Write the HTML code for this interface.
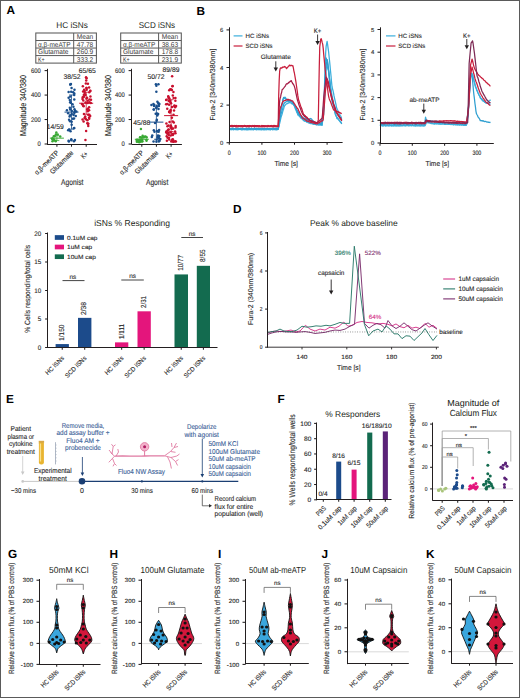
<!DOCTYPE html>
<html><head><meta charset="utf-8"><title>Figure</title>
<style>
html,body{margin:0;padding:0;background:#fff;}
body{width:520px;height:698px;overflow:hidden;}
svg{display:block;font-family:"Liberation Sans", sans-serif;text-rendering:geometricPrecision;}
</style></head><body>
<svg width="520" height="698" viewBox="0 0 520 698">
<rect x="0" y="0" width="520" height="698" fill="#fff"/>
<text x="6.60" y="14.20" font-size="11.8" text-anchor="start" fill="#000" font-weight="bold">A</text>
<text x="196.60" y="14.60" font-size="11.8" text-anchor="start" fill="#000" font-weight="bold">B</text>
<text x="6.50" y="212.90" font-size="11.8" text-anchor="start" fill="#000" font-weight="bold">C</text>
<text x="232.90" y="212.80" font-size="11.8" text-anchor="start" fill="#000" font-weight="bold">D</text>
<text x="6.10" y="402.80" font-size="11.8" text-anchor="start" fill="#000" font-weight="bold">E</text>
<text x="277.60" y="402.70" font-size="11.8" text-anchor="start" fill="#000" font-weight="bold">F</text>
<text x="8.00" y="557.60" font-size="11.8" text-anchor="start" fill="#000" font-weight="bold">G</text>
<text x="109.40" y="557.60" font-size="11.8" text-anchor="start" fill="#000" font-weight="bold">H</text>
<text x="217.90" y="557.60" font-size="11.8" text-anchor="start" fill="#000" font-weight="bold">I</text>
<text x="321.40" y="557.60" font-size="11.8" text-anchor="start" fill="#000" font-weight="bold">J</text>
<text x="425.90" y="557.70" font-size="11.8" text-anchor="start" fill="#000" font-weight="bold">K</text>
<text x="72.00" y="28.11" font-size="8.4" text-anchor="middle" fill="#231f20" textLength="31.50" lengthAdjust="spacingAndGlyphs">HC iSNs</text>
<rect x="35.80" y="33.00" width="60.60" height="30.10" fill="none" stroke="#5a5a5a" stroke-width="1.05"/>
<line x1="35.80" y1="40.52" x2="96.40" y2="40.52" stroke="#5a5a5a" stroke-width="1.0"/>
<line x1="35.80" y1="48.05" x2="96.40" y2="48.05" stroke="#5a5a5a" stroke-width="1.0"/>
<line x1="35.80" y1="55.58" x2="96.40" y2="55.58" stroke="#5a5a5a" stroke-width="1.0"/>
<line x1="73.70" y1="33.00" x2="73.70" y2="63.10" stroke="#5a5a5a" stroke-width="1.0"/>
<text x="85.05" y="39.27" font-size="7.0" text-anchor="middle" fill="#3a3a3a" textLength="16.50" lengthAdjust="spacingAndGlyphs">Mean</text>
<text x="38.00" y="46.79" font-size="7.0" text-anchor="start" fill="#3a3a3a" textLength="32.50" lengthAdjust="spacingAndGlyphs">α,β-meATP</text>
<text x="85.05" y="46.79" font-size="7.0" text-anchor="middle" fill="#3a3a3a" textLength="16.50" lengthAdjust="spacingAndGlyphs">47.78</text>
<text x="38.00" y="54.32" font-size="7.0" text-anchor="start" fill="#3a3a3a" textLength="30.50" lengthAdjust="spacingAndGlyphs">Glutamate</text>
<text x="85.05" y="54.32" font-size="7.0" text-anchor="middle" fill="#3a3a3a" textLength="16.50" lengthAdjust="spacingAndGlyphs">260.9</text>
<text x="38.00" y="61.84" font-size="7.0" text-anchor="start" fill="#3a3a3a" textLength="6.70" lengthAdjust="spacingAndGlyphs">K+</text>
<text x="85.05" y="61.84" font-size="7.0" text-anchor="middle" fill="#3a3a3a" textLength="16.50" lengthAdjust="spacingAndGlyphs">333.2</text>
<line x1="47.50" y1="68.80" x2="47.50" y2="144.50" stroke="#231f20" stroke-width="1.05"/>
<line x1="44.60" y1="144.00" x2="47.50" y2="144.00" stroke="#231f20" stroke-width="1.05"/>
<text x="40.80" y="146.36" font-size="6.6" text-anchor="end" fill="#2a2a2a" stroke="#2a2a2a" stroke-width="0.12" textLength="3.27" lengthAdjust="spacingAndGlyphs">0</text>
<line x1="44.60" y1="119.53" x2="47.50" y2="119.53" stroke="#231f20" stroke-width="1.05"/>
<text x="40.80" y="121.90" font-size="6.6" text-anchor="end" fill="#2a2a2a" stroke="#2a2a2a" stroke-width="0.12" textLength="9.80" lengthAdjust="spacingAndGlyphs">200</text>
<line x1="44.60" y1="95.07" x2="47.50" y2="95.07" stroke="#231f20" stroke-width="1.05"/>
<text x="40.80" y="97.43" font-size="6.6" text-anchor="end" fill="#2a2a2a" stroke="#2a2a2a" stroke-width="0.12" textLength="9.80" lengthAdjust="spacingAndGlyphs">400</text>
<line x1="44.60" y1="70.60" x2="47.50" y2="70.60" stroke="#231f20" stroke-width="1.05"/>
<text x="40.80" y="72.96" font-size="6.6" text-anchor="end" fill="#2a2a2a" stroke="#2a2a2a" stroke-width="0.12" textLength="9.80" lengthAdjust="spacingAndGlyphs">600</text>
<line x1="47.00" y1="144.50" x2="97.00" y2="144.50" stroke="#231f20" stroke-width="1.05"/>
<line x1="56.90" y1="144.50" x2="56.90" y2="146.70" stroke="#231f20" stroke-width="1.05"/>
<line x1="71.50" y1="144.50" x2="71.50" y2="146.70" stroke="#231f20" stroke-width="1.05"/>
<line x1="86.20" y1="144.50" x2="86.20" y2="146.70" stroke="#231f20" stroke-width="1.05"/>
<text x="25.78" y="105.60" font-size="8.6" text-anchor="middle" fill="#231f20" stroke="#231f20" stroke-width="0.12" transform="rotate(-90 25.78 105.60)" textLength="60.90" lengthAdjust="spacingAndGlyphs">Magnitude 340/380</text>
<text x="59.30" y="153.40" font-size="7.2" text-anchor="end" fill="#2a2a2a" stroke="#2a2a2a" stroke-width="0.12" textLength="31.00" lengthAdjust="spacingAndGlyphs" transform="rotate(-45 59.30 153.40)">α,β-meATP</text>
<text x="73.90" y="153.40" font-size="7.2" text-anchor="end" fill="#2a2a2a" stroke="#2a2a2a" stroke-width="0.12" textLength="30.00" lengthAdjust="spacingAndGlyphs" transform="rotate(-45 73.90 153.40)">Glutamate</text>
<text x="88.60" y="154.40" font-size="7.4" text-anchor="end" fill="#2a2a2a" stroke="#2a2a2a" stroke-width="0.12" textLength="6.80" lengthAdjust="spacingAndGlyphs" transform="rotate(-45 88.60 154.40)">K+</text>
<text x="72.20" y="185.11" font-size="8.4" text-anchor="middle" fill="#2a2a2a" stroke="#2a2a2a" stroke-width="0.12" textLength="22.30" lengthAdjust="spacingAndGlyphs">Agonist</text>
<circle cx="53.93" cy="139.97" r="1.25" fill="#3aa935"/>
<circle cx="55.49" cy="140.82" r="1.25" fill="#3aa935"/>
<circle cx="52.43" cy="138.37" r="1.25" fill="#3aa935"/>
<circle cx="52.50" cy="141.20" r="1.25" fill="#3aa935"/>
<circle cx="53.41" cy="138.93" r="1.25" fill="#3aa935"/>
<circle cx="53.39" cy="139.76" r="1.25" fill="#3aa935"/>
<circle cx="55.70" cy="141.27" r="1.25" fill="#3aa935"/>
<circle cx="52.16" cy="139.07" r="1.25" fill="#3aa935"/>
<circle cx="60.19" cy="136.48" r="1.25" fill="#3aa935"/>
<circle cx="57.70" cy="134.54" r="1.25" fill="#3aa935"/>
<circle cx="53.81" cy="136.32" r="1.25" fill="#3aa935"/>
<circle cx="54.72" cy="136.22" r="1.25" fill="#3aa935"/>
<circle cx="55.83" cy="134.58" r="1.25" fill="#3aa935"/>
<circle cx="56.32" cy="132.61" r="1.25" fill="#3aa935"/>
<line x1="49.90" y1="138.15" x2="63.90" y2="138.15" stroke="#3aa935" stroke-width="1.0"/>
<line x1="56.90" y1="135.71" x2="56.90" y2="140.60" stroke="#3aa935" stroke-width="0.8"/>
<line x1="54.50" y1="135.71" x2="59.30" y2="135.71" stroke="#3aa935" stroke-width="0.8"/>
<line x1="54.50" y1="140.60" x2="59.30" y2="140.60" stroke="#3aa935" stroke-width="0.8"/>
<circle cx="68.86" cy="141.46" r="1.25" fill="#1a4f8c"/>
<circle cx="73.94" cy="141.20" r="1.25" fill="#1a4f8c"/>
<circle cx="74.95" cy="140.11" r="1.25" fill="#1a4f8c"/>
<circle cx="71.26" cy="139.25" r="1.25" fill="#1a4f8c"/>
<circle cx="71.39" cy="140.24" r="1.25" fill="#1a4f8c"/>
<circle cx="68.60" cy="140.73" r="1.25" fill="#1a4f8c"/>
<circle cx="69.07" cy="119.82" r="1.25" fill="#1a4f8c"/>
<circle cx="70.54" cy="131.20" r="1.25" fill="#1a4f8c"/>
<circle cx="70.07" cy="121.26" r="1.25" fill="#1a4f8c"/>
<circle cx="73.80" cy="128.22" r="1.25" fill="#1a4f8c"/>
<circle cx="69.13" cy="130.00" r="1.25" fill="#1a4f8c"/>
<circle cx="68.16" cy="130.33" r="1.25" fill="#1a4f8c"/>
<circle cx="74.25" cy="127.99" r="1.25" fill="#1a4f8c"/>
<circle cx="71.65" cy="121.78" r="1.25" fill="#1a4f8c"/>
<circle cx="69.03" cy="129.56" r="1.25" fill="#1a4f8c"/>
<circle cx="71.65" cy="124.65" r="1.25" fill="#1a4f8c"/>
<circle cx="66.91" cy="110.15" r="1.25" fill="#1a4f8c"/>
<circle cx="71.78" cy="114.07" r="1.25" fill="#1a4f8c"/>
<circle cx="76.29" cy="111.49" r="1.25" fill="#1a4f8c"/>
<circle cx="74.04" cy="118.61" r="1.25" fill="#1a4f8c"/>
<circle cx="72.87" cy="118.66" r="1.25" fill="#1a4f8c"/>
<circle cx="69.61" cy="116.51" r="1.25" fill="#1a4f8c"/>
<circle cx="70.21" cy="109.55" r="1.25" fill="#1a4f8c"/>
<circle cx="68.17" cy="113.26" r="1.25" fill="#1a4f8c"/>
<circle cx="73.65" cy="114.92" r="1.25" fill="#1a4f8c"/>
<circle cx="71.82" cy="110.94" r="1.25" fill="#1a4f8c"/>
<circle cx="74.29" cy="112.88" r="1.25" fill="#1a4f8c"/>
<circle cx="70.15" cy="115.13" r="1.25" fill="#1a4f8c"/>
<circle cx="69.81" cy="107.87" r="1.25" fill="#1a4f8c"/>
<circle cx="74.52" cy="109.27" r="1.25" fill="#1a4f8c"/>
<circle cx="75.77" cy="115.95" r="1.25" fill="#1a4f8c"/>
<circle cx="75.03" cy="111.10" r="1.25" fill="#1a4f8c"/>
<circle cx="74.56" cy="111.82" r="1.25" fill="#1a4f8c"/>
<circle cx="73.44" cy="106.69" r="1.25" fill="#1a4f8c"/>
<circle cx="73.18" cy="92.36" r="1.25" fill="#1a4f8c"/>
<circle cx="69.83" cy="99.92" r="1.25" fill="#1a4f8c"/>
<circle cx="71.56" cy="88.07" r="1.25" fill="#1a4f8c"/>
<circle cx="70.75" cy="102.83" r="1.25" fill="#1a4f8c"/>
<circle cx="68.63" cy="97.69" r="1.25" fill="#1a4f8c"/>
<circle cx="68.62" cy="91.89" r="1.25" fill="#1a4f8c"/>
<circle cx="70.15" cy="102.25" r="1.25" fill="#1a4f8c"/>
<circle cx="70.25" cy="96.48" r="1.25" fill="#1a4f8c"/>
<circle cx="72.50" cy="104.18" r="1.25" fill="#1a4f8c"/>
<circle cx="74.28" cy="93.41" r="1.25" fill="#1a4f8c"/>
<circle cx="71.18" cy="91.76" r="1.25" fill="#1a4f8c"/>
<circle cx="74.17" cy="95.04" r="1.25" fill="#1a4f8c"/>
<circle cx="74.48" cy="89.86" r="1.25" fill="#1a4f8c"/>
<circle cx="74.28" cy="99.48" r="1.25" fill="#1a4f8c"/>
<circle cx="70.92" cy="83.90" r="1.25" fill="#1a4f8c"/>
<circle cx="70.30" cy="84.45" r="1.25" fill="#1a4f8c"/>
<circle cx="70.33" cy="84.53" r="1.25" fill="#1a4f8c"/>
<line x1="64.50" y1="112.08" x2="78.50" y2="112.08" stroke="#1a4f8c" stroke-width="1.0"/>
<line x1="71.50" y1="94.96" x2="71.50" y2="129.21" stroke="#1a4f8c" stroke-width="0.8"/>
<line x1="69.10" y1="94.96" x2="73.90" y2="94.96" stroke="#1a4f8c" stroke-width="0.8"/>
<line x1="69.10" y1="129.21" x2="73.90" y2="129.21" stroke="#1a4f8c" stroke-width="0.8"/>
<circle cx="85.44" cy="140.10" r="1.25" fill="#c8102e"/>
<circle cx="83.60" cy="121.49" r="1.25" fill="#c8102e"/>
<circle cx="87.40" cy="120.21" r="1.25" fill="#c8102e"/>
<circle cx="88.28" cy="125.97" r="1.25" fill="#c8102e"/>
<circle cx="88.28" cy="123.64" r="1.25" fill="#c8102e"/>
<circle cx="86.15" cy="131.02" r="1.25" fill="#c8102e"/>
<circle cx="87.27" cy="123.19" r="1.25" fill="#c8102e"/>
<circle cx="88.03" cy="123.85" r="1.25" fill="#c8102e"/>
<circle cx="82.55" cy="119.62" r="1.25" fill="#c8102e"/>
<circle cx="87.18" cy="109.48" r="1.25" fill="#c8102e"/>
<circle cx="90.17" cy="116.05" r="1.25" fill="#c8102e"/>
<circle cx="88.18" cy="114.81" r="1.25" fill="#c8102e"/>
<circle cx="87.73" cy="111.35" r="1.25" fill="#c8102e"/>
<circle cx="85.99" cy="119.26" r="1.25" fill="#c8102e"/>
<circle cx="83.95" cy="113.89" r="1.25" fill="#c8102e"/>
<circle cx="89.09" cy="117.48" r="1.25" fill="#c8102e"/>
<circle cx="84.58" cy="118.10" r="1.25" fill="#c8102e"/>
<circle cx="89.21" cy="118.81" r="1.25" fill="#c8102e"/>
<circle cx="89.08" cy="110.14" r="1.25" fill="#c8102e"/>
<circle cx="85.19" cy="117.95" r="1.25" fill="#c8102e"/>
<circle cx="85.21" cy="116.50" r="1.25" fill="#c8102e"/>
<circle cx="89.33" cy="114.75" r="1.25" fill="#c8102e"/>
<circle cx="87.98" cy="108.87" r="1.25" fill="#c8102e"/>
<circle cx="83.30" cy="105.82" r="1.25" fill="#c8102e"/>
<circle cx="82.47" cy="99.06" r="1.25" fill="#c8102e"/>
<circle cx="82.71" cy="97.22" r="1.25" fill="#c8102e"/>
<circle cx="90.25" cy="91.09" r="1.25" fill="#c8102e"/>
<circle cx="89.27" cy="92.27" r="1.25" fill="#c8102e"/>
<circle cx="83.09" cy="91.45" r="1.25" fill="#c8102e"/>
<circle cx="89.47" cy="102.19" r="1.25" fill="#c8102e"/>
<circle cx="91.00" cy="99.68" r="1.25" fill="#c8102e"/>
<circle cx="87.77" cy="100.72" r="1.25" fill="#c8102e"/>
<circle cx="84.70" cy="91.08" r="1.25" fill="#c8102e"/>
<circle cx="86.69" cy="89.73" r="1.25" fill="#c8102e"/>
<circle cx="82.62" cy="104.53" r="1.25" fill="#c8102e"/>
<circle cx="81.93" cy="104.07" r="1.25" fill="#c8102e"/>
<circle cx="90.77" cy="103.04" r="1.25" fill="#c8102e"/>
<circle cx="87.65" cy="103.02" r="1.25" fill="#c8102e"/>
<circle cx="86.47" cy="98.40" r="1.25" fill="#c8102e"/>
<circle cx="90.41" cy="96.49" r="1.25" fill="#c8102e"/>
<circle cx="85.54" cy="102.48" r="1.25" fill="#c8102e"/>
<circle cx="89.14" cy="107.22" r="1.25" fill="#c8102e"/>
<circle cx="89.46" cy="99.61" r="1.25" fill="#c8102e"/>
<circle cx="83.31" cy="100.52" r="1.25" fill="#c8102e"/>
<circle cx="83.72" cy="96.91" r="1.25" fill="#c8102e"/>
<circle cx="84.13" cy="89.81" r="1.25" fill="#c8102e"/>
<circle cx="83.92" cy="94.63" r="1.25" fill="#c8102e"/>
<circle cx="87.06" cy="97.84" r="1.25" fill="#c8102e"/>
<circle cx="83.87" cy="95.97" r="1.25" fill="#c8102e"/>
<circle cx="85.41" cy="94.89" r="1.25" fill="#c8102e"/>
<circle cx="83.62" cy="106.31" r="1.25" fill="#c8102e"/>
<circle cx="90.30" cy="90.79" r="1.25" fill="#c8102e"/>
<circle cx="84.78" cy="92.99" r="1.25" fill="#c8102e"/>
<circle cx="86.06" cy="77.18" r="1.25" fill="#c8102e"/>
<circle cx="86.56" cy="78.21" r="1.25" fill="#c8102e"/>
<circle cx="87.94" cy="83.67" r="1.25" fill="#c8102e"/>
<circle cx="85.86" cy="83.58" r="1.25" fill="#c8102e"/>
<circle cx="89.12" cy="87.56" r="1.25" fill="#c8102e"/>
<circle cx="86.21" cy="80.41" r="1.25" fill="#c8102e"/>
<circle cx="86.51" cy="88.11" r="1.25" fill="#c8102e"/>
<circle cx="86.43" cy="88.04" r="1.25" fill="#c8102e"/>
<circle cx="82.83" cy="86.14" r="1.25" fill="#c8102e"/>
<line x1="79.20" y1="103.24" x2="93.20" y2="103.24" stroke="#c8102e" stroke-width="1.0"/>
<line x1="86.20" y1="92.23" x2="86.20" y2="114.25" stroke="#c8102e" stroke-width="0.8"/>
<line x1="83.80" y1="92.23" x2="88.60" y2="92.23" stroke="#c8102e" stroke-width="0.8"/>
<line x1="83.80" y1="114.25" x2="88.60" y2="114.25" stroke="#c8102e" stroke-width="0.8"/>
<text x="55.30" y="128.77" font-size="6.9" text-anchor="middle" fill="#2a2a2a" stroke="#2a2a2a" stroke-width="0.12" textLength="17.00" lengthAdjust="spacingAndGlyphs">14/59</text>
<text x="72.00" y="78.67" font-size="6.9" text-anchor="middle" fill="#2a2a2a" stroke="#2a2a2a" stroke-width="0.12" textLength="17.00" lengthAdjust="spacingAndGlyphs">38/52</text>
<text x="87.20" y="72.77" font-size="6.9" text-anchor="middle" fill="#2a2a2a" stroke="#2a2a2a" stroke-width="0.12" textLength="17.00" lengthAdjust="spacingAndGlyphs">65/65</text>
<text x="156.90" y="28.11" font-size="8.4" text-anchor="middle" fill="#231f20" textLength="36.50" lengthAdjust="spacingAndGlyphs">SCD iSNs</text>
<rect x="120.70" y="33.00" width="60.60" height="30.10" fill="none" stroke="#5a5a5a" stroke-width="1.05"/>
<line x1="120.70" y1="40.52" x2="181.30" y2="40.52" stroke="#5a5a5a" stroke-width="1.0"/>
<line x1="120.70" y1="48.05" x2="181.30" y2="48.05" stroke="#5a5a5a" stroke-width="1.0"/>
<line x1="120.70" y1="55.58" x2="181.30" y2="55.58" stroke="#5a5a5a" stroke-width="1.0"/>
<line x1="158.60" y1="33.00" x2="158.60" y2="63.10" stroke="#5a5a5a" stroke-width="1.0"/>
<text x="169.95" y="39.27" font-size="7.0" text-anchor="middle" fill="#3a3a3a" textLength="16.50" lengthAdjust="spacingAndGlyphs">Mean</text>
<text x="122.90" y="46.79" font-size="7.0" text-anchor="start" fill="#3a3a3a" textLength="32.50" lengthAdjust="spacingAndGlyphs">α,β-meATP</text>
<text x="169.95" y="46.79" font-size="7.0" text-anchor="middle" fill="#3a3a3a" textLength="16.50" lengthAdjust="spacingAndGlyphs">38.63</text>
<text x="122.90" y="54.32" font-size="7.0" text-anchor="start" fill="#3a3a3a" textLength="30.50" lengthAdjust="spacingAndGlyphs">Glutamate</text>
<text x="169.95" y="54.32" font-size="7.0" text-anchor="middle" fill="#3a3a3a" textLength="16.50" lengthAdjust="spacingAndGlyphs">178.8</text>
<text x="122.90" y="61.84" font-size="7.0" text-anchor="start" fill="#3a3a3a" textLength="6.70" lengthAdjust="spacingAndGlyphs">K+</text>
<text x="169.95" y="61.84" font-size="7.0" text-anchor="middle" fill="#3a3a3a" textLength="16.50" lengthAdjust="spacingAndGlyphs">231.9</text>
<line x1="131.50" y1="68.80" x2="131.50" y2="144.50" stroke="#231f20" stroke-width="1.05"/>
<line x1="128.60" y1="144.00" x2="131.50" y2="144.00" stroke="#231f20" stroke-width="1.05"/>
<text x="124.80" y="146.36" font-size="6.6" text-anchor="end" fill="#2a2a2a" stroke="#2a2a2a" stroke-width="0.12" textLength="3.27" lengthAdjust="spacingAndGlyphs">0</text>
<line x1="128.60" y1="119.53" x2="131.50" y2="119.53" stroke="#231f20" stroke-width="1.05"/>
<text x="124.80" y="121.90" font-size="6.6" text-anchor="end" fill="#2a2a2a" stroke="#2a2a2a" stroke-width="0.12" textLength="9.80" lengthAdjust="spacingAndGlyphs">200</text>
<line x1="128.60" y1="95.07" x2="131.50" y2="95.07" stroke="#231f20" stroke-width="1.05"/>
<text x="124.80" y="97.43" font-size="6.6" text-anchor="end" fill="#2a2a2a" stroke="#2a2a2a" stroke-width="0.12" textLength="9.80" lengthAdjust="spacingAndGlyphs">400</text>
<line x1="128.60" y1="70.60" x2="131.50" y2="70.60" stroke="#231f20" stroke-width="1.05"/>
<text x="124.80" y="72.96" font-size="6.6" text-anchor="end" fill="#2a2a2a" stroke="#2a2a2a" stroke-width="0.12" textLength="9.80" lengthAdjust="spacingAndGlyphs">600</text>
<line x1="131.90" y1="144.50" x2="181.90" y2="144.50" stroke="#231f20" stroke-width="1.05"/>
<line x1="141.80" y1="144.50" x2="141.80" y2="146.70" stroke="#231f20" stroke-width="1.05"/>
<line x1="156.40" y1="144.50" x2="156.40" y2="146.70" stroke="#231f20" stroke-width="1.05"/>
<line x1="171.10" y1="144.50" x2="171.10" y2="146.70" stroke="#231f20" stroke-width="1.05"/>
<text x="110.68" y="105.60" font-size="8.6" text-anchor="middle" fill="#231f20" stroke="#231f20" stroke-width="0.12" transform="rotate(-90 110.68 105.60)" textLength="60.90" lengthAdjust="spacingAndGlyphs">Magnitude 340/380</text>
<text x="144.20" y="153.40" font-size="7.2" text-anchor="end" fill="#2a2a2a" stroke="#2a2a2a" stroke-width="0.12" textLength="31.00" lengthAdjust="spacingAndGlyphs" transform="rotate(-45 144.20 153.40)">α,β-meATP</text>
<text x="158.80" y="153.40" font-size="7.2" text-anchor="end" fill="#2a2a2a" stroke="#2a2a2a" stroke-width="0.12" textLength="30.00" lengthAdjust="spacingAndGlyphs" transform="rotate(-45 158.80 153.40)">Glutamate</text>
<text x="173.50" y="154.40" font-size="7.4" text-anchor="end" fill="#2a2a2a" stroke="#2a2a2a" stroke-width="0.12" textLength="6.80" lengthAdjust="spacingAndGlyphs" transform="rotate(-45 173.50 154.40)">K+</text>
<text x="157.10" y="185.11" font-size="8.4" text-anchor="middle" fill="#2a2a2a" stroke="#2a2a2a" stroke-width="0.12" textLength="22.30" lengthAdjust="spacingAndGlyphs">Agonist</text>
<circle cx="146.53" cy="140.82" r="1.25" fill="#3aa935"/>
<circle cx="142.27" cy="141.60" r="1.25" fill="#3aa935"/>
<circle cx="139.24" cy="142.15" r="1.25" fill="#3aa935"/>
<circle cx="146.46" cy="139.72" r="1.25" fill="#3aa935"/>
<circle cx="139.90" cy="141.64" r="1.25" fill="#3aa935"/>
<circle cx="140.37" cy="140.72" r="1.25" fill="#3aa935"/>
<circle cx="136.81" cy="139.95" r="1.25" fill="#3aa935"/>
<circle cx="140.62" cy="140.46" r="1.25" fill="#3aa935"/>
<circle cx="141.55" cy="141.17" r="1.25" fill="#3aa935"/>
<circle cx="141.83" cy="140.58" r="1.25" fill="#3aa935"/>
<circle cx="138.81" cy="140.47" r="1.25" fill="#3aa935"/>
<circle cx="141.85" cy="139.77" r="1.25" fill="#3aa935"/>
<circle cx="136.85" cy="141.84" r="1.25" fill="#3aa935"/>
<circle cx="139.44" cy="140.45" r="1.25" fill="#3aa935"/>
<circle cx="137.70" cy="141.41" r="1.25" fill="#3aa935"/>
<circle cx="140.80" cy="141.32" r="1.25" fill="#3aa935"/>
<circle cx="137.22" cy="139.80" r="1.25" fill="#3aa935"/>
<circle cx="137.02" cy="140.61" r="1.25" fill="#3aa935"/>
<circle cx="139.84" cy="140.45" r="1.25" fill="#3aa935"/>
<circle cx="139.13" cy="139.84" r="1.25" fill="#3aa935"/>
<circle cx="142.63" cy="135.76" r="1.25" fill="#3aa935"/>
<circle cx="142.09" cy="137.48" r="1.25" fill="#3aa935"/>
<circle cx="144.31" cy="136.86" r="1.25" fill="#3aa935"/>
<circle cx="143.38" cy="137.25" r="1.25" fill="#3aa935"/>
<circle cx="143.96" cy="137.23" r="1.25" fill="#3aa935"/>
<circle cx="145.48" cy="136.56" r="1.25" fill="#3aa935"/>
<circle cx="140.70" cy="137.45" r="1.25" fill="#3aa935"/>
<circle cx="140.06" cy="137.15" r="1.25" fill="#3aa935"/>
<circle cx="146.65" cy="137.35" r="1.25" fill="#3aa935"/>
<circle cx="140.92" cy="128.89" r="1.25" fill="#3aa935"/>
<line x1="134.80" y1="139.27" x2="148.80" y2="139.27" stroke="#3aa935" stroke-width="1.0"/>
<line x1="141.80" y1="137.44" x2="141.80" y2="141.11" stroke="#3aa935" stroke-width="0.8"/>
<line x1="139.40" y1="137.44" x2="144.20" y2="137.44" stroke="#3aa935" stroke-width="0.8"/>
<line x1="139.40" y1="141.11" x2="144.20" y2="141.11" stroke="#3aa935" stroke-width="0.8"/>
<circle cx="158.64" cy="138.32" r="1.25" fill="#1a4f8c"/>
<circle cx="157.83" cy="137.34" r="1.25" fill="#1a4f8c"/>
<circle cx="151.84" cy="136.98" r="1.25" fill="#1a4f8c"/>
<circle cx="159.35" cy="140.74" r="1.25" fill="#1a4f8c"/>
<circle cx="160.32" cy="139.08" r="1.25" fill="#1a4f8c"/>
<circle cx="157.67" cy="136.97" r="1.25" fill="#1a4f8c"/>
<circle cx="158.74" cy="137.54" r="1.25" fill="#1a4f8c"/>
<circle cx="158.87" cy="141.41" r="1.25" fill="#1a4f8c"/>
<circle cx="153.55" cy="141.50" r="1.25" fill="#1a4f8c"/>
<circle cx="156.64" cy="139.73" r="1.25" fill="#1a4f8c"/>
<circle cx="156.43" cy="141.77" r="1.25" fill="#1a4f8c"/>
<circle cx="159.35" cy="140.84" r="1.25" fill="#1a4f8c"/>
<circle cx="159.36" cy="136.12" r="1.25" fill="#1a4f8c"/>
<circle cx="158.68" cy="131.75" r="1.25" fill="#1a4f8c"/>
<circle cx="156.99" cy="130.91" r="1.25" fill="#1a4f8c"/>
<circle cx="159.15" cy="130.08" r="1.25" fill="#1a4f8c"/>
<circle cx="158.01" cy="135.53" r="1.25" fill="#1a4f8c"/>
<circle cx="157.75" cy="131.40" r="1.25" fill="#1a4f8c"/>
<circle cx="154.51" cy="131.81" r="1.25" fill="#1a4f8c"/>
<circle cx="152.27" cy="135.61" r="1.25" fill="#1a4f8c"/>
<circle cx="153.83" cy="130.18" r="1.25" fill="#1a4f8c"/>
<circle cx="155.68" cy="113.81" r="1.25" fill="#1a4f8c"/>
<circle cx="155.06" cy="122.96" r="1.25" fill="#1a4f8c"/>
<circle cx="158.15" cy="114.00" r="1.25" fill="#1a4f8c"/>
<circle cx="156.65" cy="120.78" r="1.25" fill="#1a4f8c"/>
<circle cx="156.83" cy="119.69" r="1.25" fill="#1a4f8c"/>
<circle cx="157.06" cy="113.54" r="1.25" fill="#1a4f8c"/>
<circle cx="157.34" cy="115.47" r="1.25" fill="#1a4f8c"/>
<circle cx="156.30" cy="107.97" r="1.25" fill="#1a4f8c"/>
<circle cx="151.43" cy="105.00" r="1.25" fill="#1a4f8c"/>
<circle cx="159.38" cy="104.07" r="1.25" fill="#1a4f8c"/>
<circle cx="158.88" cy="106.01" r="1.25" fill="#1a4f8c"/>
<circle cx="156.43" cy="107.59" r="1.25" fill="#1a4f8c"/>
<circle cx="156.75" cy="106.24" r="1.25" fill="#1a4f8c"/>
<circle cx="157.37" cy="101.80" r="1.25" fill="#1a4f8c"/>
<circle cx="153.75" cy="109.53" r="1.25" fill="#1a4f8c"/>
<circle cx="158.77" cy="103.65" r="1.25" fill="#1a4f8c"/>
<circle cx="153.92" cy="104.90" r="1.25" fill="#1a4f8c"/>
<circle cx="153.80" cy="109.55" r="1.25" fill="#1a4f8c"/>
<circle cx="154.06" cy="106.10" r="1.25" fill="#1a4f8c"/>
<circle cx="158.21" cy="102.88" r="1.25" fill="#1a4f8c"/>
<circle cx="153.45" cy="104.11" r="1.25" fill="#1a4f8c"/>
<circle cx="158.51" cy="109.04" r="1.25" fill="#1a4f8c"/>
<circle cx="158.45" cy="84.18" r="1.25" fill="#1a4f8c"/>
<circle cx="156.37" cy="85.87" r="1.25" fill="#1a4f8c"/>
<circle cx="155.90" cy="84.30" r="1.25" fill="#1a4f8c"/>
<circle cx="156.35" cy="91.72" r="1.25" fill="#1a4f8c"/>
<line x1="149.40" y1="122.13" x2="163.40" y2="122.13" stroke="#1a4f8c" stroke-width="1.0"/>
<line x1="156.40" y1="105.00" x2="156.40" y2="139.25" stroke="#1a4f8c" stroke-width="0.8"/>
<line x1="154.00" y1="105.00" x2="158.80" y2="105.00" stroke="#1a4f8c" stroke-width="0.8"/>
<line x1="154.00" y1="139.25" x2="158.80" y2="139.25" stroke="#1a4f8c" stroke-width="0.8"/>
<circle cx="172.94" cy="139.40" r="1.25" fill="#c8102e"/>
<circle cx="173.77" cy="141.75" r="1.25" fill="#c8102e"/>
<circle cx="172.27" cy="134.06" r="1.25" fill="#c8102e"/>
<circle cx="172.53" cy="139.35" r="1.25" fill="#c8102e"/>
<circle cx="166.87" cy="140.82" r="1.25" fill="#c8102e"/>
<circle cx="167.57" cy="137.77" r="1.25" fill="#c8102e"/>
<circle cx="168.64" cy="132.69" r="1.25" fill="#c8102e"/>
<circle cx="173.53" cy="133.65" r="1.25" fill="#c8102e"/>
<circle cx="169.14" cy="139.48" r="1.25" fill="#c8102e"/>
<circle cx="171.78" cy="140.61" r="1.25" fill="#c8102e"/>
<circle cx="166.22" cy="132.61" r="1.25" fill="#c8102e"/>
<circle cx="166.71" cy="136.23" r="1.25" fill="#c8102e"/>
<circle cx="168.79" cy="134.88" r="1.25" fill="#c8102e"/>
<circle cx="172.82" cy="141.23" r="1.25" fill="#c8102e"/>
<circle cx="173.02" cy="141.57" r="1.25" fill="#c8102e"/>
<circle cx="172.86" cy="135.01" r="1.25" fill="#c8102e"/>
<circle cx="169.01" cy="137.74" r="1.25" fill="#c8102e"/>
<circle cx="171.27" cy="141.41" r="1.25" fill="#c8102e"/>
<circle cx="170.75" cy="132.41" r="1.25" fill="#c8102e"/>
<circle cx="170.76" cy="135.57" r="1.25" fill="#c8102e"/>
<circle cx="167.29" cy="133.83" r="1.25" fill="#c8102e"/>
<circle cx="175.04" cy="141.29" r="1.25" fill="#c8102e"/>
<circle cx="168.09" cy="133.26" r="1.25" fill="#c8102e"/>
<circle cx="175.88" cy="141.47" r="1.25" fill="#c8102e"/>
<circle cx="175.46" cy="133.19" r="1.25" fill="#c8102e"/>
<circle cx="166.42" cy="123.44" r="1.25" fill="#c8102e"/>
<circle cx="170.69" cy="125.54" r="1.25" fill="#c8102e"/>
<circle cx="172.76" cy="121.62" r="1.25" fill="#c8102e"/>
<circle cx="173.53" cy="114.76" r="1.25" fill="#c8102e"/>
<circle cx="170.59" cy="126.85" r="1.25" fill="#c8102e"/>
<circle cx="168.79" cy="129.40" r="1.25" fill="#c8102e"/>
<circle cx="169.59" cy="122.10" r="1.25" fill="#c8102e"/>
<circle cx="175.56" cy="127.39" r="1.25" fill="#c8102e"/>
<circle cx="168.21" cy="129.76" r="1.25" fill="#c8102e"/>
<circle cx="171.91" cy="128.80" r="1.25" fill="#c8102e"/>
<circle cx="167.52" cy="130.84" r="1.25" fill="#c8102e"/>
<circle cx="171.34" cy="128.06" r="1.25" fill="#c8102e"/>
<circle cx="175.63" cy="126.04" r="1.25" fill="#c8102e"/>
<circle cx="167.43" cy="126.17" r="1.25" fill="#c8102e"/>
<circle cx="171.90" cy="117.83" r="1.25" fill="#c8102e"/>
<circle cx="171.19" cy="126.45" r="1.25" fill="#c8102e"/>
<circle cx="173.81" cy="122.59" r="1.25" fill="#c8102e"/>
<circle cx="173.13" cy="128.50" r="1.25" fill="#c8102e"/>
<circle cx="168.41" cy="125.40" r="1.25" fill="#c8102e"/>
<circle cx="175.08" cy="131.43" r="1.25" fill="#c8102e"/>
<circle cx="170.96" cy="127.17" r="1.25" fill="#c8102e"/>
<circle cx="166.35" cy="131.49" r="1.25" fill="#c8102e"/>
<circle cx="166.14" cy="99.96" r="1.25" fill="#c8102e"/>
<circle cx="171.02" cy="103.30" r="1.25" fill="#c8102e"/>
<circle cx="170.61" cy="109.94" r="1.25" fill="#c8102e"/>
<circle cx="169.12" cy="104.70" r="1.25" fill="#c8102e"/>
<circle cx="168.26" cy="96.27" r="1.25" fill="#c8102e"/>
<circle cx="169.73" cy="111.47" r="1.25" fill="#c8102e"/>
<circle cx="169.26" cy="98.39" r="1.25" fill="#c8102e"/>
<circle cx="174.40" cy="105.49" r="1.25" fill="#c8102e"/>
<circle cx="166.12" cy="104.33" r="1.25" fill="#c8102e"/>
<circle cx="173.61" cy="98.10" r="1.25" fill="#c8102e"/>
<circle cx="174.49" cy="106.20" r="1.25" fill="#c8102e"/>
<circle cx="167.30" cy="104.12" r="1.25" fill="#c8102e"/>
<circle cx="175.36" cy="100.80" r="1.25" fill="#c8102e"/>
<circle cx="172.78" cy="95.39" r="1.25" fill="#c8102e"/>
<circle cx="175.12" cy="107.13" r="1.25" fill="#c8102e"/>
<circle cx="169.00" cy="98.14" r="1.25" fill="#c8102e"/>
<circle cx="169.82" cy="100.45" r="1.25" fill="#c8102e"/>
<circle cx="170.03" cy="101.75" r="1.25" fill="#c8102e"/>
<circle cx="176.09" cy="105.99" r="1.25" fill="#c8102e"/>
<circle cx="171.99" cy="107.04" r="1.25" fill="#c8102e"/>
<circle cx="169.87" cy="112.42" r="1.25" fill="#c8102e"/>
<circle cx="170.47" cy="111.03" r="1.25" fill="#c8102e"/>
<circle cx="169.12" cy="112.12" r="1.25" fill="#c8102e"/>
<circle cx="166.58" cy="99.82" r="1.25" fill="#c8102e"/>
<circle cx="167.24" cy="108.73" r="1.25" fill="#c8102e"/>
<circle cx="174.05" cy="110.42" r="1.25" fill="#c8102e"/>
<circle cx="169.21" cy="111.87" r="1.25" fill="#c8102e"/>
<circle cx="175.46" cy="97.98" r="1.25" fill="#c8102e"/>
<circle cx="168.59" cy="97.44" r="1.25" fill="#c8102e"/>
<circle cx="168.76" cy="101.11" r="1.25" fill="#c8102e"/>
<circle cx="171.17" cy="89.55" r="1.25" fill="#c8102e"/>
<circle cx="169.21" cy="90.33" r="1.25" fill="#c8102e"/>
<circle cx="170.21" cy="89.33" r="1.25" fill="#c8102e"/>
<circle cx="172.65" cy="86.07" r="1.25" fill="#c8102e"/>
<circle cx="173.44" cy="91.98" r="1.25" fill="#c8102e"/>
<circle cx="172.44" cy="86.34" r="1.25" fill="#c8102e"/>
<circle cx="171.90" cy="89.91" r="1.25" fill="#c8102e"/>
<circle cx="172.13" cy="76.24" r="1.25" fill="#c8102e"/>
<line x1="164.10" y1="115.63" x2="178.10" y2="115.63" stroke="#c8102e" stroke-width="1.0"/>
<line x1="171.10" y1="99.73" x2="171.10" y2="131.53" stroke="#c8102e" stroke-width="0.8"/>
<line x1="168.70" y1="99.73" x2="173.50" y2="99.73" stroke="#c8102e" stroke-width="0.8"/>
<line x1="168.70" y1="131.53" x2="173.50" y2="131.53" stroke="#c8102e" stroke-width="0.8"/>
<text x="141.70" y="125.27" font-size="6.9" text-anchor="middle" fill="#2a2a2a" stroke="#2a2a2a" stroke-width="0.12" textLength="17.00" lengthAdjust="spacingAndGlyphs">45/88</text>
<text x="156.00" y="78.67" font-size="6.9" text-anchor="middle" fill="#2a2a2a" stroke="#2a2a2a" stroke-width="0.12" textLength="17.00" lengthAdjust="spacingAndGlyphs">50/72</text>
<text x="171.00" y="72.47" font-size="6.9" text-anchor="middle" fill="#2a2a2a" stroke="#2a2a2a" stroke-width="0.12" textLength="17.00" lengthAdjust="spacingAndGlyphs">89/89</text>
<polyline points="229.30,128.83 229.79,129.13 230.28,129.00 230.77,129.50 231.26,128.99 231.75,129.20 232.23,128.97 232.72,129.06 233.21,129.32 233.70,129.50 234.19,128.84 234.68,129.44 235.17,129.18 235.66,129.28 236.15,129.32 236.64,128.98 237.12,128.81 237.61,129.34 238.10,129.05 238.59,129.31 239.08,129.12 239.57,129.24 240.06,129.41 240.55,129.42 241.04,129.38 241.53,128.86 242.01,129.17 242.50,129.37 242.99,128.86 243.48,128.79 243.97,129.20 244.46,129.44 244.95,129.40 245.44,129.47 245.93,129.28 246.42,129.47 246.90,129.36 247.39,129.35 247.88,129.11 248.37,128.87 248.86,128.98 249.35,129.23 249.84,129.23 250.33,129.15 250.82,129.26 251.31,129.29 251.79,129.49 252.28,129.33 252.77,128.81 253.26,129.45 253.75,129.16 254.24,129.07 254.73,128.89 255.22,129.38 255.71,129.34 256.19,129.35 256.68,129.24 257.17,129.20 257.66,128.82 258.15,128.90 258.64,128.88 259.13,129.52 259.62,129.52 260.11,129.01 260.60,128.87 261.09,129.18 261.57,129.10 262.06,129.54 262.55,129.25 263.04,128.84 263.53,128.92 264.02,128.90 264.51,128.81 265.00,129.35 265.49,129.46 265.98,129.42 266.46,129.15 266.95,129.03 267.44,128.83 267.93,129.00 268.42,129.05 268.91,128.96 269.40,129.20 269.89,129.13 270.38,129.51 270.87,128.95 271.35,129.37 271.84,128.85 272.33,129.05 272.82,129.31 273.31,129.44 273.80,129.35 274.29,129.06 274.78,129.01 275.27,129.46 275.75,129.49 276.24,129.15 276.73,129.10 277.22,129.25 277.71,129.37 278.20,129.09 278.69,125.40 279.18,121.04 279.67,116.79 280.16,112.27 280.64,110.32 281.13,107.94 281.62,106.06 282.11,104.05 282.60,101.84 283.09,99.11 283.58,98.46 284.07,97.91 284.56,97.28 285.05,97.11 285.54,97.68 286.02,98.58 286.51,99.41 287.00,99.80 287.49,100.32 287.98,101.55 288.47,101.69 288.96,101.46 289.45,101.40 289.94,101.20 290.43,101.57 290.91,101.12 291.40,101.35 291.89,102.09 292.38,102.88 292.87,102.87 293.36,103.93 293.85,104.11 294.34,105.11 294.83,106.06 295.31,106.78 295.80,108.26 296.29,108.90 296.78,110.37 297.27,111.73 297.76,112.83 298.25,113.34 298.74,113.81 299.23,114.26 299.72,115.52 300.21,115.99 300.69,116.78 301.18,116.87 301.67,118.15 302.16,118.88 302.65,119.53 303.14,119.56 303.63,119.46 304.12,119.76 304.61,120.15 305.10,120.24 305.58,120.57 306.07,121.30 306.56,121.69 307.05,121.41 307.54,121.83 308.03,122.65 308.52,122.46 309.01,122.96 309.50,123.13 309.99,123.27 310.47,123.51 310.96,123.75 311.45,123.65 311.94,123.71 312.43,123.37 312.92,124.11 313.41,123.59 313.90,124.27 314.39,124.27 314.88,124.03 315.36,124.15 315.85,124.55 316.34,124.95 316.83,124.75 317.32,124.94 317.81,124.52 318.30,125.07 318.79,124.94 319.28,124.54 319.76,125.19 320.25,124.91 320.74,124.61 321.23,124.64 321.72,125.19 322.21,125.19 322.70,119.25 323.19,112.68 323.68,107.26 324.17,95.51 324.66,81.30 325.14,67.62 325.63,53.57 326.12,46.48 326.61,43.91 327.10,41.36 327.59,44.40 328.08,48.09 328.57,51.50 329.06,56.22 329.55,60.73 330.03,65.68 330.52,70.97 331.01,75.81 331.50,81.58 331.99,86.50 332.48,88.57 332.97,90.47 333.46,92.73 333.95,95.41 334.44,97.77 334.92,99.89 335.41,102.10 335.90,104.03 336.39,106.84 336.88,108.63 337.37,109.62 337.86,110.50 338.35,111.47 338.84,112.54 339.33,113.69 339.81,114.64 340.30,115.54 340.79,116.17 341.28,117.64 341.77,118.49" fill="none" stroke="#3aaedc" stroke-width="1.25" stroke-linejoin="round"/>
<polyline points="229.30,128.41 229.79,128.79 230.28,128.93 230.77,128.95 231.26,128.56 231.75,128.73 232.23,128.24 232.72,128.31 233.21,128.23 233.70,128.78 234.19,128.91 234.68,128.90 235.17,128.60 235.66,128.44 236.15,128.64 236.64,128.80 237.12,128.66 237.61,128.51 238.10,128.47 238.59,128.41 239.08,128.34 239.57,128.48 240.06,128.88 240.55,128.34 241.04,128.76 241.53,128.55 242.01,128.70 242.50,128.42 242.99,128.83 243.48,128.79 243.97,128.79 244.46,128.86 244.95,128.31 245.44,128.54 245.93,128.73 246.42,128.68 246.90,128.23 247.39,128.59 247.88,128.80 248.37,128.37 248.86,128.48 249.35,128.23 249.84,128.90 250.33,128.62 250.82,128.36 251.31,128.34 251.79,128.29 252.28,128.95 252.77,128.76 253.26,128.89 253.75,128.83 254.24,128.24 254.73,128.54 255.22,128.28 255.71,128.70 256.19,128.32 256.68,128.64 257.17,128.78 257.66,128.39 258.15,128.26 258.64,128.90 259.13,128.53 259.62,128.51 260.11,128.81 260.60,128.70 261.09,128.87 261.57,128.82 262.06,128.78 262.55,128.53 263.04,128.49 263.53,128.82 264.02,128.97 264.51,128.73 265.00,128.47 265.49,128.84 265.98,128.74 266.46,128.82 266.95,128.38 267.44,128.56 267.93,128.93 268.42,128.90 268.91,128.68 269.40,128.56 269.89,128.50 270.38,128.91 270.87,128.85 271.35,128.45 271.84,128.67 272.33,128.76 272.82,128.74 273.31,128.26 273.80,128.74 274.29,128.55 274.78,128.71 275.27,128.66 275.75,128.33 276.24,128.23 276.73,128.70 277.22,128.83 277.71,128.43 278.20,128.82 278.69,126.35 279.18,123.06 279.67,120.80 280.16,117.88 280.64,115.85 281.13,113.70 281.62,112.22 282.11,110.65 282.60,108.97 283.09,106.77 283.58,104.91 284.07,102.91 284.56,103.18 285.05,102.42 285.54,102.26 286.02,101.81 286.51,101.72 287.00,101.27 287.49,100.74 287.98,100.08 288.47,100.81 288.96,100.64 289.45,100.52 289.94,100.52 290.43,101.22 290.91,101.39 291.40,100.89 291.89,100.98 292.38,102.22 292.87,103.41 293.36,103.62 293.85,104.90 294.34,105.37 294.83,106.46 295.31,107.17 295.80,108.54 296.29,108.93 296.78,110.20 297.27,110.91 297.76,111.42 298.25,112.28 298.74,113.61 299.23,114.43 299.72,115.14 300.21,115.90 300.69,116.84 301.18,117.67 301.67,117.79 302.16,117.64 302.65,117.73 303.14,118.58 303.63,118.40 304.12,118.47 304.61,119.22 305.10,118.83 305.58,119.58 306.07,119.43 306.56,119.68 307.05,119.83 307.54,120.29 308.03,119.92 308.52,119.51 309.01,119.35 309.50,118.89 309.99,118.77 310.47,118.49 310.96,118.81 311.45,118.92 311.94,119.58 312.43,120.34 312.92,120.51 313.41,121.06 313.90,121.86 314.39,122.35 314.88,122.28 315.36,122.69 315.85,122.82 316.34,122.73 316.83,123.13 317.32,123.00 317.81,123.09 318.30,123.59 318.79,123.28 319.28,123.84 319.76,123.49 320.25,123.60 320.74,123.42 321.23,122.36 321.72,120.61 322.21,119.29 322.70,117.45 323.19,116.65 323.68,114.70 324.17,106.29 324.66,94.74 325.14,82.93 325.63,71.65 326.12,65.26 326.61,62.81 327.10,59.64 327.59,63.62 328.08,68.13 328.57,71.61 329.06,75.45 329.55,80.05 330.03,83.78 330.52,87.05 331.01,90.32 331.50,92.58 331.99,95.87 332.48,98.28 332.97,101.61 333.46,104.16 333.95,106.66 334.44,110.02 334.92,112.80 335.41,114.73 335.90,115.58 336.39,116.49 336.88,117.09 337.37,117.81 337.86,117.93 338.35,118.83 338.84,119.37 339.33,120.62 339.81,120.87 340.30,122.07 340.79,122.47 341.28,123.09 341.77,124.01" fill="none" stroke="#2f9fd0" stroke-width="1.25" stroke-linejoin="round"/>
<polyline points="229.30,129.26 229.79,129.50 230.28,129.48 230.77,129.25 231.26,129.84 231.75,129.17 232.23,129.44 232.72,129.62 233.21,129.32 233.70,129.72 234.19,129.17 234.68,129.48 235.17,129.65 235.66,129.34 236.15,129.58 236.64,129.78 237.12,129.36 237.61,129.88 238.10,129.30 238.59,129.73 239.08,129.44 239.57,129.18 240.06,129.48 240.55,129.42 241.04,129.68 241.53,129.91 242.01,129.89 242.50,129.80 242.99,129.45 243.48,129.59 243.97,129.53 244.46,129.24 244.95,129.82 245.44,129.75 245.93,129.42 246.42,129.90 246.90,129.91 247.39,129.65 247.88,129.84 248.37,129.65 248.86,129.75 249.35,129.48 249.84,129.47 250.33,129.76 250.82,129.45 251.31,129.56 251.79,129.81 252.28,129.21 252.77,129.73 253.26,129.80 253.75,129.84 254.24,129.44 254.73,129.26 255.22,129.33 255.71,129.61 256.19,129.72 256.68,129.91 257.17,129.43 257.66,129.49 258.15,129.65 258.64,129.43 259.13,129.58 259.62,129.21 260.11,129.36 260.60,129.73 261.09,129.24 261.57,129.88 262.06,129.52 262.55,129.61 263.04,129.74 263.53,129.87 264.02,129.33 264.51,129.91 265.00,129.50 265.49,129.21 265.98,129.81 266.46,129.77 266.95,129.46 267.44,129.53 267.93,129.43 268.42,129.30 268.91,129.78 269.40,129.68 269.89,129.69 270.38,129.88 270.87,129.25 271.35,129.33 271.84,129.38 272.33,129.91 272.82,129.28 273.31,129.36 273.80,129.57 274.29,129.36 274.78,129.58 275.27,129.75 275.75,129.84 276.24,129.74 276.73,129.89 277.22,129.66 277.71,129.35 278.20,129.39 278.69,127.17 279.18,125.15 279.67,123.37 280.16,121.04 280.64,119.01 281.13,116.95 281.62,115.50 282.11,114.05 282.60,112.12 283.09,110.23 283.58,109.15 284.07,107.01 284.56,106.01 285.05,105.09 285.54,104.83 286.02,104.16 286.51,103.73 287.00,103.60 287.49,103.63 287.98,102.93 288.47,103.07 288.96,102.85 289.45,102.07 289.94,102.40 290.43,102.68 290.91,103.02 291.40,103.11 291.89,103.82 292.38,103.87 292.87,104.30 293.36,104.51 293.85,105.15 294.34,106.11 294.83,107.40 295.31,108.77 295.80,110.02 296.29,110.88 296.78,112.47 297.27,113.02 297.76,114.77 298.25,115.35 298.74,115.78 299.23,115.66 299.72,116.59 300.21,117.24 300.69,117.82 301.18,118.30 301.67,118.30 302.16,118.84 302.65,119.29 303.14,119.75 303.63,120.75 304.12,120.85 304.61,121.28 305.10,121.08 305.58,121.22 306.07,121.30 306.56,122.06 307.05,121.60 307.54,121.71 308.03,121.83 308.52,122.60 309.01,122.66 309.50,122.88 309.99,123.08 310.47,122.60 310.96,122.77 311.45,123.05 311.94,123.04 312.43,123.33 312.92,123.73 313.41,124.01 313.90,124.16 314.39,123.74 314.88,124.22 315.36,124.19 315.85,124.16 316.34,124.52 316.83,124.40 317.32,124.44 317.81,124.17 318.30,124.49 318.79,124.58 319.28,124.15 319.76,124.56 320.25,124.35 320.74,124.58 321.23,125.08 321.72,124.85 322.21,124.89 322.70,118.39 323.19,112.47 323.68,105.95 324.17,99.83 324.66,93.25 325.14,84.77 325.63,77.36 326.12,68.83 326.61,64.53 327.10,66.26 327.59,67.72 328.08,68.91 328.57,70.36 329.06,74.64 329.55,78.79 330.03,83.30 330.52,87.58 331.01,92.55 331.50,96.83 331.99,101.45 332.48,102.78 332.97,104.90 333.46,106.08 333.95,108.27 334.44,110.01 334.92,111.34 335.41,113.19 335.90,115.17 336.39,116.47 336.88,118.58 337.37,118.51 337.86,119.05 338.35,119.45 338.84,120.04 339.33,120.72 339.81,121.15 340.30,121.63 340.79,121.73 341.28,122.80 341.77,122.67" fill="none" stroke="#3aaedc" stroke-width="1.25" stroke-linejoin="round"/>
<polyline points="229.30,129.33 229.79,129.20 230.28,129.15 230.77,128.67 231.26,128.98 231.75,129.07 232.23,128.69 232.72,129.18 233.21,129.01 233.70,128.95 234.19,128.78 234.68,128.79 235.17,128.87 235.66,129.09 236.15,129.11 236.64,129.24 237.12,128.72 237.61,128.85 238.10,128.79 238.59,129.22 239.08,129.02 239.57,128.77 240.06,128.92 240.55,129.26 241.04,129.00 241.53,128.69 242.01,129.17 242.50,129.21 242.99,129.13 243.48,128.82 243.97,128.72 244.46,129.24 244.95,129.23 245.44,129.17 245.93,129.11 246.42,128.96 246.90,129.23 247.39,129.11 247.88,129.21 248.37,128.62 248.86,128.80 249.35,129.28 249.84,128.63 250.33,129.28 250.82,129.06 251.31,128.61 251.79,128.75 252.28,128.80 252.77,129.02 253.26,129.20 253.75,128.87 254.24,129.27 254.73,129.20 255.22,129.06 255.71,129.33 256.19,129.05 256.68,128.76 257.17,128.83 257.66,128.98 258.15,128.88 258.64,129.00 259.13,129.25 259.62,128.90 260.11,129.05 260.60,128.79 261.09,128.67 261.57,129.03 262.06,128.92 262.55,128.79 263.04,129.04 263.53,129.18 264.02,128.81 264.51,128.69 265.00,128.77 265.49,128.83 265.98,128.71 266.46,128.84 266.95,128.87 267.44,129.01 267.93,129.12 268.42,128.88 268.91,129.28 269.40,129.04 269.89,128.76 270.38,128.82 270.87,128.88 271.35,129.16 271.84,129.03 272.33,129.01 272.82,128.88 273.31,129.04 273.80,128.84 274.29,128.65 274.78,129.21 275.27,128.86 275.75,128.77 276.24,129.06 276.73,128.98 277.22,128.62 277.71,129.32 278.20,128.94 278.69,125.61 279.18,121.53 279.67,117.79 280.16,114.49 280.64,112.26 281.13,109.37 281.62,106.86 282.11,104.18 282.60,101.80 283.09,99.17 283.58,97.44 284.07,97.98 284.56,98.38 285.05,98.29 285.54,99.16 286.02,99.11 286.51,99.57 287.00,99.39 287.49,99.96 287.98,99.41 288.47,99.98 288.96,100.29 289.45,100.23 289.94,100.22 290.43,100.61 290.91,100.40 291.40,100.71 291.89,101.26 292.38,102.28 292.87,103.11 293.36,103.90 293.85,104.27 294.34,104.88 294.83,105.95 295.31,106.94 295.80,107.46 296.29,108.82 296.78,110.02 297.27,111.14 297.76,111.71 298.25,112.74 298.74,113.93 299.23,115.11 299.72,115.58 300.21,116.12 300.69,115.84 301.18,116.58 301.67,116.65 302.16,116.80 302.65,117.08 303.14,117.63 303.63,118.04 304.12,118.13 304.61,118.73 305.10,118.48 305.58,119.12 306.07,119.01 306.56,119.66 307.05,119.79 307.54,120.09 308.03,120.17 308.52,120.56 309.01,120.91 309.50,120.58 309.99,121.13 310.47,121.37 310.96,121.53 311.45,121.61 311.94,121.86 312.43,121.92 312.92,122.02 313.41,122.37 313.90,122.06 314.39,122.24 314.88,122.96 315.36,122.50 315.85,122.56 316.34,122.77 316.83,123.38 317.32,122.98 317.81,123.25 318.30,123.84 318.79,123.96 319.28,123.37 319.76,123.72 320.25,124.14 320.74,124.37 321.23,124.46 321.72,123.04 322.21,118.33 322.70,114.36 323.19,110.20 323.68,105.34 324.17,101.12 324.66,90.78 325.14,79.43 325.63,68.83 326.12,57.89 326.61,59.10 327.10,60.06 327.59,61.27 328.08,64.80 328.57,70.08 329.06,74.50 329.55,79.41 330.03,84.05 330.52,89.07 331.01,93.53 331.50,95.54 331.99,97.52 332.48,99.31 332.97,101.14 333.46,102.64 333.95,104.73 334.44,106.18 334.92,108.19 335.41,109.69 335.90,111.45 336.39,112.81 336.88,113.23 337.37,114.54 337.86,114.58 338.35,115.52 338.84,116.11 339.33,116.70 339.81,117.23 340.30,118.24 340.79,118.87 341.28,119.13 341.77,120.46" fill="none" stroke="#2f9fd0" stroke-width="1.25" stroke-linejoin="round"/>
<polyline points="229.30,125.68 229.79,125.68 230.28,126.13 230.77,125.70 231.26,125.64 231.75,125.46 232.23,125.91 232.72,125.42 233.21,125.77 233.70,125.79 234.19,125.48 234.68,126.13 235.17,125.62 235.66,125.69 236.15,125.90 236.64,125.51 237.12,125.88 237.61,125.80 238.10,125.76 238.59,125.58 239.08,126.00 239.57,125.83 240.06,125.84 240.55,125.74 241.04,125.53 241.53,125.94 242.01,125.53 242.50,125.85 242.99,125.78 243.48,125.95 243.97,125.78 244.46,125.42 244.95,125.66 245.44,125.56 245.93,125.91 246.42,125.92 246.90,125.93 247.39,125.71 247.88,125.68 248.37,125.57 248.86,126.13 249.35,125.61 249.84,125.49 250.33,125.75 250.82,126.12 251.31,125.93 251.79,126.15 252.28,126.01 252.77,125.46 253.26,125.70 253.75,125.66 254.24,125.56 254.73,125.47 255.22,125.70 255.71,125.69 256.19,125.68 256.68,125.63 257.17,125.71 257.66,125.64 258.15,126.00 258.64,125.65 259.13,125.81 259.62,125.58 260.11,126.08 260.60,126.02 261.09,126.13 261.57,125.57 262.06,125.47 262.55,125.66 263.04,125.88 263.53,125.54 264.02,125.56 264.51,125.73 265.00,125.96 265.49,125.93 265.98,125.84 266.46,125.92 266.95,125.83 267.44,125.67 267.93,125.45 268.42,126.11 268.91,125.73 269.40,126.13 269.89,126.07 270.38,125.55 270.87,125.72 271.35,125.47 271.84,125.82 272.33,126.15 272.82,125.86 273.31,125.71 273.80,125.45 274.29,125.42 274.78,125.80 275.27,125.85 275.75,126.08 276.24,125.67 276.73,126.00 277.22,126.04 277.71,126.14 278.20,126.15 278.69,96.03 279.18,80.63 279.67,71.07 280.16,68.62 280.64,67.83 281.13,68.18 281.62,68.06 282.11,67.34 282.60,67.52 283.09,66.97 283.58,67.21 284.07,67.13 284.56,66.41 285.05,66.71 285.54,67.08 286.02,67.64 286.51,68.60 287.00,67.99 287.49,67.39 287.98,67.05 288.47,66.16 288.96,66.14 289.45,65.07 289.94,65.12 290.43,65.71 290.91,65.76 291.40,65.34 291.89,65.27 292.38,65.88 292.87,65.76 293.36,67.91 293.85,70.81 294.34,72.75 294.83,75.50 295.31,78.29 295.80,81.18 296.29,84.47 296.78,88.02 297.27,91.28 297.76,95.13 298.25,98.09 298.74,100.50 299.23,101.70 299.72,103.12 300.21,104.69 300.69,106.13 301.18,107.23 301.67,108.53 302.16,110.06 302.65,111.63 303.14,113.25 303.63,114.83 304.12,114.59 304.61,115.24 305.10,115.60 305.58,116.42 306.07,116.66 306.56,116.83 307.05,117.39 307.54,118.01 308.03,118.68 308.52,119.04 309.01,119.14 309.50,119.98 309.99,120.19 310.47,120.70 310.96,120.83 311.45,121.04 311.94,121.57 312.43,121.92 312.92,121.87 313.41,121.89 313.90,121.91 314.39,121.88 314.88,121.96 315.36,122.74 315.85,122.29 316.34,122.44 316.83,122.54 317.32,122.91 317.81,121.72 318.30,119.88 318.79,93.12 319.28,66.42 319.76,46.98 320.25,43.18 320.74,39.14 321.23,38.63 321.72,40.33 322.21,42.66 322.70,44.13 323.19,48.11 323.68,53.87 324.17,58.83 324.66,64.01 325.14,69.41 325.63,73.45 326.12,77.26 326.61,80.73 327.10,84.54 327.59,88.64 328.08,92.76 328.57,96.07 329.06,98.19 329.55,99.82 330.03,100.78 330.52,101.76 331.01,102.99 331.50,104.49 331.99,105.74 332.48,106.88 332.97,108.40 333.46,109.62 333.95,110.19 334.44,110.02 334.92,110.50 335.41,110.58 335.90,110.93 336.39,111.07 336.88,111.57 337.37,111.87 337.86,111.38 338.35,112.08 338.84,112.50 339.33,112.33 339.81,112.44 340.30,113.14 340.79,113.04 341.28,113.45 341.77,113.55" fill="none" stroke="#c81e3c" stroke-width="1.25" stroke-linejoin="round"/>
<polyline points="229.30,126.89 229.79,126.88 230.28,126.16 230.77,126.26 231.26,126.54 231.75,126.48 232.23,126.71 232.72,126.32 233.21,126.59 233.70,126.20 234.19,126.33 234.68,126.29 235.17,126.18 235.66,126.72 236.15,126.88 236.64,126.76 237.12,126.77 237.61,126.85 238.10,126.87 238.59,126.49 239.08,126.25 239.57,126.56 240.06,126.20 240.55,126.22 241.04,126.86 241.53,126.46 242.01,126.61 242.50,126.82 242.99,126.19 243.48,126.71 243.97,126.48 244.46,126.43 244.95,126.19 245.44,126.40 245.93,126.61 246.42,126.57 246.90,126.79 247.39,126.18 247.88,126.16 248.37,126.74 248.86,126.88 249.35,126.72 249.84,126.64 250.33,126.23 250.82,126.23 251.31,126.28 251.79,126.87 252.28,126.32 252.77,126.37 253.26,126.42 253.75,126.17 254.24,126.87 254.73,126.80 255.22,126.34 255.71,126.20 256.19,126.40 256.68,126.68 257.17,126.46 257.66,126.34 258.15,126.83 258.64,126.66 259.13,126.71 259.62,126.81 260.11,126.55 260.60,126.78 261.09,126.73 261.57,126.80 262.06,126.40 262.55,126.90 263.04,126.37 263.53,126.76 264.02,126.88 264.51,126.21 265.00,126.74 265.49,126.21 265.98,126.26 266.46,126.24 266.95,126.80 267.44,126.57 267.93,126.84 268.42,126.21 268.91,126.27 269.40,126.44 269.89,126.57 270.38,126.65 270.87,126.29 271.35,126.55 271.84,126.44 272.33,126.80 272.82,126.74 273.31,126.87 273.80,126.37 274.29,126.49 274.78,126.80 275.27,126.25 275.75,126.71 276.24,126.60 276.73,126.79 277.22,126.70 277.71,126.28 278.20,126.66 278.69,117.33 279.18,107.64 279.67,100.77 280.16,98.22 280.64,96.70 281.13,93.93 281.62,92.51 282.11,89.76 282.60,89.28 283.09,88.98 283.58,88.12 284.07,87.62 284.56,86.99 285.05,86.38 285.54,85.61 286.02,84.48 286.51,83.92 287.00,83.60 287.49,83.85 287.98,83.33 288.47,82.49 288.96,82.75 289.45,81.87 289.94,81.82 290.43,80.93 290.91,81.27 291.40,80.71 291.89,81.91 292.38,82.90 292.87,83.85 293.36,84.08 293.85,85.15 294.34,86.25 294.83,87.85 295.31,89.75 295.80,92.53 296.29,94.52 296.78,97.10 297.27,99.32 297.76,101.14 298.25,102.50 298.74,104.20 299.23,105.60 299.72,106.91 300.21,107.84 300.69,109.24 301.18,110.72 301.67,112.09 302.16,113.10 302.65,114.34 303.14,114.69 303.63,115.28 304.12,115.99 304.61,116.52 305.10,116.44 305.58,117.11 306.07,117.29 306.56,118.22 307.05,118.07 307.54,118.85 308.03,118.90 308.52,119.30 309.01,120.00 309.50,120.62 309.99,120.11 310.47,120.61 310.96,120.48 311.45,121.11 311.94,121.33 312.43,121.02 312.92,121.54 313.41,121.86 313.90,121.87 314.39,121.87 314.88,122.49 315.36,122.27 315.85,122.49 316.34,122.61 316.83,123.08 317.32,122.80 317.81,122.25 318.30,121.75 318.79,121.68 319.28,120.92 319.76,120.70 320.25,119.95 320.74,120.00 321.23,118.92 321.72,118.39 322.21,118.26 322.70,111.48 323.19,104.70 323.68,97.93 324.17,93.37 324.66,88.63 325.14,85.16 325.63,81.17 326.12,77.20 326.61,78.03 327.10,78.54 327.59,80.07 328.08,80.96 328.57,83.05 329.06,85.97 329.55,88.64 330.03,90.74 330.52,93.29 331.01,95.87 331.50,97.87 331.99,99.65 332.48,100.40 332.97,101.84 333.46,103.67 333.95,104.94 334.44,105.99 334.92,107.31 335.41,108.80 335.90,110.25 336.39,111.36 336.88,112.89 337.37,113.30 337.86,113.85 338.35,115.14 338.84,115.57 339.33,116.19 339.81,117.38 340.30,117.64 340.79,118.31 341.28,119.47 341.77,120.20" fill="none" stroke="#a61e48" stroke-width="1.25" stroke-linejoin="round"/>
<polyline points="229.30,125.90 229.79,126.14 230.28,126.23 230.77,125.82 231.26,125.95 231.75,126.28 232.23,126.35 232.72,126.28 233.21,126.20 233.70,125.79 234.19,125.93 234.68,125.85 235.17,125.92 235.66,125.89 236.15,126.49 236.64,126.14 237.12,125.81 237.61,125.83 238.10,126.34 238.59,126.21 239.08,126.06 239.57,126.26 240.06,126.13 240.55,126.48 241.04,126.21 241.53,126.15 242.01,126.52 242.50,126.43 242.99,125.80 243.48,125.95 243.97,125.83 244.46,126.06 244.95,125.92 245.44,125.87 245.93,125.87 246.42,126.51 246.90,126.05 247.39,126.33 247.88,126.02 248.37,126.33 248.86,126.12 249.35,125.84 249.84,126.06 250.33,126.34 250.82,126.14 251.31,126.21 251.79,125.82 252.28,126.32 252.77,126.30 253.26,126.05 253.75,126.44 254.24,126.09 254.73,125.81 255.22,126.15 255.71,126.33 256.19,126.18 256.68,126.13 257.17,126.42 257.66,126.44 258.15,126.43 258.64,126.31 259.13,126.23 259.62,126.32 260.11,126.35 260.60,126.47 261.09,126.12 261.57,125.90 262.06,126.07 262.55,126.10 263.04,126.04 263.53,126.38 264.02,126.00 264.51,126.19 265.00,126.12 265.49,126.07 265.98,126.18 266.46,126.30 266.95,126.35 267.44,126.37 267.93,126.15 268.42,126.24 268.91,126.09 269.40,126.52 269.89,126.27 270.38,125.88 270.87,126.35 271.35,126.11 271.84,126.16 272.33,126.32 272.82,125.79 273.31,126.31 273.80,125.95 274.29,126.41 274.78,126.48 275.27,125.88 275.75,126.20 276.24,126.49 276.73,126.24 277.22,126.20 277.71,125.98 278.20,126.45 278.69,121.17 279.18,115.43 279.67,110.41 280.16,108.37 280.64,107.10 281.13,105.96 281.62,104.59 282.11,103.51 282.60,102.20 283.09,101.10 283.58,101.14 284.07,100.78 284.56,100.59 285.05,100.39 285.54,100.42 286.02,100.00 286.51,99.87 287.00,99.52 287.49,99.93 287.98,99.18 288.47,100.02 288.96,99.64 289.45,99.96 289.94,100.21 290.43,100.05 290.91,100.53 291.40,100.84 291.89,100.75 292.38,100.87 292.87,101.26 293.36,102.18 293.85,102.88 294.34,103.63 294.83,104.18 295.31,105.26 295.80,105.93 296.29,106.56 296.78,107.44 297.27,108.24 297.76,108.64 298.25,109.54 298.74,110.74 299.23,111.72 299.72,112.86 300.21,113.71 300.69,114.77 301.18,115.38 301.67,116.32 302.16,117.63 302.65,117.94 303.14,118.67 303.63,118.57 304.12,118.85 304.61,119.04 305.10,119.89 305.58,120.01 306.07,119.93 306.56,120.88 307.05,121.14 307.54,121.03 308.03,121.36 308.52,121.33 309.01,121.72 309.50,122.07 309.99,121.83 310.47,122.31 310.96,122.42 311.45,122.41 311.94,122.74 312.43,122.88 312.92,122.81 313.41,123.11 313.90,122.77 314.39,123.09 314.88,123.32 315.36,123.75 315.85,123.66 316.34,123.75 316.83,123.74 317.32,123.84 317.81,123.30 318.30,122.92 318.79,122.97 319.28,122.69 319.76,122.24 320.25,121.65 320.74,121.82 321.23,121.37 321.72,120.84 322.21,121.01 322.70,120.59 323.19,119.78 323.68,113.45 324.17,107.24 324.66,101.10 325.14,94.06 325.63,88.98 326.12,86.06 326.61,83.11 327.10,80.37 327.59,82.41 328.08,84.30 328.57,85.89 329.06,87.42 329.55,89.12 330.03,91.05 330.52,92.81 331.01,94.35 331.50,96.25 331.99,98.32 332.48,99.72 332.97,101.86 333.46,104.19 333.95,105.79 334.44,107.39 334.92,109.63 335.41,110.86 335.90,112.15 336.39,112.70 336.88,113.07 337.37,114.04 337.86,114.75 338.35,115.88 338.84,116.43 339.33,117.16 339.81,118.15 340.30,118.64 340.79,119.51 341.28,119.93 341.77,121.02" fill="none" stroke="#c81e3c" stroke-width="1.25" stroke-linejoin="round"/>
<line x1="229.50" y1="27.30" x2="229.50" y2="143.20" stroke="#231f20" stroke-width="1.05"/>
<line x1="226.50" y1="142.70" x2="229.50" y2="142.70" stroke="#231f20" stroke-width="1.05"/>
<text x="223.40" y="144.81" font-size="5.9" text-anchor="end" fill="#2a2a2a" stroke="#2a2a2a" stroke-width="0.12" textLength="3.28" lengthAdjust="spacingAndGlyphs">0</text>
<line x1="226.50" y1="105.10" x2="229.50" y2="105.10" stroke="#231f20" stroke-width="1.05"/>
<text x="223.40" y="107.21" font-size="5.9" text-anchor="end" fill="#2a2a2a" stroke="#2a2a2a" stroke-width="0.12" textLength="3.28" lengthAdjust="spacingAndGlyphs">2</text>
<line x1="226.50" y1="67.50" x2="229.50" y2="67.50" stroke="#231f20" stroke-width="1.05"/>
<text x="223.40" y="69.61" font-size="5.9" text-anchor="end" fill="#2a2a2a" stroke="#2a2a2a" stroke-width="0.12" textLength="3.28" lengthAdjust="spacingAndGlyphs">4</text>
<line x1="226.50" y1="29.90" x2="229.50" y2="29.90" stroke="#231f20" stroke-width="1.05"/>
<text x="223.40" y="32.01" font-size="5.9" text-anchor="end" fill="#2a2a2a" stroke="#2a2a2a" stroke-width="0.12" textLength="3.28" lengthAdjust="spacingAndGlyphs">6</text>
<line x1="229.30" y1="142.50" x2="342.60" y2="142.50" stroke="#231f20" stroke-width="1.05"/>
<line x1="229.30" y1="142.50" x2="229.30" y2="144.70" stroke="#231f20" stroke-width="1.05"/>
<text x="229.30" y="154.76" font-size="6.3" text-anchor="middle" fill="#2a2a2a" stroke="#2a2a2a" stroke-width="0.12" textLength="2.98" lengthAdjust="spacingAndGlyphs">0</text>
<line x1="261.90" y1="142.50" x2="261.90" y2="144.70" stroke="#231f20" stroke-width="1.05"/>
<text x="261.90" y="154.76" font-size="6.3" text-anchor="middle" fill="#2a2a2a" stroke="#2a2a2a" stroke-width="0.12" textLength="8.93" lengthAdjust="spacingAndGlyphs">100</text>
<line x1="294.50" y1="142.50" x2="294.50" y2="144.70" stroke="#231f20" stroke-width="1.05"/>
<text x="294.50" y="154.76" font-size="6.3" text-anchor="middle" fill="#2a2a2a" stroke="#2a2a2a" stroke-width="0.12" textLength="8.93" lengthAdjust="spacingAndGlyphs">200</text>
<line x1="327.10" y1="142.50" x2="327.10" y2="144.70" stroke="#231f20" stroke-width="1.05"/>
<text x="327.10" y="154.76" font-size="6.3" text-anchor="middle" fill="#2a2a2a" stroke="#2a2a2a" stroke-width="0.12" textLength="8.93" lengthAdjust="spacingAndGlyphs">300</text>
<text x="286.20" y="166.38" font-size="7.2" text-anchor="middle" fill="#2a2a2a" stroke="#2a2a2a" stroke-width="0.12" textLength="23.50" lengthAdjust="spacingAndGlyphs">Time [s]</text>
<text x="215.18" y="84.50" font-size="7.2" text-anchor="middle" fill="#2a2a2a" stroke="#2a2a2a" stroke-width="0.12" transform="rotate(-90 215.18 84.50)" textLength="72.00" lengthAdjust="spacingAndGlyphs">Fura-2 [340nm/380nm]</text>
<line x1="233.60" y1="35.90" x2="242.50" y2="35.90" stroke="#3aaedc" stroke-width="1.2"/>
<text x="245.60" y="38.12" font-size="6.2" text-anchor="start" fill="#2a2a2a" stroke="#2a2a2a" stroke-width="0.12" textLength="23.50" lengthAdjust="spacingAndGlyphs">HC iSNs</text>
<line x1="233.60" y1="46.00" x2="242.50" y2="46.00" stroke="#c81e3c" stroke-width="1.2"/>
<text x="245.60" y="48.22" font-size="6.2" text-anchor="start" fill="#2a2a2a" stroke="#2a2a2a" stroke-width="0.12" textLength="27.00" lengthAdjust="spacingAndGlyphs">SCD iSNs</text>
<text x="275.80" y="59.19" font-size="6.4" text-anchor="middle" fill="#2a2a2a" stroke="#2a2a2a" stroke-width="0.12" textLength="30.00" lengthAdjust="spacingAndGlyphs">Glutamate</text>
<line x1="275.80" y1="61.30" x2="275.80" y2="68.00" stroke="#231f20" stroke-width="0.9"/>
<path d="M273.60,67.50 L278.00,67.50 L275.80,71.50 Z" fill="#231f20" stroke="none" stroke-width="1"/>
<text x="317.50" y="32.99" font-size="6.4" text-anchor="middle" fill="#2a2a2a" stroke="#2a2a2a" stroke-width="0.12" textLength="7.50" lengthAdjust="spacingAndGlyphs">K+</text>
<line x1="317.60" y1="34.50" x2="317.60" y2="41.50" stroke="#231f20" stroke-width="0.9"/>
<path d="M315.40,41.00 L319.80,41.00 L317.60,45.00 Z" fill="#231f20" stroke="none" stroke-width="1"/>
<polyline points="380.00,125.35 380.48,125.55 380.97,125.53 381.45,125.12 381.94,125.56 382.42,125.57 382.91,125.52 383.39,125.28 383.88,125.07 384.36,125.22 384.85,125.09 385.33,125.59 385.81,125.63 386.30,125.11 386.78,125.41 387.27,125.15 387.75,125.39 388.24,125.52 388.72,125.45 389.21,125.57 389.69,125.02 390.17,125.24 390.66,125.40 391.14,125.33 391.63,125.37 392.11,125.60 392.60,125.03 393.08,125.24 393.57,124.98 394.05,125.34 394.54,125.21 395.02,125.46 395.50,125.60 395.99,125.00 396.47,125.05 396.96,125.42 397.44,125.02 397.93,125.08 398.41,125.43 398.90,125.22 399.38,124.98 399.86,125.30 400.35,124.99 400.83,125.47 401.32,125.37 401.80,125.15 402.29,125.48 402.77,125.42 403.26,125.04 403.74,125.30 404.23,125.09 404.71,125.47 405.19,125.52 405.68,125.39 406.16,125.51 406.65,124.97 407.13,125.44 407.62,125.25 408.10,125.56 408.59,125.27 409.07,125.37 409.55,125.36 410.04,125.59 410.52,125.55 411.01,125.07 411.49,125.40 411.98,125.47 412.46,125.50 412.95,125.44 413.43,125.47 413.92,125.61 414.40,125.18 414.88,125.40 415.37,125.53 415.85,125.15 416.34,125.57 416.82,125.45 417.31,125.07 417.79,125.55 418.28,125.33 418.76,125.06 419.24,125.09 419.73,125.53 420.21,125.39 420.70,125.14 421.18,125.38 421.67,124.98 422.15,125.49 422.64,124.99 423.12,125.29 423.61,125.48 424.09,125.33 424.57,125.55 425.06,120.95 425.54,117.06 426.03,118.89 426.51,121.38 427.00,121.74 427.48,122.03 427.97,122.00 428.45,122.48 428.93,122.25 429.42,122.97 429.90,122.92 430.39,123.11 430.87,123.51 431.36,123.38 431.84,123.79 432.33,123.62 432.81,123.70 433.30,123.89 433.78,123.85 434.26,124.07 434.75,124.02 435.23,123.58 435.72,123.96 436.20,123.74 436.69,124.13 437.17,123.84 437.66,123.99 438.14,123.91 438.62,124.07 439.11,124.24 439.59,124.09 440.08,124.16 440.56,124.25 441.05,123.86 441.53,124.17 442.02,124.11 442.50,123.78 442.99,123.89 443.47,123.83 443.95,123.86 444.44,124.37 444.92,124.29 445.41,124.47 445.89,124.05 446.38,124.07 446.86,124.30 447.35,124.27 447.83,124.12 448.31,124.11 448.80,124.43 449.28,124.04 449.77,124.39 450.25,124.22 450.74,124.54 451.22,124.60 451.71,124.08 452.19,124.21 452.68,124.24 453.16,124.72 453.64,124.73 454.13,124.67 454.61,124.66 455.10,124.60 455.58,124.56 456.07,124.81 456.55,124.64 457.04,124.44 457.52,124.76 458.00,124.33 458.49,124.53 458.97,124.45 459.46,124.78 459.94,124.67 460.43,124.51 460.91,124.76 461.40,125.01 461.88,124.46 462.37,124.52 462.85,124.86 463.33,125.05 463.82,124.51 464.30,124.69 464.79,125.09 465.27,124.97 465.76,125.08 466.24,124.63 466.73,124.13 467.21,120.93 467.69,118.31 468.18,116.04 468.66,106.55 469.15,97.67 469.63,88.35 470.12,79.22 470.60,77.55 471.09,75.63 471.57,73.01 472.06,73.82 472.54,75.17 473.02,77.04 473.51,78.71 473.99,80.35 474.48,82.19 474.96,84.01 475.45,85.99 475.93,87.25 476.42,89.14 476.90,90.78 477.38,91.41 477.87,92.86 478.35,93.34 478.84,94.73 479.32,95.19 479.81,96.03 480.29,97.31 480.78,98.02 481.26,98.64 481.75,99.78 482.23,100.18 482.71,100.72 483.20,101.19 483.68,101.33 484.17,101.63 484.65,102.12 485.14,102.38 485.62,102.84 486.11,102.79 486.59,103.16 487.07,103.03 487.56,102.60 488.04,101.99 488.53,101.61 489.01,100.85 489.50,100.82 489.98,100.43 490.47,99.61" fill="none" stroke="#3aaedc" stroke-width="1.25" stroke-linejoin="round"/>
<polyline points="380.00,125.08 380.48,124.80 380.97,124.95 381.45,124.63 381.94,124.81 382.42,124.66 382.91,125.07 383.39,124.73 383.88,124.77 384.36,124.87 384.85,124.66 385.33,124.61 385.81,125.10 386.30,124.98 386.78,124.94 387.27,125.04 387.75,125.14 388.24,124.99 388.72,125.05 389.21,124.70 389.69,124.88 390.17,125.10 390.66,124.96 391.14,124.86 391.63,124.93 392.11,125.07 392.60,125.13 393.08,125.17 393.57,124.50 394.05,124.67 394.54,125.12 395.02,124.69 395.50,124.51 395.99,124.80 396.47,125.11 396.96,124.85 397.44,124.88 397.93,125.05 398.41,124.81 398.90,125.17 399.38,124.55 399.86,124.74 400.35,124.75 400.83,124.54 401.32,124.74 401.80,125.01 402.29,125.01 402.77,125.09 403.26,125.16 403.74,124.65 404.23,124.61 404.71,124.98 405.19,125.05 405.68,124.75 406.16,124.60 406.65,124.55 407.13,125.07 407.62,124.65 408.10,124.62 408.59,124.67 409.07,124.96 409.55,125.05 410.04,124.62 410.52,124.96 411.01,124.93 411.49,124.81 411.98,124.93 412.46,124.61 412.95,125.02 413.43,125.15 413.92,124.79 414.40,124.75 414.88,124.62 415.37,124.70 415.85,124.56 416.34,124.54 416.82,124.84 417.31,124.84 417.79,125.07 418.28,124.98 418.76,124.78 419.24,125.13 419.73,124.71 420.21,125.07 420.70,124.88 421.18,124.52 421.67,125.12 422.15,125.15 422.64,124.88 423.12,125.05 423.61,124.69 424.09,125.18 424.57,124.61 425.06,124.60 425.54,123.13 426.03,121.11 426.51,120.48 427.00,120.28 427.48,120.44 427.97,120.55 428.45,120.66 428.93,120.65 429.42,120.55 429.90,120.50 430.39,120.50 430.87,121.06 431.36,121.02 431.84,120.97 432.33,120.95 432.81,121.15 433.30,121.31 433.78,121.44 434.26,121.33 434.75,121.29 435.23,121.00 435.72,121.09 436.20,121.18 436.69,121.16 437.17,121.22 437.66,121.51 438.14,121.43 438.62,122.00 439.11,121.63 439.59,121.73 440.08,122.00 440.56,121.87 441.05,121.66 441.53,122.04 442.02,121.98 442.50,122.27 442.99,122.30 443.47,121.98 443.95,122.62 444.44,122.56 444.92,122.28 445.41,122.50 445.89,122.80 446.38,122.46 446.86,122.71 447.35,122.62 447.83,122.79 448.31,122.77 448.80,122.80 449.28,122.97 449.77,123.21 450.25,123.22 450.74,122.79 451.22,123.08 451.71,123.43 452.19,122.98 452.68,123.45 453.16,123.61 453.64,123.37 454.13,123.61 454.61,123.50 455.10,123.51 455.58,123.79 456.07,123.61 456.55,123.98 457.04,123.76 457.52,123.76 458.00,124.16 458.49,123.99 458.97,124.28 459.46,124.08 459.94,123.85 460.43,124.12 460.91,124.06 461.40,124.08 461.88,124.58 462.37,124.03 462.85,124.27 463.33,124.75 463.82,124.31 464.30,124.66 464.79,124.86 465.27,124.38 465.76,124.71 466.24,124.62 466.73,123.76 467.21,119.36 467.69,115.87 468.18,111.78 468.66,106.39 469.15,98.69 469.63,90.35 470.12,82.66 470.60,77.08 471.09,76.12 471.57,75.63 472.06,74.64 472.54,80.27 473.02,85.54 473.51,91.20 473.99,95.33 474.48,99.19 474.96,103.50 475.45,106.94 475.93,111.04 476.42,113.59 476.90,114.50 477.38,115.25 477.87,116.58 478.35,117.27 478.84,117.87 479.32,118.58 479.81,119.58 480.29,120.65 480.78,120.38 481.26,120.84 481.75,120.65 482.23,120.59 482.71,121.17 483.20,120.73 483.68,121.01 484.17,121.41 484.65,121.57 485.14,121.50 485.62,121.34 486.11,121.61 486.59,122.03 487.07,122.20 487.56,122.23 488.04,121.86 488.53,122.38 489.01,122.23 489.50,122.51 489.98,122.34 490.47,122.65" fill="none" stroke="#2f9fd0" stroke-width="1.25" stroke-linejoin="round"/>
<polyline points="380.00,125.99 380.48,125.49 380.97,125.72 381.45,125.62 381.94,125.54 382.42,125.44 382.91,126.08 383.39,125.86 383.88,125.99 384.36,125.75 384.85,125.49 385.33,125.54 385.81,126.06 386.30,125.96 386.78,125.53 387.27,125.63 387.75,125.82 388.24,125.76 388.72,125.98 389.21,125.51 389.69,125.82 390.17,125.49 390.66,125.67 391.14,126.04 391.63,125.86 392.11,125.94 392.60,125.48 393.08,125.69 393.57,126.06 394.05,125.97 394.54,125.84 395.02,125.77 395.50,125.70 395.99,125.82 396.47,125.85 396.96,126.08 397.44,125.69 397.93,125.86 398.41,126.07 398.90,125.78 399.38,125.42 399.86,126.06 400.35,125.99 400.83,125.63 401.32,125.90 401.80,125.90 402.29,125.75 402.77,125.91 403.26,125.70 403.74,125.73 404.23,125.44 404.71,125.41 405.19,126.07 405.68,125.71 406.16,125.56 406.65,125.49 407.13,125.56 407.62,125.66 408.10,125.66 408.59,125.84 409.07,125.90 409.55,125.55 410.04,125.49 410.52,125.45 411.01,125.62 411.49,125.88 411.98,125.57 412.46,125.58 412.95,125.74 413.43,125.66 413.92,125.85 414.40,125.71 414.88,125.81 415.37,126.05 415.85,125.86 416.34,125.87 416.82,125.42 417.31,125.76 417.79,125.84 418.28,125.92 418.76,125.93 419.24,125.85 419.73,126.00 420.21,126.08 420.70,125.50 421.18,125.78 421.67,125.79 422.15,125.70 422.64,125.88 423.12,125.97 423.61,126.04 424.09,125.88 424.57,125.88 425.06,125.59 425.54,124.92 426.03,123.46 426.51,122.68 427.00,122.32 427.48,122.58 427.97,122.95 428.45,122.92 428.93,122.68 429.42,122.44 429.90,122.90 430.39,122.65 430.87,122.92 431.36,122.65 431.84,123.23 432.33,122.98 432.81,122.73 433.30,123.18 433.78,123.23 434.26,123.42 434.75,123.36 435.23,123.32 435.72,123.06 436.20,123.42 436.69,123.33 437.17,123.50 437.66,123.26 438.14,123.11 438.62,123.29 439.11,123.63 439.59,123.30 440.08,123.18 440.56,123.46 441.05,123.85 441.53,123.38 442.02,123.37 442.50,123.77 442.99,123.94 443.47,123.94 443.95,123.73 444.44,123.53 444.92,123.73 445.41,123.57 445.89,124.08 446.38,124.04 446.86,123.78 447.35,123.89 447.83,124.08 448.31,123.93 448.80,124.20 449.28,124.42 449.77,124.21 450.25,124.49 450.74,124.13 451.22,124.36 451.71,124.29 452.19,124.25 452.68,124.51 453.16,124.41 453.64,124.75 454.13,124.16 454.61,124.44 455.10,124.18 455.58,124.85 456.07,124.50 456.55,124.46 457.04,124.76 457.52,124.96 458.00,124.95 458.49,124.99 458.97,124.60 459.46,125.09 459.94,124.63 460.43,124.93 460.91,124.88 461.40,124.88 461.88,124.94 462.37,124.90 462.85,124.97 463.33,125.19 463.82,124.94 464.30,125.31 464.79,125.03 465.27,125.03 465.76,125.05 466.24,125.40 466.73,123.45 467.21,118.35 467.69,113.75 468.18,108.91 468.66,103.78 469.15,97.30 469.63,91.04 470.12,84.31 470.60,77.19 471.09,74.57 471.57,74.15 472.06,74.09 472.54,74.13 473.02,76.72 473.51,78.45 473.99,80.98 474.48,83.10 474.96,85.11 475.45,86.93 475.93,87.76 476.42,88.86 476.90,90.25 477.38,90.87 477.87,92.39 478.35,93.68 478.84,94.79 479.32,95.55 479.81,96.56 480.29,97.98 480.78,98.53 481.26,98.47 481.75,99.29 482.23,99.24 482.71,100.02 483.20,100.38 483.68,101.04 484.17,101.18 484.65,101.86 485.14,102.33 485.62,102.13 486.11,102.87 486.59,102.65 487.07,103.30 487.56,103.11 488.04,103.48 488.53,103.36 489.01,104.11 489.50,103.97 489.98,104.27 490.47,104.12" fill="none" stroke="#3aaedc" stroke-width="1.25" stroke-linejoin="round"/>
<polyline points="380.00,122.27 380.48,122.48 380.97,122.76 381.45,122.74 381.94,122.73 382.42,122.62 382.91,122.75 383.39,122.77 383.88,122.39 384.36,122.47 384.85,122.71 385.33,122.23 385.81,122.76 386.30,122.52 386.78,122.80 387.27,122.32 387.75,122.32 388.24,122.73 388.72,122.40 389.21,122.35 389.69,122.72 390.17,122.68 390.66,122.58 391.14,122.30 391.63,122.80 392.11,122.45 392.60,122.50 393.08,122.60 393.57,122.52 394.05,122.31 394.54,122.77 395.02,122.31 395.50,122.67 395.99,122.38 396.47,122.32 396.96,122.79 397.44,122.32 397.93,122.23 398.41,122.71 398.90,122.89 399.38,122.83 399.86,122.25 400.35,122.90 400.83,122.29 401.32,122.81 401.80,122.41 402.29,122.84 402.77,122.80 403.26,122.45 403.74,122.85 404.23,122.68 404.71,122.28 405.19,122.42 405.68,122.31 406.16,122.24 406.65,122.89 407.13,122.75 407.62,122.37 408.10,122.44 408.59,122.88 409.07,122.57 409.55,122.75 410.04,122.62 410.52,122.84 411.01,122.90 411.49,122.24 411.98,122.69 412.46,122.31 412.95,122.83 413.43,122.58 413.92,122.82 414.40,122.62 414.88,122.79 415.37,122.44 415.85,122.81 416.34,122.41 416.82,122.57 417.31,122.83 417.79,122.67 418.28,122.57 418.76,122.28 419.24,122.67 419.73,122.76 420.21,122.25 420.70,122.31 421.18,122.41 421.67,122.72 422.15,122.79 422.64,122.73 423.12,122.86 423.61,122.88 424.09,122.56 424.57,122.63 425.06,122.53 425.54,121.91 426.03,121.01 426.51,120.24 427.00,120.36 427.48,120.54 427.97,120.63 428.45,120.64 428.93,120.54 429.42,120.71 429.90,120.92 430.39,121.24 430.87,121.39 431.36,121.42 431.84,121.11 432.33,121.49 432.81,121.47 433.30,121.44 433.78,121.60 434.26,121.00 434.75,121.66 435.23,121.24 435.72,121.00 436.20,121.44 436.69,121.18 437.17,121.33 437.66,121.40 438.14,121.41 438.62,121.45 439.11,120.94 439.59,120.96 440.08,120.86 440.56,121.43 441.05,120.97 441.53,121.21 442.02,120.97 442.50,121.02 442.99,121.16 443.47,120.70 443.95,121.34 444.44,120.82 444.92,120.73 445.41,120.95 445.89,120.87 446.38,120.58 446.86,121.08 447.35,120.80 447.83,120.70 448.31,120.93 448.80,120.69 449.28,120.89 449.77,120.78 450.25,120.71 450.74,120.64 451.22,120.89 451.71,120.72 452.19,120.82 452.68,121.08 453.16,120.86 453.64,121.14 454.13,120.75 454.61,121.08 455.10,120.96 455.58,121.14 456.07,121.21 456.55,121.43 457.04,121.52 457.52,121.03 458.00,121.34 458.49,121.39 458.97,121.43 459.46,121.28 459.94,121.71 460.43,121.80 460.91,121.40 461.40,121.69 461.88,121.61 462.37,121.52 462.85,121.52 463.33,121.58 463.82,122.19 464.30,122.00 464.79,121.73 465.27,121.79 465.76,122.30 466.24,122.32 466.73,121.19 467.21,118.00 467.69,114.53 468.18,110.94 468.66,105.34 469.15,94.61 469.63,84.07 470.12,73.08 470.60,64.80 471.09,62.96 471.57,61.09 472.06,59.02 472.54,60.75 473.02,62.73 473.51,65.09 473.99,66.67 474.48,68.44 474.96,69.12 475.45,70.10 475.93,70.80 476.42,71.60 476.90,72.36 477.38,73.39 477.87,74.06 478.35,74.59 478.84,75.50 479.32,75.88 479.81,75.96 480.29,76.72 480.78,77.14 481.26,77.65 481.75,77.70 482.23,78.66 482.71,78.74 483.20,79.04 483.68,79.95 484.17,80.27 484.65,80.48 485.14,81.06 485.62,81.69 486.11,82.38 486.59,82.57 487.07,83.09 487.56,83.32 488.04,84.07 488.53,84.46 489.01,84.76 489.50,85.11 489.98,85.89 490.47,86.33" fill="none" stroke="#c81e3c" stroke-width="1.25" stroke-linejoin="round"/>
<polyline points="380.00,123.42 380.48,123.19 380.97,123.69 381.45,123.16 381.94,123.33 382.42,123.56 382.91,123.37 383.39,123.59 383.88,123.77 384.36,123.30 384.85,123.56 385.33,123.46 385.81,123.48 386.30,123.20 386.78,123.30 387.27,123.80 387.75,123.41 388.24,123.50 388.72,123.50 389.21,123.25 389.69,123.54 390.17,123.50 390.66,123.21 391.14,123.52 391.63,123.48 392.11,123.47 392.60,123.26 393.08,123.36 393.57,123.31 394.05,123.54 394.54,123.79 395.02,123.36 395.50,123.44 395.99,123.29 396.47,123.29 396.96,123.74 397.44,123.67 397.93,123.77 398.41,123.26 398.90,123.75 399.38,123.76 399.86,123.31 400.35,123.43 400.83,123.78 401.32,123.35 401.80,123.33 402.29,123.49 402.77,123.78 403.26,123.35 403.74,123.53 404.23,123.42 404.71,123.14 405.19,123.26 405.68,123.22 406.16,123.72 406.65,123.59 407.13,123.47 407.62,123.81 408.10,123.15 408.59,123.63 409.07,123.64 409.55,123.61 410.04,123.64 410.52,123.23 411.01,123.44 411.49,123.47 411.98,123.53 412.46,123.78 412.95,123.61 413.43,123.23 413.92,123.27 414.40,123.24 414.88,123.64 415.37,123.68 415.85,123.78 416.34,123.45 416.82,123.56 417.31,123.50 417.79,123.49 418.28,123.42 418.76,123.57 419.24,123.27 419.73,123.68 420.21,123.19 420.70,123.44 421.18,123.78 421.67,123.60 422.15,123.46 422.64,123.54 423.12,123.43 423.61,123.60 424.09,123.63 424.57,123.28 425.06,123.62 425.54,122.93 426.03,122.25 426.51,121.78 427.00,121.47 427.48,121.17 427.97,121.53 428.45,121.26 428.93,121.84 429.42,121.61 429.90,121.50 430.39,121.92 430.87,121.40 431.36,121.96 431.84,121.63 432.33,121.94 432.81,121.45 433.30,121.73 433.78,121.59 434.26,121.82 434.75,121.72 435.23,121.75 435.72,122.03 436.20,122.11 436.69,121.71 437.17,122.21 437.66,121.71 438.14,122.22 438.62,122.31 439.11,122.34 439.59,121.90 440.08,121.81 440.56,122.20 441.05,122.06 441.53,122.36 442.02,121.94 442.50,122.11 442.99,122.50 443.47,122.59 443.95,122.18 444.44,122.65 444.92,122.14 445.41,122.53 445.89,122.60 446.38,122.38 446.86,122.59 447.35,122.45 447.83,122.75 448.31,122.26 448.80,122.68 449.28,122.36 449.77,122.85 450.25,122.44 450.74,122.34 451.22,122.76 451.71,123.03 452.19,122.82 452.68,122.67 453.16,122.98 453.64,122.78 454.13,123.12 454.61,122.89 455.10,122.73 455.58,122.96 456.07,122.82 456.55,123.23 457.04,122.76 457.52,123.27 458.00,122.75 458.49,122.72 458.97,122.79 459.46,123.09 459.94,123.28 460.43,123.27 460.91,123.02 461.40,123.21 461.88,122.94 462.37,123.54 462.85,123.30 463.33,123.06 463.82,123.27 464.30,123.33 464.79,123.67 465.27,123.66 465.76,123.59 466.24,123.19 466.73,122.03 467.21,118.82 467.69,114.71 468.18,111.69 468.66,106.05 469.15,97.28 469.63,89.19 470.12,80.27 470.60,74.00 471.09,72.03 471.57,69.45 472.06,66.99 472.54,69.00 473.02,70.54 473.51,72.79 473.99,74.25 474.48,76.46 474.96,78.48 475.45,79.85 475.93,81.53 476.42,82.58 476.90,83.78 477.38,85.28 477.87,86.73 478.35,88.38 478.84,89.42 479.32,91.06 479.81,92.05 480.29,93.58 480.78,94.07 481.26,95.01 481.75,95.79 482.23,96.39 482.71,97.53 483.20,98.32 483.68,98.59 484.17,99.80 484.65,100.24 485.14,100.88 485.62,101.55 486.11,102.18 486.59,102.62 487.07,102.48 487.56,103.40 488.04,103.54 488.53,103.92 489.01,104.60 489.50,104.77 489.98,105.37 490.47,105.52" fill="none" stroke="#c81e3c" stroke-width="1.25" stroke-linejoin="round"/>
<polyline points="380.00,123.02 380.48,123.11 380.97,123.23 381.45,123.09 381.94,123.23 382.42,123.28 382.91,123.20 383.39,122.77 383.88,123.02 384.36,122.76 384.85,123.35 385.33,122.72 385.81,123.03 386.30,122.83 386.78,122.98 387.27,122.90 387.75,123.21 388.24,122.85 388.72,123.26 389.21,123.18 389.69,123.34 390.17,123.10 390.66,123.01 391.14,123.17 391.63,122.76 392.11,123.31 392.60,122.97 393.08,123.21 393.57,122.96 394.05,122.83 394.54,122.88 395.02,123.32 395.50,123.20 395.99,122.96 396.47,122.70 396.96,123.34 397.44,122.94 397.93,122.89 398.41,122.81 398.90,123.13 399.38,122.81 399.86,123.05 400.35,122.74 400.83,123.36 401.32,122.72 401.80,123.08 402.29,123.09 402.77,123.30 403.26,123.20 403.74,122.86 404.23,122.90 404.71,123.26 405.19,123.13 405.68,123.27 406.16,123.23 406.65,123.21 407.13,123.14 407.62,122.70 408.10,122.69 408.59,122.83 409.07,123.04 409.55,123.03 410.04,122.83 410.52,122.75 411.01,122.85 411.49,122.93 411.98,123.23 412.46,122.94 412.95,122.79 413.43,122.83 413.92,123.30 414.40,122.88 414.88,123.13 415.37,123.25 415.85,122.71 416.34,122.91 416.82,122.86 417.31,123.27 417.79,122.80 418.28,122.73 418.76,122.75 419.24,122.86 419.73,122.80 420.21,122.82 420.70,122.96 421.18,123.07 421.67,122.80 422.15,122.83 422.64,122.77 423.12,123.16 423.61,122.71 424.09,123.00 424.57,122.72 425.06,122.26 425.54,120.66 426.03,120.18 426.51,120.75 427.00,120.57 427.48,121.19 427.97,121.43 428.45,121.46 428.93,121.65 429.42,121.51 429.90,121.26 430.39,121.44 430.87,121.46 431.36,121.71 431.84,121.48 432.33,121.51 432.81,121.62 433.30,121.47 433.78,121.59 434.26,121.91 434.75,122.16 435.23,121.81 435.72,121.72 436.20,122.09 436.69,121.95 437.17,121.82 437.66,121.88 438.14,122.45 438.62,122.16 439.11,122.51 439.59,122.48 440.08,122.04 440.56,122.34 441.05,122.25 441.53,122.38 442.02,122.50 442.50,122.62 442.99,122.56 443.47,122.26 443.95,122.44 444.44,122.70 444.92,122.86 445.41,122.74 445.89,122.46 446.38,122.65 446.86,122.51 447.35,122.42 447.83,122.90 448.31,122.52 448.80,122.97 449.28,122.45 449.77,122.89 450.25,122.84 450.74,122.39 451.22,122.80 451.71,122.90 452.19,122.46 452.68,122.66 453.16,122.48 453.64,122.83 454.13,122.77 454.61,122.47 455.10,122.78 455.58,122.46 456.07,123.02 456.55,122.59 457.04,123.06 457.52,122.82 458.00,123.19 458.49,123.08 458.97,122.56 459.46,122.91 459.94,122.68 460.43,123.07 460.91,123.01 461.40,123.19 461.88,122.89 462.37,122.69 462.85,122.94 463.33,123.04 463.82,122.68 464.30,122.71 464.79,122.87 465.27,123.29 465.76,122.92 466.24,123.06 466.73,122.66 467.21,122.89 467.69,122.52 468.18,107.73 468.66,85.77 469.15,63.53 469.63,58.32 470.12,53.06 470.60,48.23 471.09,43.21 471.57,42.11 472.06,42.06 472.54,40.85 473.02,43.00 473.51,46.49 473.99,49.97 474.48,53.45 474.96,57.61 475.45,61.98 475.93,66.22 476.42,70.96 476.90,75.02 477.38,76.74 477.87,77.77 478.35,79.40 478.84,81.50 479.32,82.79 479.81,84.38 480.29,86.33 480.78,87.69 481.26,89.03 481.75,90.69 482.23,91.85 482.71,92.43 483.20,93.66 483.68,94.39 484.17,95.38 484.65,95.91 485.14,97.04 485.62,97.85 486.11,98.84 486.59,99.95 487.07,99.98 487.56,100.58 488.04,101.02 488.53,101.72 489.01,102.23 489.50,102.37 489.98,102.63 490.47,103.08" fill="none" stroke="#7d2a55" stroke-width="1.25" stroke-linejoin="round"/>
<line x1="380.50" y1="27.30" x2="380.50" y2="143.50" stroke="#231f20" stroke-width="1.05"/>
<line x1="377.50" y1="143.00" x2="380.50" y2="143.00" stroke="#231f20" stroke-width="1.05"/>
<text x="374.40" y="145.11" font-size="5.9" text-anchor="end" fill="#2a2a2a" stroke="#2a2a2a" stroke-width="0.12" textLength="3.28" lengthAdjust="spacingAndGlyphs">0</text>
<line x1="377.50" y1="120.30" x2="380.50" y2="120.30" stroke="#231f20" stroke-width="1.05"/>
<text x="374.40" y="122.41" font-size="5.9" text-anchor="end" fill="#2a2a2a" stroke="#2a2a2a" stroke-width="0.12" textLength="3.28" lengthAdjust="spacingAndGlyphs">1</text>
<line x1="377.50" y1="97.60" x2="380.50" y2="97.60" stroke="#231f20" stroke-width="1.05"/>
<text x="374.40" y="99.71" font-size="5.9" text-anchor="end" fill="#2a2a2a" stroke="#2a2a2a" stroke-width="0.12" textLength="3.28" lengthAdjust="spacingAndGlyphs">2</text>
<line x1="377.50" y1="74.90" x2="380.50" y2="74.90" stroke="#231f20" stroke-width="1.05"/>
<text x="374.40" y="77.01" font-size="5.9" text-anchor="end" fill="#2a2a2a" stroke="#2a2a2a" stroke-width="0.12" textLength="3.28" lengthAdjust="spacingAndGlyphs">3</text>
<line x1="377.50" y1="52.20" x2="380.50" y2="52.20" stroke="#231f20" stroke-width="1.05"/>
<text x="374.40" y="54.31" font-size="5.9" text-anchor="end" fill="#2a2a2a" stroke="#2a2a2a" stroke-width="0.12" textLength="3.28" lengthAdjust="spacingAndGlyphs">4</text>
<line x1="377.50" y1="29.50" x2="380.50" y2="29.50" stroke="#231f20" stroke-width="1.05"/>
<text x="374.40" y="31.61" font-size="5.9" text-anchor="end" fill="#2a2a2a" stroke="#2a2a2a" stroke-width="0.12" textLength="3.28" lengthAdjust="spacingAndGlyphs">5</text>
<line x1="380.00" y1="143.50" x2="493.80" y2="143.50" stroke="#231f20" stroke-width="1.05"/>
<line x1="380.00" y1="143.50" x2="380.00" y2="145.70" stroke="#231f20" stroke-width="1.05"/>
<text x="380.00" y="154.76" font-size="6.3" text-anchor="middle" fill="#2a2a2a" stroke="#2a2a2a" stroke-width="0.12" textLength="2.98" lengthAdjust="spacingAndGlyphs">0</text>
<line x1="412.30" y1="143.50" x2="412.30" y2="145.70" stroke="#231f20" stroke-width="1.05"/>
<text x="412.30" y="154.76" font-size="6.3" text-anchor="middle" fill="#2a2a2a" stroke="#2a2a2a" stroke-width="0.12" textLength="8.93" lengthAdjust="spacingAndGlyphs">100</text>
<line x1="444.60" y1="143.50" x2="444.60" y2="145.70" stroke="#231f20" stroke-width="1.05"/>
<text x="444.60" y="154.76" font-size="6.3" text-anchor="middle" fill="#2a2a2a" stroke="#2a2a2a" stroke-width="0.12" textLength="8.93" lengthAdjust="spacingAndGlyphs">200</text>
<line x1="476.90" y1="143.50" x2="476.90" y2="145.70" stroke="#231f20" stroke-width="1.05"/>
<text x="476.90" y="154.76" font-size="6.3" text-anchor="middle" fill="#2a2a2a" stroke="#2a2a2a" stroke-width="0.12" textLength="8.93" lengthAdjust="spacingAndGlyphs">300</text>
<text x="437.30" y="166.38" font-size="7.2" text-anchor="middle" fill="#2a2a2a" stroke="#2a2a2a" stroke-width="0.12" textLength="23.50" lengthAdjust="spacingAndGlyphs">Time [s]</text>
<text x="365.18" y="84.50" font-size="7.2" text-anchor="middle" fill="#2a2a2a" stroke="#2a2a2a" stroke-width="0.12" transform="rotate(-90 365.18 84.50)" textLength="72.00" lengthAdjust="spacingAndGlyphs">Fura-2 [340nm/380nm]</text>
<line x1="386.00" y1="35.90" x2="395.50" y2="35.90" stroke="#3aaedc" stroke-width="1.2"/>
<text x="398.30" y="38.12" font-size="6.2" text-anchor="start" fill="#2a2a2a" stroke="#2a2a2a" stroke-width="0.12" textLength="23.50" lengthAdjust="spacingAndGlyphs">HC iSNs</text>
<line x1="386.00" y1="46.00" x2="395.50" y2="46.00" stroke="#c81e3c" stroke-width="1.2"/>
<text x="398.30" y="48.22" font-size="6.2" text-anchor="start" fill="#2a2a2a" stroke="#2a2a2a" stroke-width="0.12" textLength="27.00" lengthAdjust="spacingAndGlyphs">SCD iSNs</text>
<text x="424.40" y="102.29" font-size="6.4" text-anchor="middle" fill="#2a2a2a" stroke="#2a2a2a" stroke-width="0.12" textLength="30.00" lengthAdjust="spacingAndGlyphs">ab-meATP</text>
<line x1="423.80" y1="103.60" x2="423.80" y2="110.30" stroke="#231f20" stroke-width="0.9"/>
<path d="M421.60,109.80 L426.00,109.80 L423.80,113.80 Z" fill="#231f20" stroke="none" stroke-width="1"/>
<text x="466.80" y="37.89" font-size="6.4" text-anchor="middle" fill="#2a2a2a" stroke="#2a2a2a" stroke-width="0.12" textLength="7.50" lengthAdjust="spacingAndGlyphs">K+</text>
<line x1="466.80" y1="39.00" x2="466.80" y2="45.70" stroke="#231f20" stroke-width="0.9"/>
<path d="M464.60,45.20 L469.00,45.20 L466.80,49.20 Z" fill="#231f20" stroke="none" stroke-width="1"/>
<rect x="55.60" y="344.08" width="13.30" height="3.42" fill="#1c4b8b"/>
<rect x="78.00" y="317.86" width="13.40" height="29.64" fill="#1c4b8b"/>
<rect x="115.00" y="342.37" width="13.30" height="5.13" fill="#e4157c"/>
<rect x="137.50" y="311.31" width="13.30" height="36.20" fill="#e4157c"/>
<rect x="174.50" y="274.43" width="13.50" height="73.07" fill="#136b4f"/>
<rect x="196.80" y="265.82" width="13.20" height="81.68" fill="#136b4f"/>
<line x1="47.50" y1="232.50" x2="47.50" y2="348.00" stroke="#231f20" stroke-width="1.05"/>
<line x1="45.10" y1="347.50" x2="47.50" y2="347.50" stroke="#231f20" stroke-width="1.05"/>
<text x="41.30" y="349.86" font-size="6.6" text-anchor="end" fill="#2a2a2a" stroke="#2a2a2a" stroke-width="0.12" textLength="3.49" lengthAdjust="spacingAndGlyphs">0</text>
<line x1="45.10" y1="319.00" x2="47.50" y2="319.00" stroke="#231f20" stroke-width="1.05"/>
<text x="41.30" y="321.36" font-size="6.6" text-anchor="end" fill="#2a2a2a" stroke="#2a2a2a" stroke-width="0.12" textLength="3.49" lengthAdjust="spacingAndGlyphs">5</text>
<line x1="45.10" y1="290.50" x2="47.50" y2="290.50" stroke="#231f20" stroke-width="1.05"/>
<text x="41.30" y="292.86" font-size="6.6" text-anchor="end" fill="#2a2a2a" stroke="#2a2a2a" stroke-width="0.12" textLength="6.97" lengthAdjust="spacingAndGlyphs">10</text>
<line x1="45.10" y1="262.00" x2="47.50" y2="262.00" stroke="#231f20" stroke-width="1.05"/>
<text x="41.30" y="264.36" font-size="6.6" text-anchor="end" fill="#2a2a2a" stroke="#2a2a2a" stroke-width="0.12" textLength="6.97" lengthAdjust="spacingAndGlyphs">15</text>
<line x1="45.10" y1="233.50" x2="47.50" y2="233.50" stroke="#231f20" stroke-width="1.05"/>
<text x="41.30" y="235.86" font-size="6.6" text-anchor="end" fill="#2a2a2a" stroke="#2a2a2a" stroke-width="0.12" textLength="6.97" lengthAdjust="spacingAndGlyphs">20</text>
<line x1="47.60" y1="347.50" x2="217.50" y2="347.50" stroke="#231f20" stroke-width="1.05"/>
<line x1="62.25" y1="347.50" x2="62.25" y2="349.70" stroke="#231f20" stroke-width="1.05"/>
<line x1="84.70" y1="347.50" x2="84.70" y2="349.70" stroke="#231f20" stroke-width="1.05"/>
<line x1="121.65" y1="347.50" x2="121.65" y2="349.70" stroke="#231f20" stroke-width="1.05"/>
<line x1="144.15" y1="347.50" x2="144.15" y2="349.70" stroke="#231f20" stroke-width="1.05"/>
<line x1="181.25" y1="347.50" x2="181.25" y2="349.70" stroke="#231f20" stroke-width="1.05"/>
<line x1="203.40" y1="347.50" x2="203.40" y2="349.70" stroke="#231f20" stroke-width="1.05"/>
<text x="64.45" y="358.70" font-size="6.3" text-anchor="end" fill="#2a2a2a" stroke="#2a2a2a" stroke-width="0.12" textLength="23.50" lengthAdjust="spacingAndGlyphs" transform="rotate(-45 64.45 358.70)">HC iSNs</text>
<text x="86.90" y="358.70" font-size="6.3" text-anchor="end" fill="#2a2a2a" stroke="#2a2a2a" stroke-width="0.12" textLength="27.50" lengthAdjust="spacingAndGlyphs" transform="rotate(-45 86.90 358.70)">SCD iSNs</text>
<text x="123.85" y="358.70" font-size="6.3" text-anchor="end" fill="#2a2a2a" stroke="#2a2a2a" stroke-width="0.12" textLength="23.50" lengthAdjust="spacingAndGlyphs" transform="rotate(-45 123.85 358.70)">HC iSNs</text>
<text x="146.35" y="358.70" font-size="6.3" text-anchor="end" fill="#2a2a2a" stroke="#2a2a2a" stroke-width="0.12" textLength="27.50" lengthAdjust="spacingAndGlyphs" transform="rotate(-45 146.35 358.70)">SCD iSNs</text>
<text x="183.45" y="358.70" font-size="6.3" text-anchor="end" fill="#2a2a2a" stroke="#2a2a2a" stroke-width="0.12" textLength="23.50" lengthAdjust="spacingAndGlyphs" transform="rotate(-45 183.45 358.70)">HC iSNs</text>
<text x="205.60" y="358.70" font-size="6.3" text-anchor="end" fill="#2a2a2a" stroke="#2a2a2a" stroke-width="0.12" textLength="27.50" lengthAdjust="spacingAndGlyphs" transform="rotate(-45 205.60 358.70)">SCD iSNs</text>
<text x="29.92" y="288.80" font-size="7.6" text-anchor="middle" fill="#2a2a2a" stroke="#2a2a2a" stroke-width="0.12" transform="rotate(-90 29.92 288.80)" textLength="88.00" lengthAdjust="spacingAndGlyphs">% Cells responding/total cells</text>
<text x="132.10" y="225.68" font-size="8.6" text-anchor="middle" fill="#231f20" textLength="75.90" lengthAdjust="spacingAndGlyphs">iSNs % Responding</text>
<rect x="54.80" y="235.15" width="9.20" height="4.70" fill="#1c4b8b"/>
<text x="67.00" y="239.65" font-size="6.0" text-anchor="start" fill="#2a2a2a" stroke="#2a2a2a" stroke-width="0.12" textLength="30.50" lengthAdjust="spacingAndGlyphs">0.1uM cap</text>
<rect x="54.80" y="244.65" width="9.20" height="4.70" fill="#e4157c"/>
<text x="67.00" y="249.15" font-size="6.0" text-anchor="start" fill="#2a2a2a" stroke="#2a2a2a" stroke-width="0.12" textLength="25.20" lengthAdjust="spacingAndGlyphs">1uM cap</text>
<rect x="54.80" y="254.35" width="9.20" height="4.70" fill="#136b4f"/>
<text x="67.00" y="258.85" font-size="6.0" text-anchor="start" fill="#2a2a2a" stroke="#2a2a2a" stroke-width="0.12" textLength="28.80" lengthAdjust="spacingAndGlyphs">10uM cap</text>
<line x1="62.50" y1="280.60" x2="84.50" y2="280.60" stroke="#444" stroke-width="1.0"/>
<text x="72.90" y="279.09" font-size="6.4" text-anchor="middle" fill="#2a2a2a" stroke="#2a2a2a" stroke-width="0.12">ns</text>
<line x1="121.30" y1="280.00" x2="143.80" y2="280.00" stroke="#444" stroke-width="1.0"/>
<text x="132.50" y="278.49" font-size="6.4" text-anchor="middle" fill="#2a2a2a" stroke="#2a2a2a" stroke-width="0.12">ns</text>
<line x1="181.30" y1="237.50" x2="203.00" y2="237.50" stroke="#444" stroke-width="1.0"/>
<text x="192.00" y="235.99" font-size="6.4" text-anchor="middle" fill="#2a2a2a" stroke="#2a2a2a" stroke-width="0.12">ns</text>
<text x="64.31" y="332.70" font-size="7.3" text-anchor="middle" fill="#2a2a2a" stroke="#2a2a2a" stroke-width="0.12" transform="rotate(-90 64.31 332.70)" textLength="16.20" lengthAdjust="spacingAndGlyphs">1/150</text>
<text x="86.41" y="308.50" font-size="7.3" text-anchor="middle" fill="#2a2a2a" stroke="#2a2a2a" stroke-width="0.12" transform="rotate(-90 86.41 308.50)" textLength="13.10" lengthAdjust="spacingAndGlyphs">2/38</text>
<text x="124.11" y="331.50" font-size="7.3" text-anchor="middle" fill="#2a2a2a" stroke="#2a2a2a" stroke-width="0.12" transform="rotate(-90 124.11 331.50)" textLength="15.00" lengthAdjust="spacingAndGlyphs">1/111</text>
<text x="146.11" y="302.00" font-size="7.3" text-anchor="middle" fill="#2a2a2a" stroke="#2a2a2a" stroke-width="0.12" transform="rotate(-90 146.11 302.00)" textLength="11.90" lengthAdjust="spacingAndGlyphs">2/31</text>
<text x="183.41" y="262.90" font-size="7.3" text-anchor="middle" fill="#2a2a2a" stroke="#2a2a2a" stroke-width="0.12" transform="rotate(-90 183.41 262.90)" textLength="15.60" lengthAdjust="spacingAndGlyphs">10/77</text>
<text x="205.51" y="255.70" font-size="7.3" text-anchor="middle" fill="#2a2a2a" stroke="#2a2a2a" stroke-width="0.12" transform="rotate(-90 205.51 255.70)" textLength="12.50" lengthAdjust="spacingAndGlyphs">8/55</text>
<polyline points="268.00,332.91 272.00,331.58 276.00,331.01 281.00,331.58 286.00,331.01 291.00,330.06 296.00,331.96 300.00,331.01 305.40,325.29 310.00,329.10 315.00,331.01 320.00,329.10 325.00,330.06 330.00,327.20 335.00,328.15 339.00,326.25 343.80,322.05 348.00,326.25 352.00,325.29 357.00,322.44 362.00,321.48 367.00,322.44 372.00,322.82 378.00,323.96 383.00,323.39 388.00,324.34 392.00,325.86 396.00,323.96 400.00,326.63 404.00,327.77 408.00,325.29 412.00,328.15 416.00,327.20 420.00,328.53 425.00,323.39 429.00,327.20 433.00,325.29 437.00,328.53" fill="none" stroke="#d6358a" stroke-width="0.95" stroke-linejoin="round"/>
<polyline points="268.00,334.25 272.00,332.91 276.00,331.96 281.00,331.39 286.00,331.96 291.00,331.96 296.00,332.34 300.00,331.96 305.00,331.58 310.00,332.34 315.00,333.48 320.00,332.91 325.00,332.34 330.00,331.01 335.00,330.06 340.00,330.44 345.00,329.10 350.00,326.25 354.50,324.34 359.60,253.85 364.50,323.39 369.00,328.15 373.00,325.29 377.00,323.39 381.00,324.72 385.00,328.15 388.00,320.53 392.00,325.86 396.00,328.53 400.00,326.25 404.00,322.82 408.00,326.25 412.00,329.67 416.00,331.01 420.00,328.15 424.00,325.29 428.00,322.82 432.00,325.86 437.00,329.10" fill="none" stroke="#7b2f6e" stroke-width="0.95" stroke-linejoin="round"/>
<polyline points="268.00,332.34 272.00,331.58 276.00,331.01 280.00,329.10 284.00,331.01 288.00,331.58 292.00,331.58 297.00,330.06 302.00,326.25 307.00,327.20 312.00,326.63 316.00,325.86 321.00,326.25 326.00,325.29 330.00,325.86 335.00,324.34 340.00,322.44 344.00,323.39 349.60,323.39 354.30,246.23 364.40,324.34 368.70,335.77 373.00,331.01 378.00,329.10 382.00,331.96 386.00,325.86 390.00,329.10 394.00,333.87 398.00,333.87 402.00,338.63 406.00,335.77 410.00,336.15 414.00,340.53 418.00,336.72 422.00,332.91 425.00,328.53 429.00,334.82 433.00,340.53 437.00,335.39" fill="none" stroke="#2b7a6a" stroke-width="0.95" stroke-linejoin="round"/>
<line x1="268.40" y1="331.96" x2="437.00" y2="331.96" stroke="#333" stroke-width="0.6" stroke-dasharray="0.8 1.6"/>
<text x="439.20" y="334.42" font-size="6.2" text-anchor="start" fill="#2a2a2a" stroke="#2a2a2a" stroke-width="0.12" textLength="23.50" lengthAdjust="spacingAndGlyphs">baseline</text>
<line x1="267.50" y1="232.00" x2="267.50" y2="347.70" stroke="#231f20" stroke-width="1.05"/>
<line x1="265.10" y1="347.20" x2="267.50" y2="347.20" stroke="#231f20" stroke-width="1.05"/>
<text x="262.50" y="349.28" font-size="5.8" text-anchor="end" fill="#2a2a2a" stroke="#2a2a2a" stroke-width="0.12" textLength="2.74" lengthAdjust="spacingAndGlyphs">0</text>
<line x1="265.10" y1="309.10" x2="267.50" y2="309.10" stroke="#231f20" stroke-width="1.05"/>
<text x="262.50" y="311.18" font-size="5.8" text-anchor="end" fill="#2a2a2a" stroke="#2a2a2a" stroke-width="0.12" textLength="2.74" lengthAdjust="spacingAndGlyphs">2</text>
<line x1="265.10" y1="271.00" x2="267.50" y2="271.00" stroke="#231f20" stroke-width="1.05"/>
<text x="262.50" y="273.08" font-size="5.8" text-anchor="end" fill="#2a2a2a" stroke="#2a2a2a" stroke-width="0.12" textLength="2.74" lengthAdjust="spacingAndGlyphs">4</text>
<line x1="265.10" y1="232.90" x2="267.50" y2="232.90" stroke="#231f20" stroke-width="1.05"/>
<text x="262.50" y="234.98" font-size="5.8" text-anchor="end" fill="#2a2a2a" stroke="#2a2a2a" stroke-width="0.12" textLength="2.74" lengthAdjust="spacingAndGlyphs">6</text>
<line x1="267.40" y1="347.20" x2="438.80" y2="347.20" stroke="#231f20" stroke-width="0.9"/>
<line x1="302.00" y1="347.20" x2="302.00" y2="349.40" stroke="#231f20" stroke-width="0.9"/>
<text x="302.00" y="358.75" font-size="6.0" text-anchor="middle" fill="#2a2a2a" stroke="#2a2a2a" stroke-width="0.12" textLength="11.00" lengthAdjust="spacingAndGlyphs">140</text>
<line x1="346.80" y1="347.20" x2="346.80" y2="349.40" stroke="#231f20" stroke-width="0.9"/>
<text x="346.80" y="358.75" font-size="6.0" text-anchor="middle" fill="#2a2a2a" stroke="#2a2a2a" stroke-width="0.12" textLength="11.00" lengthAdjust="spacingAndGlyphs">160</text>
<line x1="391.60" y1="347.20" x2="391.60" y2="349.40" stroke="#231f20" stroke-width="0.9"/>
<text x="391.60" y="358.75" font-size="6.0" text-anchor="middle" fill="#2a2a2a" stroke="#2a2a2a" stroke-width="0.12" textLength="11.00" lengthAdjust="spacingAndGlyphs">180</text>
<line x1="436.40" y1="347.20" x2="436.40" y2="349.40" stroke="#231f20" stroke-width="0.9"/>
<text x="436.40" y="358.75" font-size="6.0" text-anchor="middle" fill="#2a2a2a" stroke="#2a2a2a" stroke-width="0.12" textLength="11.00" lengthAdjust="spacingAndGlyphs">200</text>
<text x="348.80" y="370.18" font-size="7.2" text-anchor="middle" fill="#2a2a2a" stroke="#2a2a2a" stroke-width="0.12" textLength="23.50" lengthAdjust="spacingAndGlyphs">Time [s]</text>
<text x="252.91" y="288.90" font-size="7.0" text-anchor="middle" fill="#2a2a2a" stroke="#2a2a2a" stroke-width="0.12" transform="rotate(-90 252.91 288.90)" textLength="72.20" lengthAdjust="spacingAndGlyphs">Fura-2 (340nm/380nm)</text>
<text x="353.80" y="225.61" font-size="8.4" text-anchor="middle" fill="#231f20" textLength="87.60" lengthAdjust="spacingAndGlyphs">Peak % above baseline</text>
<text x="331.20" y="274.59" font-size="6.4" text-anchor="middle" fill="#2a2a2a" stroke="#2a2a2a" stroke-width="0.12" textLength="26.40" lengthAdjust="spacingAndGlyphs">capsaicin</text>
<line x1="331.20" y1="279.50" x2="331.20" y2="291.00" stroke="#231f20" stroke-width="0.9"/>
<path d="M329.00,290.50 L333.40,290.50 L331.20,294.50 Z" fill="#231f20" stroke="none" stroke-width="1"/>
<text x="342.80" y="255.02" font-size="6.2" text-anchor="middle" fill="#2b7a6a" stroke="#2b7a6a" stroke-width="0.12" textLength="16.00" lengthAdjust="spacingAndGlyphs">396%</text>
<text x="372.80" y="255.02" font-size="6.2" text-anchor="middle" fill="#7b2f6e" stroke="#7b2f6e" stroke-width="0.12" textLength="16.00" lengthAdjust="spacingAndGlyphs">522%</text>
<text x="375.10" y="318.92" font-size="6.2" text-anchor="middle" fill="#d6358a" stroke="#d6358a" stroke-width="0.12" textLength="12.50" lengthAdjust="spacingAndGlyphs">64%</text>
<line x1="443.20" y1="279.00" x2="455.10" y2="279.00" stroke="#d6358a" stroke-width="1.1"/>
<text x="458.50" y="281.29" font-size="6.4" text-anchor="start" fill="#2a2a2a" stroke="#2a2a2a" stroke-width="0.12" textLength="40.50" lengthAdjust="spacingAndGlyphs">1uM capsaicin</text>
<line x1="443.20" y1="288.90" x2="455.10" y2="288.90" stroke="#2b7a6a" stroke-width="1.1"/>
<text x="458.50" y="291.19" font-size="6.4" text-anchor="start" fill="#2a2a2a" stroke="#2a2a2a" stroke-width="0.12" textLength="44.20" lengthAdjust="spacingAndGlyphs">10uM capsaicin</text>
<line x1="443.20" y1="298.90" x2="455.10" y2="298.90" stroke="#7b2f6e" stroke-width="1.1"/>
<text x="458.50" y="301.19" font-size="6.4" text-anchor="start" fill="#2a2a2a" stroke="#2a2a2a" stroke-width="0.12" textLength="44.20" lengthAdjust="spacingAndGlyphs">50uM capsaicin</text>
<text x="20.80" y="430.51" font-size="7.0" text-anchor="middle" fill="#2a2a2a" stroke="#2a2a2a" stroke-width="0.12" textLength="20.50" lengthAdjust="spacingAndGlyphs">Patient</text>
<text x="20.80" y="438.51" font-size="7.0" text-anchor="middle" fill="#2a2a2a" stroke="#2a2a2a" stroke-width="0.12" textLength="26.50" lengthAdjust="spacingAndGlyphs">plasma or</text>
<text x="20.80" y="446.31" font-size="7.0" text-anchor="middle" fill="#2a2a2a" stroke="#2a2a2a" stroke-width="0.12" textLength="23.50" lengthAdjust="spacingAndGlyphs">cytokine</text>
<text x="20.80" y="454.01" font-size="7.0" text-anchor="middle" fill="#2a2a2a" stroke="#2a2a2a" stroke-width="0.12" textLength="28.30" lengthAdjust="spacingAndGlyphs">treatment</text>
<line x1="22.70" y1="456.00" x2="22.70" y2="472.00" stroke="#c8c8c8" stroke-width="0.8"/>
<path d="M20.9,471.5 L24.5,471.5 L22.7,475 Z" fill="#c8c8c8" stroke="none" stroke-width="1"/>
<line x1="22.70" y1="481.40" x2="80.00" y2="481.40" stroke="#c8c8c8" stroke-width="1.0"/>
<circle cx="22.70" cy="481.40" r="1.3" fill="#c8c8c8"/>
<text x="23.50" y="493.11" font-size="7.0" text-anchor="middle" fill="#2a2a2a" stroke="#2a2a2a" stroke-width="0.12" textLength="25.00" lengthAdjust="spacingAndGlyphs">−30 mins</text>
<rect x="38.90" y="441.00" width="5.00" height="23.40" fill="#e8b430" rx="2.2"/>
<rect x="39.80" y="443.50" width="1.30" height="18.00" fill="#f8e090"/>
<rect x="38.70" y="440.80" width="5.40" height="2.00" fill="#d8a848"/>
<line x1="55.50" y1="442.20" x2="55.50" y2="464.40" stroke="#8e9aac" stroke-width="0.7"/>
<line x1="55.50" y1="445.00" x2="56.80" y2="445.00" stroke="#9aa6b8" stroke-width="0.5"/>
<line x1="55.50" y1="448.20" x2="56.80" y2="448.20" stroke="#9aa6b8" stroke-width="0.5"/>
<line x1="55.50" y1="451.40" x2="56.80" y2="451.40" stroke="#9aa6b8" stroke-width="0.5"/>
<line x1="55.50" y1="454.60" x2="56.80" y2="454.60" stroke="#9aa6b8" stroke-width="0.5"/>
<line x1="55.50" y1="457.80" x2="56.80" y2="457.80" stroke="#9aa6b8" stroke-width="0.5"/>
<line x1="55.50" y1="461.00" x2="56.80" y2="461.00" stroke="#9aa6b8" stroke-width="0.5"/>
<text x="52.80" y="472.58" font-size="7.2" text-anchor="middle" fill="#2a2a2a" stroke="#2a2a2a" stroke-width="0.12" textLength="37.70" lengthAdjust="spacingAndGlyphs">Experimental</text>
<text x="52.70" y="480.58" font-size="7.2" text-anchor="middle" fill="#2a2a2a" stroke="#2a2a2a" stroke-width="0.12" textLength="28.30" lengthAdjust="spacingAndGlyphs">treatment</text>
<line x1="82.00" y1="481.40" x2="238.30" y2="481.40" stroke="#1b3f73" stroke-width="1.3"/>
<circle cx="82.00" cy="481.30" r="3.3" fill="#1b3f73"/>
<circle cx="141.90" cy="481.40" r="1.1" fill="#1b3f73"/>
<circle cx="202.30" cy="481.40" r="1.1" fill="#1b3f73"/>
<text x="82.00" y="493.31" font-size="7.0" text-anchor="middle" fill="#2a2a2a" stroke="#2a2a2a" stroke-width="0.12">0</text>
<text x="142.00" y="493.31" font-size="7.0" text-anchor="middle" fill="#2a2a2a" stroke="#2a2a2a" stroke-width="0.12" textLength="21.50" lengthAdjust="spacingAndGlyphs">30 mins</text>
<text x="202.30" y="493.31" font-size="7.0" text-anchor="middle" fill="#2a2a2a" stroke="#2a2a2a" stroke-width="0.12" textLength="21.50" lengthAdjust="spacingAndGlyphs">60 mins</text>
<text x="83.00" y="428.01" font-size="7.0" text-anchor="middle" fill="#3b6298" stroke="#3b6298" stroke-width="0.12" textLength="42.60" lengthAdjust="spacingAndGlyphs">Remove media,</text>
<text x="83.00" y="435.41" font-size="7.0" text-anchor="middle" fill="#3b6298" stroke="#3b6298" stroke-width="0.12" textLength="53.00" lengthAdjust="spacingAndGlyphs">add assay buffer +</text>
<text x="83.00" y="442.81" font-size="7.0" text-anchor="middle" fill="#3b6298" stroke="#3b6298" stroke-width="0.12" textLength="33.40" lengthAdjust="spacingAndGlyphs">Fluo4 AM +</text>
<text x="83.00" y="450.21" font-size="7.0" text-anchor="middle" fill="#3b6298" stroke="#3b6298" stroke-width="0.12" textLength="35.80" lengthAdjust="spacingAndGlyphs">probenecide</text>
<line x1="82.40" y1="457.00" x2="82.40" y2="473.00" stroke="#1b3f73" stroke-width="0.8"/>
<path d="M80.60,472.50 L84.20,472.50 L82.40,476.00 Z" fill="#1b3f73" stroke="none" stroke-width="1"/>
<path d="M114.5,456.2 C125,455.6 135,456.6 144.6,456.0 C152,455.4 158,456.3 164.5,455.8" fill="none" stroke="#e07aa2" stroke-width="1.3"/>
<path d="M144.6,451 L144.6,456" fill="none" stroke="#e07aa2" stroke-width="1.0"/>
<path d="M114.5,456.2 L110.5,452.5 M112.5,454.3 L109,450 M112,454 L113.2,446.5 M113.2,446.5 L111.5,444.2 M113.2,446.5 L115.5,444.8 M114.5,456.2 L110.8,460.2 M110.8,460.2 L108.8,462.3 M112.5,458.4 L114.5,463.5 M114.5,463.5 L113,466.3 M114.5,463.5 L116.5,465.5 M116,456.2 L118.5,452 M118.5,452 L117.8,449" fill="none" stroke="#e07aa2" stroke-width="0.9"/>
<path d="M164.5,455.8 L170.5,451.5 M170.5,451.5 L174,447.5 M174,447.5 L176.5,443 M174,447.5 L178,446.5 M170.5,451.5 L175.5,452.3 M164.5,455.8 L171,457.5 M171,457.5 L176.8,456 M176.8,456 L179.5,454 M171,457.5 L175.5,461.5 M175.5,461.5 L178.5,459.6 M175.5,461.5 L177.6,465.5 M167.5,456.8 L170,462 M170,462 L171.4,468.5 M172,447 L171.5,443" fill="none" stroke="#e07aa2" stroke-width="0.9"/>
<circle cx="144.60" cy="446.80" r="4.2" fill="#f3b2cb" stroke="#e07aa2" stroke-width="0.9"/>
<circle cx="144.60" cy="446.80" r="1.5" fill="#b01c64"/>
<text x="141.40" y="474.38" font-size="7.2" text-anchor="middle" fill="#3b6298" stroke="#3b6298" stroke-width="0.12" textLength="47.00" lengthAdjust="spacingAndGlyphs">Fluo4 NW Assay</text>
<text x="201.70" y="428.81" font-size="7.0" text-anchor="middle" fill="#3b6298" stroke="#3b6298" stroke-width="0.12" textLength="29.50" lengthAdjust="spacingAndGlyphs">Depolarize</text>
<text x="201.70" y="436.51" font-size="7.0" text-anchor="middle" fill="#3b6298" stroke="#3b6298" stroke-width="0.12" textLength="34.50" lengthAdjust="spacingAndGlyphs">with agonist</text>
<line x1="202.30" y1="438.80" x2="202.30" y2="474.50" stroke="#1b3f73" stroke-width="0.8"/>
<path d="M200.50,474.00 L204.10,474.00 L202.30,477.50 Z" fill="#1b3f73" stroke="none" stroke-width="1"/>
<text x="208.50" y="445.91" font-size="7.0" text-anchor="start" fill="#3b6298" stroke="#3b6298" stroke-width="0.12" textLength="29.60" lengthAdjust="spacingAndGlyphs">50mM KCl</text>
<text x="208.50" y="453.71" font-size="7.0" text-anchor="start" fill="#3b6298" stroke="#3b6298" stroke-width="0.12" textLength="51.50" lengthAdjust="spacingAndGlyphs">100uM Glutamate</text>
<text x="208.50" y="461.21" font-size="7.0" text-anchor="start" fill="#3b6298" stroke="#3b6298" stroke-width="0.12" textLength="47.00" lengthAdjust="spacingAndGlyphs">50uM ab-meATP</text>
<text x="208.50" y="468.81" font-size="7.0" text-anchor="start" fill="#3b6298" stroke="#3b6298" stroke-width="0.12" textLength="42.50" lengthAdjust="spacingAndGlyphs">10uM capsaicin</text>
<text x="208.50" y="476.31" font-size="7.0" text-anchor="start" fill="#3b6298" stroke="#3b6298" stroke-width="0.12" textLength="42.50" lengthAdjust="spacingAndGlyphs">50uM capsaicin</text>
<path d="M202.3,494.6 L202.3,505.8 L209.5,505.8" fill="none" stroke="#333" stroke-width="0.7"/>
<path d="M209,504 L212,505.8 L209,507.6 Z" fill="#2a2a2a" stroke="none" stroke-width="1"/>
<text x="214.60" y="501.01" font-size="7.0" text-anchor="start" fill="#2a2a2a" stroke="#2a2a2a" stroke-width="0.12" textLength="41.50" lengthAdjust="spacingAndGlyphs">Record calcium</text>
<text x="214.60" y="508.71" font-size="7.0" text-anchor="start" fill="#2a2a2a" stroke="#2a2a2a" stroke-width="0.12" textLength="38.50" lengthAdjust="spacingAndGlyphs">flux for entire</text>
<text x="214.60" y="516.31" font-size="7.0" text-anchor="start" fill="#2a2a2a" stroke="#2a2a2a" stroke-width="0.12" textLength="48.50" lengthAdjust="spacingAndGlyphs">population (well)</text>
<rect x="336.20" y="461.60" width="5.00" height="38.20" fill="#1c4b8b"/>
<rect x="351.60" y="469.62" width="5.00" height="30.18" fill="#e4157c"/>
<rect x="367.20" y="432.57" width="5.10" height="67.23" fill="#136b4f"/>
<rect x="382.80" y="431.42" width="5.10" height="68.38" fill="#5b2378"/>
<line x1="316.50" y1="422.50" x2="316.50" y2="500.30" stroke="#231f20" stroke-width="1.05"/>
<line x1="314.10" y1="499.80" x2="316.50" y2="499.80" stroke="#231f20" stroke-width="1.05"/>
<text x="311.30" y="502.09" font-size="6.4" text-anchor="end" fill="#2a2a2a" stroke="#2a2a2a" stroke-width="0.12" textLength="3.67" lengthAdjust="spacingAndGlyphs">0</text>
<line x1="314.10" y1="484.52" x2="316.50" y2="484.52" stroke="#231f20" stroke-width="1.05"/>
<text x="311.30" y="486.81" font-size="6.4" text-anchor="end" fill="#2a2a2a" stroke="#2a2a2a" stroke-width="0.12" textLength="7.33" lengthAdjust="spacingAndGlyphs">20</text>
<line x1="314.10" y1="469.24" x2="316.50" y2="469.24" stroke="#231f20" stroke-width="1.05"/>
<text x="311.30" y="471.53" font-size="6.4" text-anchor="end" fill="#2a2a2a" stroke="#2a2a2a" stroke-width="0.12" textLength="7.33" lengthAdjust="spacingAndGlyphs">40</text>
<line x1="314.10" y1="453.96" x2="316.50" y2="453.96" stroke="#231f20" stroke-width="1.05"/>
<text x="311.30" y="456.25" font-size="6.4" text-anchor="end" fill="#2a2a2a" stroke="#2a2a2a" stroke-width="0.12" textLength="7.33" lengthAdjust="spacingAndGlyphs">60</text>
<line x1="314.10" y1="438.68" x2="316.50" y2="438.68" stroke="#231f20" stroke-width="1.05"/>
<text x="311.30" y="440.97" font-size="6.4" text-anchor="end" fill="#2a2a2a" stroke="#2a2a2a" stroke-width="0.12" textLength="7.33" lengthAdjust="spacingAndGlyphs">80</text>
<line x1="314.10" y1="423.40" x2="316.50" y2="423.40" stroke="#231f20" stroke-width="1.05"/>
<text x="311.30" y="425.69" font-size="6.4" text-anchor="end" fill="#2a2a2a" stroke="#2a2a2a" stroke-width="0.12" textLength="11.00" lengthAdjust="spacingAndGlyphs">100</text>
<line x1="316.60" y1="499.50" x2="391.50" y2="499.50" stroke="#231f20" stroke-width="1.05"/>
<line x1="323.30" y1="499.50" x2="323.30" y2="501.70" stroke="#231f20" stroke-width="1.05"/>
<line x1="338.70" y1="499.50" x2="338.70" y2="501.70" stroke="#231f20" stroke-width="1.05"/>
<line x1="354.10" y1="499.50" x2="354.10" y2="501.70" stroke="#231f20" stroke-width="1.05"/>
<line x1="369.70" y1="499.50" x2="369.70" y2="501.70" stroke="#231f20" stroke-width="1.05"/>
<line x1="385.30" y1="499.50" x2="385.30" y2="501.70" stroke="#231f20" stroke-width="1.05"/>
<text x="326.50" y="508.80" font-size="6.9" text-anchor="end" fill="#2a2a2a" stroke="#2a2a2a" stroke-width="0.12" textLength="10.80" lengthAdjust="spacingAndGlyphs" transform="rotate(-45 326.50 508.80)">PBS</text>
<text x="341.90" y="508.80" font-size="6.9" text-anchor="end" fill="#2a2a2a" stroke="#2a2a2a" stroke-width="0.12" textLength="30.00" lengthAdjust="spacingAndGlyphs" transform="rotate(-45 341.90 508.80)">0.1uM cap</text>
<text x="357.30" y="508.80" font-size="6.9" text-anchor="end" fill="#2a2a2a" stroke="#2a2a2a" stroke-width="0.12" textLength="24.00" lengthAdjust="spacingAndGlyphs" transform="rotate(-45 357.30 508.80)">1uM cap</text>
<text x="372.90" y="508.80" font-size="6.9" text-anchor="end" fill="#2a2a2a" stroke="#2a2a2a" stroke-width="0.12" textLength="27.50" lengthAdjust="spacingAndGlyphs" transform="rotate(-45 372.90 508.80)">10uM cap</text>
<text x="388.50" y="508.80" font-size="6.9" text-anchor="end" fill="#2a2a2a" stroke="#2a2a2a" stroke-width="0.12" textLength="27.50" lengthAdjust="spacingAndGlyphs" transform="rotate(-45 388.50 508.80)">50uM cap</text>
<text x="323.00" y="495.79" font-size="6.4" text-anchor="middle" fill="#2a2a2a" stroke="#2a2a2a" stroke-width="0.12" textLength="9.10" lengthAdjust="spacingAndGlyphs">0/4</text>
<text x="338.60" y="457.89" font-size="6.4" text-anchor="middle" fill="#2a2a2a" stroke="#2a2a2a" stroke-width="0.12" textLength="12.75" lengthAdjust="spacingAndGlyphs">8/16</text>
<text x="354.00" y="465.39" font-size="6.4" text-anchor="middle" fill="#2a2a2a" stroke="#2a2a2a" stroke-width="0.12" textLength="13.10" lengthAdjust="spacingAndGlyphs">6/15</text>
<text x="370.30" y="428.29" font-size="6.4" text-anchor="middle" fill="#2a2a2a" stroke="#2a2a2a" stroke-width="0.12" textLength="16.90" lengthAdjust="spacingAndGlyphs">16/18</text>
<text x="385.30" y="428.29" font-size="6.4" text-anchor="middle" fill="#2a2a2a" stroke="#2a2a2a" stroke-width="0.12" textLength="13.10" lengthAdjust="spacingAndGlyphs">9/10</text>
<text x="352.80" y="416.51" font-size="8.4" text-anchor="middle" fill="#231f20" textLength="55.00" lengthAdjust="spacingAndGlyphs">% Responders</text>
<text x="295.14" y="459.90" font-size="8.2" text-anchor="middle" fill="#2a2a2a" stroke="#2a2a2a" stroke-width="0.12" transform="rotate(-90 295.14 459.90)" textLength="91.20" lengthAdjust="spacingAndGlyphs">% Wells responding/total wells</text>
<line x1="432.30" y1="488.90" x2="513.00" y2="488.90" stroke="#d0d0d0" stroke-width="0.8"/>
<line x1="432.50" y1="422.50" x2="432.50" y2="500.50" stroke="#231f20" stroke-width="1.05"/>
<line x1="430.10" y1="488.90" x2="432.50" y2="488.90" stroke="#231f20" stroke-width="1.05"/>
<text x="427.50" y="490.98" font-size="5.8" text-anchor="end" fill="#2a2a2a" stroke="#2a2a2a" stroke-width="0.12" textLength="2.74" lengthAdjust="spacingAndGlyphs">0</text>
<line x1="430.10" y1="467.30" x2="432.50" y2="467.30" stroke="#231f20" stroke-width="1.05"/>
<text x="427.50" y="469.38" font-size="5.8" text-anchor="end" fill="#2a2a2a" stroke="#2a2a2a" stroke-width="0.12" textLength="5.48" lengthAdjust="spacingAndGlyphs">20</text>
<line x1="430.10" y1="445.70" x2="432.50" y2="445.70" stroke="#231f20" stroke-width="1.05"/>
<text x="427.50" y="447.78" font-size="5.8" text-anchor="end" fill="#2a2a2a" stroke="#2a2a2a" stroke-width="0.12" textLength="5.48" lengthAdjust="spacingAndGlyphs">40</text>
<line x1="430.10" y1="424.10" x2="432.50" y2="424.10" stroke="#231f20" stroke-width="1.05"/>
<text x="427.50" y="426.18" font-size="5.8" text-anchor="end" fill="#2a2a2a" stroke="#2a2a2a" stroke-width="0.12" textLength="5.48" lengthAdjust="spacingAndGlyphs">60</text>
<line x1="432.30" y1="500.50" x2="513.00" y2="500.50" stroke="#231f20" stroke-width="1.05"/>
<line x1="442.20" y1="500.50" x2="442.20" y2="502.70" stroke="#231f20" stroke-width="1.05"/>
<line x1="457.70" y1="500.50" x2="457.70" y2="502.70" stroke="#231f20" stroke-width="1.05"/>
<line x1="473.00" y1="500.50" x2="473.00" y2="502.70" stroke="#231f20" stroke-width="1.05"/>
<line x1="488.40" y1="500.50" x2="488.40" y2="502.70" stroke="#231f20" stroke-width="1.05"/>
<line x1="504.00" y1="500.50" x2="504.00" y2="502.70" stroke="#231f20" stroke-width="1.05"/>
<text x="445.40" y="508.80" font-size="6.9" text-anchor="end" fill="#2a2a2a" stroke="#2a2a2a" stroke-width="0.12" textLength="10.80" lengthAdjust="spacingAndGlyphs" transform="rotate(-45 445.40 508.80)">PBS</text>
<text x="460.90" y="508.80" font-size="6.9" text-anchor="end" fill="#2a2a2a" stroke="#2a2a2a" stroke-width="0.12" textLength="30.00" lengthAdjust="spacingAndGlyphs" transform="rotate(-45 460.90 508.80)">0.1uM cap</text>
<text x="476.20" y="508.80" font-size="6.9" text-anchor="end" fill="#2a2a2a" stroke="#2a2a2a" stroke-width="0.12" textLength="24.00" lengthAdjust="spacingAndGlyphs" transform="rotate(-45 476.20 508.80)">1uM cap</text>
<text x="491.60" y="508.80" font-size="6.9" text-anchor="end" fill="#2a2a2a" stroke="#2a2a2a" stroke-width="0.12" textLength="27.50" lengthAdjust="spacingAndGlyphs" transform="rotate(-45 491.60 508.80)">10uM cap</text>
<text x="507.20" y="508.80" font-size="6.9" text-anchor="end" fill="#2a2a2a" stroke="#2a2a2a" stroke-width="0.12" textLength="27.50" lengthAdjust="spacingAndGlyphs" transform="rotate(-45 507.20 508.80)">50uM cap</text>
<path d="M442.20,486 L442.20,431.00 L510.80,431.00 L510.80,461.50" fill="none" stroke="#999" stroke-width="0.75"/>
<text x="473.40" y="430.08" font-size="5.8" text-anchor="middle" fill="#2a2a2a" stroke="#2a2a2a" stroke-width="0.12">***</text>
<path d="M442.20,486 L442.20,438.50 L488.40,438.50 L488.40,449.50" fill="none" stroke="#999" stroke-width="0.75"/>
<text x="465.80" y="438.08" font-size="5.8" text-anchor="middle" fill="#2a2a2a" stroke="#2a2a2a" stroke-width="0.12">*</text>
<path d="M442.20,486 L442.20,447.70 L473.20,447.70 L473.20,466.00" fill="none" stroke="#999" stroke-width="0.75"/>
<text x="458.80" y="446.78" font-size="5.8" text-anchor="middle" fill="#2a2a2a" stroke="#2a2a2a" stroke-width="0.12">ns</text>
<path d="M442.20,486 L442.20,457.00 L457.70,457.00 L457.70,468.50" fill="none" stroke="#999" stroke-width="0.75"/>
<text x="449.60" y="456.28" font-size="5.8" text-anchor="middle" fill="#2a2a2a" stroke="#2a2a2a" stroke-width="0.12">ns</text>
<circle cx="440.61" cy="488.90" r="1.5" fill="#a8c47a"/>
<circle cx="438.45" cy="489.98" r="1.5" fill="#a8c47a"/>
<circle cx="442.36" cy="491.06" r="1.5" fill="#a8c47a"/>
<circle cx="445.90" cy="488.36" r="1.5" fill="#a8c47a"/>
<circle cx="438.69" cy="490.52" r="1.5" fill="#a8c47a"/>
<circle cx="444.68" cy="488.90" r="1.5" fill="#a8c47a"/>
<circle cx="456.84" cy="470.54" r="1.5" fill="#1c4b8b"/>
<circle cx="457.21" cy="474.86" r="1.5" fill="#1c4b8b"/>
<circle cx="456.54" cy="478.10" r="1.5" fill="#1c4b8b"/>
<circle cx="456.81" cy="482.42" r="1.5" fill="#1c4b8b"/>
<circle cx="456.48" cy="484.58" r="1.5" fill="#1c4b8b"/>
<circle cx="462.56" cy="485.66" r="1.5" fill="#1c4b8b"/>
<circle cx="462.51" cy="486.20" r="1.5" fill="#1c4b8b"/>
<circle cx="454.45" cy="486.74" r="1.5" fill="#1c4b8b"/>
<circle cx="455.72" cy="487.28" r="1.5" fill="#1c4b8b"/>
<circle cx="462.31" cy="487.82" r="1.5" fill="#1c4b8b"/>
<circle cx="454.55" cy="487.82" r="1.5" fill="#1c4b8b"/>
<circle cx="455.84" cy="488.36" r="1.5" fill="#1c4b8b"/>
<circle cx="457.06" cy="488.36" r="1.5" fill="#1c4b8b"/>
<circle cx="453.63" cy="488.90" r="1.5" fill="#1c4b8b"/>
<circle cx="455.21" cy="486.74" r="1.5" fill="#1c4b8b"/>
<circle cx="456.60" cy="485.12" r="1.5" fill="#1c4b8b"/>
<circle cx="472.70" cy="478.10" r="1.5" fill="#e4157c"/>
<circle cx="475.87" cy="483.50" r="1.5" fill="#e4157c"/>
<circle cx="470.58" cy="485.66" r="1.5" fill="#e4157c"/>
<circle cx="469.92" cy="486.20" r="1.5" fill="#e4157c"/>
<circle cx="477.25" cy="486.74" r="1.5" fill="#e4157c"/>
<circle cx="472.48" cy="487.28" r="1.5" fill="#e4157c"/>
<circle cx="476.51" cy="487.82" r="1.5" fill="#e4157c"/>
<circle cx="474.43" cy="487.82" r="1.5" fill="#e4157c"/>
<circle cx="475.90" cy="488.36" r="1.5" fill="#e4157c"/>
<circle cx="471.07" cy="488.36" r="1.5" fill="#e4157c"/>
<circle cx="469.38" cy="488.90" r="1.5" fill="#e4157c"/>
<circle cx="475.67" cy="488.90" r="1.5" fill="#e4157c"/>
<circle cx="472.69" cy="486.96" r="1.5" fill="#e4157c"/>
<circle cx="473.61" cy="485.12" r="1.5" fill="#e4157c"/>
<circle cx="474.77" cy="486.74" r="1.5" fill="#e4157c"/>
<circle cx="489.06" cy="452.18" r="1.5" fill="#136b4f"/>
<circle cx="487.82" cy="465.14" r="1.5" fill="#136b4f"/>
<circle cx="487.80" cy="473.78" r="1.5" fill="#136b4f"/>
<circle cx="490.24" cy="475.94" r="1.5" fill="#136b4f"/>
<circle cx="488.53" cy="479.18" r="1.5" fill="#136b4f"/>
<circle cx="486.33" cy="481.34" r="1.5" fill="#136b4f"/>
<circle cx="489.75" cy="482.42" r="1.5" fill="#136b4f"/>
<circle cx="485.90" cy="483.50" r="1.5" fill="#136b4f"/>
<circle cx="491.22" cy="484.04" r="1.5" fill="#136b4f"/>
<circle cx="483.63" cy="484.58" r="1.5" fill="#136b4f"/>
<circle cx="491.80" cy="485.66" r="1.5" fill="#136b4f"/>
<circle cx="489.09" cy="486.20" r="1.5" fill="#136b4f"/>
<circle cx="486.88" cy="486.74" r="1.5" fill="#136b4f"/>
<circle cx="492.98" cy="487.82" r="1.5" fill="#136b4f"/>
<circle cx="486.10" cy="488.36" r="1.5" fill="#136b4f"/>
<circle cx="486.35" cy="488.90" r="1.5" fill="#136b4f"/>
<circle cx="483.93" cy="485.12" r="1.5" fill="#136b4f"/>
<circle cx="488.88" cy="481.88" r="1.5" fill="#136b4f"/>
<circle cx="505.57" cy="462.98" r="1.5" fill="#5b2378"/>
<circle cx="505.42" cy="464.06" r="1.5" fill="#5b2378"/>
<circle cx="503.14" cy="465.14" r="1.5" fill="#5b2378"/>
<circle cx="507.02" cy="466.22" r="1.5" fill="#5b2378"/>
<circle cx="500.89" cy="467.30" r="1.5" fill="#5b2378"/>
<circle cx="502.80" cy="468.38" r="1.5" fill="#5b2378"/>
<circle cx="504.64" cy="478.10" r="1.5" fill="#5b2378"/>
<circle cx="506.06" cy="479.18" r="1.5" fill="#5b2378"/>
<circle cx="504.35" cy="484.58" r="1.5" fill="#5b2378"/>
<circle cx="504.50" cy="487.28" r="1.5" fill="#5b2378"/>
<text x="473.30" y="405.85" font-size="8.8" text-anchor="middle" fill="#231f20" stroke="#231f20" stroke-width="0.05" textLength="52.00" lengthAdjust="spacingAndGlyphs">Magnitude of</text>
<text x="473.30" y="416.25" font-size="8.8" text-anchor="middle" fill="#231f20" stroke="#231f20" stroke-width="0.05" textLength="47.30" lengthAdjust="spacingAndGlyphs">Calcium Flux</text>
<text x="414.25" y="460.60" font-size="7.4" text-anchor="middle" fill="#2a2a2a" stroke="#2a2a2a" stroke-width="0.12" transform="rotate(-90 414.25 460.60)" textLength="116.40" lengthAdjust="spacingAndGlyphs">Relative calcium flux (% of pre-agonist)</text>
<line x1="39.10" y1="643.40" x2="100.50" y2="643.40" stroke="#cfcfcf" stroke-width="0.8"/>
<line x1="39.50" y1="579.00" x2="39.50" y2="664.90" stroke="#231f20" stroke-width="1.05"/>
<line x1="36.50" y1="664.40" x2="39.50" y2="664.40" stroke="#231f20" stroke-width="1.05"/>
<text x="33.10" y="666.55" font-size="6.0" text-anchor="end" fill="#2a2a2a" stroke="#2a2a2a" stroke-width="0.12" textLength="12.25" lengthAdjust="spacingAndGlyphs">-100</text>
<line x1="36.50" y1="643.40" x2="39.50" y2="643.40" stroke="#231f20" stroke-width="1.05"/>
<text x="33.10" y="645.55" font-size="6.0" text-anchor="end" fill="#2a2a2a" stroke="#2a2a2a" stroke-width="0.12" textLength="3.40" lengthAdjust="spacingAndGlyphs">0</text>
<line x1="36.50" y1="622.30" x2="39.50" y2="622.30" stroke="#231f20" stroke-width="1.05"/>
<text x="33.10" y="624.45" font-size="6.0" text-anchor="end" fill="#2a2a2a" stroke="#2a2a2a" stroke-width="0.12" textLength="10.21" lengthAdjust="spacingAndGlyphs">100</text>
<line x1="36.50" y1="601.30" x2="39.50" y2="601.30" stroke="#231f20" stroke-width="1.05"/>
<text x="33.10" y="603.45" font-size="6.0" text-anchor="end" fill="#2a2a2a" stroke="#2a2a2a" stroke-width="0.12" textLength="10.21" lengthAdjust="spacingAndGlyphs">200</text>
<line x1="36.50" y1="580.20" x2="39.50" y2="580.20" stroke="#231f20" stroke-width="1.05"/>
<text x="33.10" y="582.35" font-size="6.0" text-anchor="end" fill="#2a2a2a" stroke="#2a2a2a" stroke-width="0.12" textLength="10.21" lengthAdjust="spacingAndGlyphs">300</text>
<line x1="39.10" y1="664.50" x2="100.50" y2="664.50" stroke="#231f20" stroke-width="1.05"/>
<line x1="56.70" y1="664.50" x2="56.70" y2="666.70" stroke="#231f20" stroke-width="1.05"/>
<line x1="83.30" y1="664.50" x2="83.30" y2="666.70" stroke="#231f20" stroke-width="1.05"/>
<text x="59.10" y="672.50" font-size="6.9" text-anchor="end" fill="#2a2a2a" stroke="#2a2a2a" stroke-width="0.12" textLength="22.00" lengthAdjust="spacingAndGlyphs" transform="rotate(-45 59.10 672.50)">HC iSNs</text>
<text x="85.70" y="672.50" font-size="6.9" text-anchor="end" fill="#2a2a2a" stroke="#2a2a2a" stroke-width="0.12" textLength="26.00" lengthAdjust="spacingAndGlyphs" transform="rotate(-45 85.70 672.50)">SCD iSNs</text>
<text x="68.80" y="572.85" font-size="8.8" text-anchor="middle" fill="#231f20" textLength="39.50" lengthAdjust="spacingAndGlyphs">50mM KCl</text>
<path d="M56.70,598.70 C56.83,599.37 57.20,601.47 57.50,602.70 C57.80,603.93 58.27,605.13 58.50,606.10 C58.73,607.07 59.00,607.63 58.90,608.50 C58.80,609.37 58.15,610.15 57.90,611.30 C57.65,612.45 57.47,613.77 57.40,615.40 C57.33,617.03 57.37,619.57 57.50,621.10 C57.63,622.63 58.03,623.43 58.20,624.60 C58.37,625.77 58.17,626.95 58.50,628.10 C58.83,629.25 59.50,630.35 60.20,631.50 C60.90,632.65 61.98,633.85 62.70,635.00 C63.42,636.15 64.07,637.25 64.50,638.40 C64.93,639.55 65.52,640.93 65.30,641.90 C65.08,642.87 64.05,643.43 63.20,644.20 C62.35,644.97 61.08,645.73 60.20,646.50 C59.32,647.27 58.48,647.73 57.90,648.80 C57.32,649.87 56.90,652.22 56.70,652.90 L56.70,652.90 C56.50,652.22 56.08,649.87 55.50,648.80 C54.92,647.73 54.08,647.27 53.20,646.50 C52.32,645.73 51.05,644.97 50.20,644.20 C49.35,643.43 48.32,642.87 48.10,641.90 C47.88,640.93 48.47,639.55 48.90,638.40 C49.33,637.25 49.98,636.15 50.70,635.00 C51.42,633.85 52.50,632.65 53.20,631.50 C53.90,630.35 54.57,629.25 54.90,628.10 C55.23,626.95 55.03,625.77 55.20,624.60 C55.37,623.43 55.77,622.63 55.90,621.10 C56.03,619.57 56.07,617.03 56.00,615.40 C55.93,613.77 55.75,612.45 55.50,611.30 C55.25,610.15 54.60,609.37 54.50,608.50 C54.40,607.63 54.67,607.07 54.90,606.10 C55.13,605.13 55.60,603.93 55.90,602.70 C56.20,601.47 56.57,599.37 56.70,598.70 Z" fill="#3aa6dd" stroke="#111" stroke-width="0.9" stroke-linejoin="round"/>
<circle cx="56.70" cy="606.50" r="1.6" fill="#111"/>
<circle cx="56.70" cy="609.50" r="1.6" fill="#111"/>
<circle cx="56.70" cy="625.00" r="1.6" fill="#111"/>
<circle cx="56.70" cy="628.00" r="1.6" fill="#111"/>
<circle cx="56.70" cy="637.00" r="1.6" fill="#111"/>
<circle cx="52.70" cy="639.50" r="1.6" fill="#111"/>
<circle cx="60.70" cy="640.00" r="1.6" fill="#111"/>
<circle cx="49.20" cy="642.00" r="1.6" fill="#111"/>
<circle cx="64.20" cy="642.00" r="1.6" fill="#111"/>
<circle cx="56.70" cy="642.50" r="1.6" fill="#111"/>
<circle cx="54.70" cy="644.00" r="1.6" fill="#111"/>
<circle cx="58.70" cy="643.50" r="1.6" fill="#111"/>
<path d="M83.30,595.20 C83.47,596.07 83.97,598.77 84.30,600.40 C84.63,602.03 85.27,603.47 85.30,605.00 C85.33,606.53 84.70,607.87 84.50,609.60 C84.30,611.33 84.13,613.48 84.10,615.40 C84.07,617.32 84.13,619.57 84.30,621.10 C84.47,622.63 84.77,623.25 85.10,624.60 C85.43,625.95 85.60,627.67 86.30,629.20 C87.00,630.73 88.47,632.45 89.30,633.80 C90.13,635.15 90.88,636.15 91.30,637.30 C91.72,638.45 92.05,639.65 91.80,640.70 C91.55,641.75 90.63,642.63 89.80,643.60 C88.97,644.57 87.63,645.53 86.80,646.50 C85.97,647.47 85.38,648.15 84.80,649.40 C84.22,650.65 83.55,653.23 83.30,654.00 L83.30,654.00 C83.05,653.23 82.38,650.65 81.80,649.40 C81.22,648.15 80.63,647.47 79.80,646.50 C78.97,645.53 77.63,644.57 76.80,643.60 C75.97,642.63 75.05,641.75 74.80,640.70 C74.55,639.65 74.88,638.45 75.30,637.30 C75.72,636.15 76.47,635.15 77.30,633.80 C78.13,632.45 79.60,630.73 80.30,629.20 C81.00,627.67 81.17,625.95 81.50,624.60 C81.83,623.25 82.13,622.63 82.30,621.10 C82.47,619.57 82.53,617.32 82.50,615.40 C82.47,613.48 82.30,611.33 82.10,609.60 C81.90,607.87 81.27,606.53 81.30,605.00 C81.33,603.47 81.97,602.03 82.30,600.40 C82.63,598.77 83.13,596.07 83.30,595.20 Z" fill="#d3173b" stroke="#111" stroke-width="0.9" stroke-linejoin="round"/>
<circle cx="83.30" cy="604.50" r="1.6" fill="#111"/>
<circle cx="83.30" cy="608.00" r="1.6" fill="#111"/>
<circle cx="83.30" cy="624.00" r="1.6" fill="#111"/>
<circle cx="83.30" cy="629.00" r="1.6" fill="#111"/>
<circle cx="80.30" cy="635.00" r="1.6" fill="#111"/>
<circle cx="85.80" cy="636.50" r="1.6" fill="#111"/>
<circle cx="76.80" cy="639.00" r="1.6" fill="#111"/>
<circle cx="89.80" cy="640.00" r="1.6" fill="#111"/>
<circle cx="83.30" cy="640.00" r="1.6" fill="#111"/>
<circle cx="80.80" cy="642.50" r="1.6" fill="#111"/>
<circle cx="86.30" cy="643.00" r="1.6" fill="#111"/>
<circle cx="76.30" cy="643.00" r="1.6" fill="#111"/>
<path d="M56.70,589.80 L56.70,584.30 L83.30,584.30 L83.30,589.80" fill="none" stroke="#555" stroke-width="0.7"/>
<text x="70.00" y="582.22" font-size="6.2" text-anchor="middle" fill="#2a2a2a" stroke="#2a2a2a" stroke-width="0.12">ns</text>
<text x="14.02" y="618.40" font-size="7.6" text-anchor="middle" fill="#2a2a2a" stroke="#2a2a2a" stroke-width="0.12" transform="rotate(-90 14.02 618.40)" textLength="111.30" lengthAdjust="spacingAndGlyphs">Relative calcium flux (% of PBS control)</text>
<line x1="141.30" y1="643.60" x2="202.00" y2="643.60" stroke="#cfcfcf" stroke-width="0.8"/>
<line x1="141.50" y1="579.00" x2="141.50" y2="664.30" stroke="#231f20" stroke-width="1.05"/>
<line x1="138.50" y1="664.40" x2="141.50" y2="664.40" stroke="#231f20" stroke-width="1.05"/>
<text x="135.10" y="666.55" font-size="6.0" text-anchor="end" fill="#2a2a2a" stroke="#2a2a2a" stroke-width="0.12" textLength="12.25" lengthAdjust="spacingAndGlyphs">-100</text>
<line x1="138.50" y1="643.40" x2="141.50" y2="643.40" stroke="#231f20" stroke-width="1.05"/>
<text x="135.10" y="645.55" font-size="6.0" text-anchor="end" fill="#2a2a2a" stroke="#2a2a2a" stroke-width="0.12" textLength="3.40" lengthAdjust="spacingAndGlyphs">0</text>
<line x1="138.50" y1="622.30" x2="141.50" y2="622.30" stroke="#231f20" stroke-width="1.05"/>
<text x="135.10" y="624.45" font-size="6.0" text-anchor="end" fill="#2a2a2a" stroke="#2a2a2a" stroke-width="0.12" textLength="10.21" lengthAdjust="spacingAndGlyphs">100</text>
<line x1="138.50" y1="601.30" x2="141.50" y2="601.30" stroke="#231f20" stroke-width="1.05"/>
<text x="135.10" y="603.45" font-size="6.0" text-anchor="end" fill="#2a2a2a" stroke="#2a2a2a" stroke-width="0.12" textLength="10.21" lengthAdjust="spacingAndGlyphs">200</text>
<line x1="138.50" y1="580.20" x2="141.50" y2="580.20" stroke="#231f20" stroke-width="1.05"/>
<text x="135.10" y="582.35" font-size="6.0" text-anchor="end" fill="#2a2a2a" stroke="#2a2a2a" stroke-width="0.12" textLength="10.21" lengthAdjust="spacingAndGlyphs">300</text>
<line x1="141.30" y1="663.50" x2="202.00" y2="663.50" stroke="#231f20" stroke-width="1.05"/>
<line x1="158.60" y1="663.50" x2="158.60" y2="665.70" stroke="#231f20" stroke-width="1.05"/>
<line x1="185.10" y1="663.50" x2="185.10" y2="665.70" stroke="#231f20" stroke-width="1.05"/>
<text x="161.00" y="672.50" font-size="6.9" text-anchor="end" fill="#2a2a2a" stroke="#2a2a2a" stroke-width="0.12" textLength="22.00" lengthAdjust="spacingAndGlyphs" transform="rotate(-45 161.00 672.50)">HC iSNs</text>
<text x="187.50" y="672.50" font-size="6.9" text-anchor="end" fill="#2a2a2a" stroke="#2a2a2a" stroke-width="0.12" textLength="26.00" lengthAdjust="spacingAndGlyphs" transform="rotate(-45 187.50 672.50)">SCD iSNs</text>
<text x="172.50" y="572.85" font-size="8.8" text-anchor="middle" fill="#231f20" textLength="64.00" lengthAdjust="spacingAndGlyphs">100uM Glutamate</text>
<path d="M158.60,620.30 C159.07,621.08 160.78,623.55 161.40,625.00 C162.02,626.45 161.93,627.67 162.30,629.00 C162.67,630.33 162.90,631.65 163.60,633.00 C164.30,634.35 165.88,635.77 166.50,637.10 C167.12,638.43 167.62,639.88 167.30,641.00 C166.98,642.12 165.55,642.98 164.60,643.80 C163.65,644.62 162.52,645.12 161.60,645.90 C160.68,646.68 159.60,647.82 159.10,648.50 C158.60,649.18 158.68,649.75 158.60,650.00 L158.60,650.00 C158.52,649.75 158.60,649.18 158.10,648.50 C157.60,647.82 156.52,646.68 155.60,645.90 C154.68,645.12 153.55,644.62 152.60,643.80 C151.65,642.98 150.22,642.12 149.90,641.00 C149.58,639.88 150.08,638.43 150.70,637.10 C151.32,635.77 152.90,634.35 153.60,633.00 C154.30,631.65 154.53,630.33 154.90,629.00 C155.27,627.67 155.18,626.45 155.80,625.00 C156.42,623.55 158.13,621.08 158.60,620.30 Z" fill="#3aa6dd" stroke="#111" stroke-width="0.9" stroke-linejoin="round"/>
<circle cx="158.60" cy="624.50" r="1.6" fill="#111"/>
<circle cx="156.10" cy="630.00" r="1.6" fill="#111"/>
<circle cx="161.10" cy="631.00" r="1.6" fill="#111"/>
<circle cx="153.60" cy="634.50" r="1.6" fill="#111"/>
<circle cx="163.10" cy="635.00" r="1.6" fill="#111"/>
<circle cx="158.60" cy="637.00" r="1.6" fill="#111"/>
<circle cx="151.60" cy="640.00" r="1.6" fill="#111"/>
<circle cx="156.60" cy="640.50" r="1.6" fill="#111"/>
<circle cx="161.60" cy="641.00" r="1.6" fill="#111"/>
<circle cx="166.10" cy="641.50" r="1.6" fill="#111"/>
<circle cx="154.60" cy="643.00" r="1.6" fill="#111"/>
<circle cx="160.60" cy="644.00" r="1.6" fill="#111"/>
<path d="M185.10,614.20 C185.43,615.00 186.52,617.65 187.10,619.00 C187.68,620.35 188.10,620.85 188.60,622.30 C189.10,623.75 189.60,625.92 190.10,627.70 C190.60,629.48 190.98,631.20 191.60,633.00 C192.22,634.80 193.80,636.70 193.80,638.50 C193.80,640.30 192.55,642.23 191.60,643.80 C190.65,645.37 189.02,646.88 188.10,647.90 C187.18,648.92 186.52,648.88 186.10,649.90 C185.68,650.92 185.77,653.07 185.60,654.00 C185.43,654.93 185.18,655.25 185.10,655.50 L185.10,655.50 C185.02,655.25 184.77,654.93 184.60,654.00 C184.43,653.07 184.52,650.92 184.10,649.90 C183.68,648.88 183.02,648.92 182.10,647.90 C181.18,646.88 179.55,645.37 178.60,643.80 C177.65,642.23 176.40,640.30 176.40,638.50 C176.40,636.70 177.98,634.80 178.60,633.00 C179.22,631.20 179.60,629.48 180.10,627.70 C180.60,625.92 181.10,623.75 181.60,622.30 C182.10,620.85 182.52,620.35 183.10,619.00 C183.68,617.65 184.77,615.00 185.10,614.20 Z" fill="#d3173b" stroke="#111" stroke-width="0.9" stroke-linejoin="round"/>
<circle cx="185.10" cy="619.00" r="1.6" fill="#111"/>
<circle cx="185.10" cy="623.00" r="1.6" fill="#111"/>
<circle cx="183.10" cy="628.00" r="1.6" fill="#111"/>
<circle cx="187.10" cy="628.00" r="1.6" fill="#111"/>
<circle cx="181.10" cy="633.00" r="1.6" fill="#111"/>
<circle cx="188.10" cy="633.50" r="1.6" fill="#111"/>
<circle cx="185.10" cy="637.00" r="1.6" fill="#111"/>
<circle cx="179.10" cy="639.00" r="1.6" fill="#111"/>
<circle cx="190.10" cy="639.50" r="1.6" fill="#111"/>
<circle cx="183.10" cy="641.00" r="1.6" fill="#111"/>
<circle cx="188.10" cy="642.00" r="1.6" fill="#111"/>
<circle cx="185.10" cy="645.00" r="1.6" fill="#111"/>
<path d="M158.60,613.00 L158.60,607.50 L185.10,607.50 L185.10,613.00" fill="none" stroke="#555" stroke-width="0.7"/>
<text x="171.85" y="605.42" font-size="6.2" text-anchor="middle" fill="#2a2a2a" stroke="#2a2a2a" stroke-width="0.12">ns</text>
<text x="117.42" y="618.40" font-size="7.6" text-anchor="middle" fill="#2a2a2a" stroke="#2a2a2a" stroke-width="0.12" transform="rotate(-90 117.42 618.40)" textLength="111.30" lengthAdjust="spacingAndGlyphs">Relative calcium flux (% of PBS control)</text>
<line x1="245.80" y1="643.60" x2="308.80" y2="643.60" stroke="#cfcfcf" stroke-width="0.8"/>
<line x1="245.50" y1="579.00" x2="245.50" y2="664.30" stroke="#231f20" stroke-width="1.05"/>
<line x1="242.50" y1="664.40" x2="245.50" y2="664.40" stroke="#231f20" stroke-width="1.05"/>
<text x="239.10" y="666.55" font-size="6.0" text-anchor="end" fill="#2a2a2a" stroke="#2a2a2a" stroke-width="0.12" textLength="12.25" lengthAdjust="spacingAndGlyphs">-100</text>
<line x1="242.50" y1="643.40" x2="245.50" y2="643.40" stroke="#231f20" stroke-width="1.05"/>
<text x="239.10" y="645.55" font-size="6.0" text-anchor="end" fill="#2a2a2a" stroke="#2a2a2a" stroke-width="0.12" textLength="3.40" lengthAdjust="spacingAndGlyphs">0</text>
<line x1="242.50" y1="622.30" x2="245.50" y2="622.30" stroke="#231f20" stroke-width="1.05"/>
<text x="239.10" y="624.45" font-size="6.0" text-anchor="end" fill="#2a2a2a" stroke="#2a2a2a" stroke-width="0.12" textLength="10.21" lengthAdjust="spacingAndGlyphs">100</text>
<line x1="242.50" y1="601.30" x2="245.50" y2="601.30" stroke="#231f20" stroke-width="1.05"/>
<text x="239.10" y="603.45" font-size="6.0" text-anchor="end" fill="#2a2a2a" stroke="#2a2a2a" stroke-width="0.12" textLength="10.21" lengthAdjust="spacingAndGlyphs">200</text>
<line x1="242.50" y1="580.20" x2="245.50" y2="580.20" stroke="#231f20" stroke-width="1.05"/>
<text x="239.10" y="582.35" font-size="6.0" text-anchor="end" fill="#2a2a2a" stroke="#2a2a2a" stroke-width="0.12" textLength="10.21" lengthAdjust="spacingAndGlyphs">300</text>
<line x1="245.80" y1="663.50" x2="308.80" y2="663.50" stroke="#231f20" stroke-width="1.05"/>
<line x1="264.10" y1="663.50" x2="264.10" y2="665.70" stroke="#231f20" stroke-width="1.05"/>
<line x1="290.40" y1="663.50" x2="290.40" y2="665.70" stroke="#231f20" stroke-width="1.05"/>
<text x="266.50" y="672.50" font-size="6.9" text-anchor="end" fill="#2a2a2a" stroke="#2a2a2a" stroke-width="0.12" textLength="22.00" lengthAdjust="spacingAndGlyphs" transform="rotate(-45 266.50 672.50)">HC iSNs</text>
<text x="292.80" y="672.50" font-size="6.9" text-anchor="end" fill="#2a2a2a" stroke="#2a2a2a" stroke-width="0.12" textLength="26.00" lengthAdjust="spacingAndGlyphs" transform="rotate(-45 292.80 672.50)">SCD iSNs</text>
<text x="277.50" y="572.85" font-size="8.8" text-anchor="middle" fill="#231f20" textLength="57.00" lengthAdjust="spacingAndGlyphs">50uM ab-meATP</text>
<path d="M264.10,602.20 C264.27,602.98 264.77,605.43 265.10,606.90 C265.43,608.37 265.90,609.88 266.10,611.00 C266.30,612.12 266.30,612.72 266.30,613.60 C266.30,614.48 265.97,615.17 266.10,616.30 C266.23,617.43 266.68,618.82 267.10,620.40 C267.52,621.98 268.30,624.23 268.60,625.80 C268.90,627.37 268.98,628.47 268.90,629.80 C268.82,631.13 267.90,632.45 268.10,633.80 C268.30,635.15 269.32,636.67 270.10,637.90 C270.88,639.13 272.72,640.08 272.80,641.20 C272.88,642.32 271.55,643.47 270.60,644.60 C269.65,645.73 267.98,646.98 267.10,648.00 C266.22,649.02 265.80,649.47 265.30,650.70 C264.80,651.93 264.30,654.62 264.10,655.40 L264.10,655.40 C263.90,654.62 263.40,651.93 262.90,650.70 C262.40,649.47 261.98,649.02 261.10,648.00 C260.22,646.98 258.55,645.73 257.60,644.60 C256.65,643.47 255.32,642.32 255.40,641.20 C255.48,640.08 257.32,639.13 258.10,637.90 C258.88,636.67 259.90,635.15 260.10,633.80 C260.30,632.45 259.38,631.13 259.30,629.80 C259.22,628.47 259.30,627.37 259.60,625.80 C259.90,624.23 260.68,621.98 261.10,620.40 C261.52,618.82 261.97,617.43 262.10,616.30 C262.23,615.17 261.90,614.48 261.90,613.60 C261.90,612.72 261.90,612.12 262.10,611.00 C262.30,609.88 262.77,608.37 263.10,606.90 C263.43,605.43 263.93,602.98 264.10,602.20 Z" fill="#3aa6dd" stroke="#111" stroke-width="0.9" stroke-linejoin="round"/>
<circle cx="264.10" cy="612.00" r="1.6" fill="#111"/>
<circle cx="264.10" cy="614.50" r="1.6" fill="#111"/>
<circle cx="262.10" cy="627.00" r="1.6" fill="#111"/>
<circle cx="266.60" cy="627.00" r="1.6" fill="#111"/>
<circle cx="264.10" cy="631.00" r="1.6" fill="#111"/>
<circle cx="264.10" cy="634.00" r="1.6" fill="#111"/>
<circle cx="258.60" cy="641.00" r="1.6" fill="#111"/>
<circle cx="262.60" cy="641.50" r="1.6" fill="#111"/>
<circle cx="267.60" cy="641.00" r="1.6" fill="#111"/>
<circle cx="271.10" cy="641.50" r="1.6" fill="#111"/>
<circle cx="264.10" cy="644.00" r="1.6" fill="#111"/>
<path d="M290.40,593.50 C290.60,594.62 291.27,598.18 291.60,600.20 C291.93,602.22 292.43,603.58 292.40,605.60 C292.37,607.62 291.60,610.28 291.40,612.30 C291.20,614.32 291.03,615.90 291.20,617.70 C291.37,619.50 292.12,621.08 292.40,623.10 C292.68,625.12 292.57,628.02 292.90,629.80 C293.23,631.58 293.43,632.57 294.40,633.80 C295.37,635.03 297.92,635.97 298.70,637.20 C299.48,638.43 299.48,639.97 299.10,641.20 C298.72,642.43 297.35,643.47 296.40,644.60 C295.45,645.73 294.23,646.88 293.40,648.00 C292.57,649.12 291.90,649.97 291.40,651.30 C290.90,652.63 290.57,655.22 290.40,656.00 L290.40,656.00 C290.23,655.22 289.90,652.63 289.40,651.30 C288.90,649.97 288.23,649.12 287.40,648.00 C286.57,646.88 285.35,645.73 284.40,644.60 C283.45,643.47 282.08,642.43 281.70,641.20 C281.32,639.97 281.32,638.43 282.10,637.20 C282.88,635.97 285.43,635.03 286.40,633.80 C287.37,632.57 287.57,631.58 287.90,629.80 C288.23,628.02 288.12,625.12 288.40,623.10 C288.68,621.08 289.43,619.50 289.60,617.70 C289.77,615.90 289.60,614.32 289.40,612.30 C289.20,610.28 288.43,607.62 288.40,605.60 C288.37,603.58 288.87,602.22 289.20,600.20 C289.53,598.18 290.20,594.62 290.40,593.50 Z" fill="#d3173b" stroke="#111" stroke-width="0.9" stroke-linejoin="round"/>
<circle cx="290.40" cy="604.50" r="1.6" fill="#111"/>
<circle cx="290.40" cy="607.00" r="1.6" fill="#111"/>
<circle cx="290.40" cy="624.00" r="1.6" fill="#111"/>
<circle cx="290.40" cy="630.00" r="1.6" fill="#111"/>
<circle cx="290.40" cy="633.00" r="1.6" fill="#111"/>
<circle cx="283.90" cy="637.50" r="1.6" fill="#111"/>
<circle cx="288.40" cy="641.00" r="1.6" fill="#111"/>
<circle cx="293.40" cy="641.50" r="1.6" fill="#111"/>
<circle cx="296.90" cy="640.00" r="1.6" fill="#111"/>
<circle cx="290.40" cy="644.00" r="1.6" fill="#111"/>
<path d="M264.10,592.90 L264.10,587.40 L290.40,587.40 L290.40,592.90" fill="none" stroke="#555" stroke-width="0.7"/>
<text x="277.25" y="585.32" font-size="6.2" text-anchor="middle" fill="#2a2a2a" stroke="#2a2a2a" stroke-width="0.12">ns</text>
<text x="220.22" y="618.40" font-size="7.6" text-anchor="middle" fill="#2a2a2a" stroke="#2a2a2a" stroke-width="0.12" transform="rotate(-90 220.22 618.40)" textLength="111.30" lengthAdjust="spacingAndGlyphs">Relative calcium flux (% of PBS control)</text>
<line x1="347.70" y1="651.80" x2="408.80" y2="651.80" stroke="#cfcfcf" stroke-width="0.8"/>
<line x1="347.50" y1="578.80" x2="347.50" y2="664.10" stroke="#231f20" stroke-width="1.05"/>
<line x1="344.50" y1="651.75" x2="347.50" y2="651.75" stroke="#231f20" stroke-width="1.05"/>
<text x="341.10" y="653.90" font-size="6.0" text-anchor="end" fill="#2a2a2a" stroke="#2a2a2a" stroke-width="0.12" textLength="3.40" lengthAdjust="spacingAndGlyphs">0</text>
<line x1="344.50" y1="627.80" x2="347.50" y2="627.80" stroke="#231f20" stroke-width="1.05"/>
<text x="341.10" y="629.95" font-size="6.0" text-anchor="end" fill="#2a2a2a" stroke="#2a2a2a" stroke-width="0.12" textLength="6.81" lengthAdjust="spacingAndGlyphs">20</text>
<line x1="344.50" y1="603.90" x2="347.50" y2="603.90" stroke="#231f20" stroke-width="1.05"/>
<text x="341.10" y="606.05" font-size="6.0" text-anchor="end" fill="#2a2a2a" stroke="#2a2a2a" stroke-width="0.12" textLength="6.81" lengthAdjust="spacingAndGlyphs">40</text>
<line x1="344.50" y1="580.00" x2="347.50" y2="580.00" stroke="#231f20" stroke-width="1.05"/>
<text x="341.10" y="582.15" font-size="6.0" text-anchor="end" fill="#2a2a2a" stroke="#2a2a2a" stroke-width="0.12" textLength="6.81" lengthAdjust="spacingAndGlyphs">60</text>
<line x1="347.70" y1="663.50" x2="408.80" y2="663.50" stroke="#231f20" stroke-width="1.05"/>
<line x1="365.50" y1="663.50" x2="365.50" y2="665.70" stroke="#231f20" stroke-width="1.05"/>
<line x1="391.70" y1="663.50" x2="391.70" y2="665.70" stroke="#231f20" stroke-width="1.05"/>
<text x="367.90" y="672.50" font-size="6.9" text-anchor="end" fill="#2a2a2a" stroke="#2a2a2a" stroke-width="0.12" textLength="22.00" lengthAdjust="spacingAndGlyphs" transform="rotate(-45 367.90 672.50)">HC iSNs</text>
<text x="394.10" y="672.50" font-size="6.9" text-anchor="end" fill="#2a2a2a" stroke="#2a2a2a" stroke-width="0.12" textLength="26.00" lengthAdjust="spacingAndGlyphs" transform="rotate(-45 394.10 672.50)">SCD iSNs</text>
<text x="378.80" y="572.85" font-size="8.8" text-anchor="middle" fill="#231f20" textLength="57.00" lengthAdjust="spacingAndGlyphs">10uM Capsaicin</text>
<path d="M365.50,630.00 C365.80,630.33 367.15,631.22 367.30,632.00 C367.45,632.78 366.20,633.80 366.40,634.70 C366.60,635.60 367.25,636.62 368.50,637.40 C369.75,638.18 373.57,638.73 373.90,639.40 C374.23,640.07 371.70,640.62 370.50,641.40 C369.30,642.18 367.37,642.97 366.70,644.10 C366.03,645.23 366.43,647.18 366.50,648.20 C366.57,649.22 367.27,649.32 367.10,650.20 C366.93,651.08 365.77,652.95 365.50,653.50 L365.50,653.50 C365.23,652.95 364.07,651.08 363.90,650.20 C363.73,649.32 364.43,649.22 364.50,648.20 C364.57,647.18 364.97,645.23 364.30,644.10 C363.63,642.97 361.70,642.18 360.50,641.40 C359.30,640.62 356.77,640.07 357.10,639.40 C357.43,638.73 361.25,638.18 362.50,637.40 C363.75,636.62 364.40,635.60 364.60,634.70 C364.80,633.80 363.55,632.78 363.70,632.00 C363.85,631.22 365.20,630.33 365.50,630.00 Z" fill="#3aa6dd" stroke="#111" stroke-width="0.9" stroke-linejoin="round"/>
<circle cx="365.50" cy="632.00" r="1.6" fill="#111"/>
<circle cx="365.50" cy="634.00" r="1.6" fill="#111"/>
<circle cx="359.00" cy="639.40" r="1.6" fill="#111"/>
<circle cx="372.00" cy="639.40" r="1.6" fill="#111"/>
<circle cx="361.00" cy="639.60" r="1.6" fill="#111"/>
<circle cx="370.00" cy="639.60" r="1.6" fill="#111"/>
<circle cx="362.50" cy="639.80" r="1.6" fill="#111"/>
<circle cx="368.50" cy="639.80" r="1.6" fill="#111"/>
<circle cx="365.50" cy="640.50" r="1.6" fill="#111"/>
<circle cx="364.00" cy="641.50" r="1.6" fill="#111"/>
<circle cx="367.00" cy="641.50" r="1.6" fill="#111"/>
<circle cx="364.00" cy="638.00" r="1.6" fill="#111"/>
<circle cx="367.00" cy="638.00" r="1.6" fill="#111"/>
<circle cx="365.50" cy="643.00" r="1.6" fill="#111"/>
<circle cx="365.50" cy="645.00" r="1.6" fill="#111"/>
<circle cx="365.50" cy="649.50" r="1.6" fill="#111"/>
<circle cx="365.50" cy="651.00" r="1.6" fill="#111"/>
<path d="M391.70,610.50 C391.90,611.05 392.57,612.80 392.90,613.80 C393.23,614.80 393.77,615.48 393.70,616.50 C393.63,617.52 392.70,617.88 392.50,619.90 C392.30,621.92 392.30,626.47 392.50,628.60 C392.70,630.73 392.92,631.35 393.70,632.70 C394.48,634.05 396.12,635.57 397.20,636.70 C398.28,637.83 399.67,638.32 400.20,639.50 C400.73,640.68 400.98,642.63 400.40,643.80 C399.82,644.97 397.85,645.63 396.70,646.50 C395.55,647.37 394.33,648.27 393.50,649.00 C392.67,649.73 392.00,650.58 391.70,650.90 L391.70,650.90 C391.40,650.58 390.73,649.73 389.90,649.00 C389.07,648.27 387.85,647.37 386.70,646.50 C385.55,645.63 383.58,644.97 383.00,643.80 C382.42,642.63 382.67,640.68 383.20,639.50 C383.73,638.32 385.12,637.83 386.20,636.70 C387.28,635.57 388.92,634.05 389.70,632.70 C390.48,631.35 390.70,630.73 390.90,628.60 C391.10,626.47 391.10,621.92 390.90,619.90 C390.70,617.88 389.77,617.52 389.70,616.50 C389.63,615.48 390.17,614.80 390.50,613.80 C390.83,612.80 391.50,611.05 391.70,610.50 Z" fill="#d3173b" stroke="#111" stroke-width="0.9" stroke-linejoin="round"/>
<circle cx="391.70" cy="615.50" r="1.6" fill="#111"/>
<circle cx="391.70" cy="617.00" r="1.6" fill="#111"/>
<circle cx="391.70" cy="632.00" r="1.6" fill="#111"/>
<circle cx="391.70" cy="634.00" r="1.6" fill="#111"/>
<circle cx="388.70" cy="637.00" r="1.6" fill="#111"/>
<circle cx="394.70" cy="637.00" r="1.6" fill="#111"/>
<circle cx="384.70" cy="641.00" r="1.6" fill="#111"/>
<circle cx="398.70" cy="641.00" r="1.6" fill="#111"/>
<circle cx="387.70" cy="643.00" r="1.6" fill="#111"/>
<circle cx="395.70" cy="643.00" r="1.6" fill="#111"/>
<circle cx="391.70" cy="640.00" r="1.6" fill="#111"/>
<circle cx="391.70" cy="644.00" r="1.6" fill="#111"/>
<circle cx="385.70" cy="644.00" r="1.6" fill="#111"/>
<circle cx="397.70" cy="644.00" r="1.6" fill="#111"/>
<circle cx="391.70" cy="646.00" r="1.6" fill="#111"/>
<path d="M365.50,609.70 L365.50,604.20 L391.70,604.20 L391.70,609.70" fill="none" stroke="#555" stroke-width="0.7"/>
<text x="378.60" y="602.12" font-size="6.2" text-anchor="middle" fill="#2a2a2a" stroke="#2a2a2a" stroke-width="0.12">ns</text>
<text x="329.22" y="618.40" font-size="7.6" text-anchor="middle" fill="#2a2a2a" stroke="#2a2a2a" stroke-width="0.12" transform="rotate(-90 329.22 618.40)" textLength="111.30" lengthAdjust="spacingAndGlyphs">Relative calcium flux (% of PBS control)</text>
<line x1="451.50" y1="651.60" x2="513.00" y2="651.60" stroke="#cfcfcf" stroke-width="0.8"/>
<line x1="451.50" y1="578.60" x2="451.50" y2="663.80" stroke="#231f20" stroke-width="1.05"/>
<line x1="448.50" y1="651.70" x2="451.50" y2="651.70" stroke="#231f20" stroke-width="1.05"/>
<text x="445.10" y="653.85" font-size="6.0" text-anchor="end" fill="#2a2a2a" stroke="#2a2a2a" stroke-width="0.12" textLength="3.40" lengthAdjust="spacingAndGlyphs">0</text>
<line x1="448.50" y1="627.70" x2="451.50" y2="627.70" stroke="#231f20" stroke-width="1.05"/>
<text x="445.10" y="629.85" font-size="6.0" text-anchor="end" fill="#2a2a2a" stroke="#2a2a2a" stroke-width="0.12" textLength="6.81" lengthAdjust="spacingAndGlyphs">20</text>
<line x1="448.50" y1="603.80" x2="451.50" y2="603.80" stroke="#231f20" stroke-width="1.05"/>
<text x="445.10" y="605.95" font-size="6.0" text-anchor="end" fill="#2a2a2a" stroke="#2a2a2a" stroke-width="0.12" textLength="6.81" lengthAdjust="spacingAndGlyphs">40</text>
<line x1="448.50" y1="579.80" x2="451.50" y2="579.80" stroke="#231f20" stroke-width="1.05"/>
<text x="445.10" y="581.95" font-size="6.0" text-anchor="end" fill="#2a2a2a" stroke="#2a2a2a" stroke-width="0.12" textLength="6.81" lengthAdjust="spacingAndGlyphs">60</text>
<line x1="451.50" y1="663.50" x2="513.00" y2="663.50" stroke="#231f20" stroke-width="1.05"/>
<line x1="469.50" y1="663.50" x2="469.50" y2="665.70" stroke="#231f20" stroke-width="1.05"/>
<line x1="496.00" y1="663.50" x2="496.00" y2="665.70" stroke="#231f20" stroke-width="1.05"/>
<text x="471.90" y="672.50" font-size="6.9" text-anchor="end" fill="#2a2a2a" stroke="#2a2a2a" stroke-width="0.12" textLength="22.00" lengthAdjust="spacingAndGlyphs" transform="rotate(-45 471.90 672.50)">HC iSNs</text>
<text x="498.40" y="672.50" font-size="6.9" text-anchor="end" fill="#2a2a2a" stroke="#2a2a2a" stroke-width="0.12" textLength="26.00" lengthAdjust="spacingAndGlyphs" transform="rotate(-45 498.40 672.50)">SCD iSNs</text>
<text x="483.00" y="572.85" font-size="8.8" text-anchor="middle" fill="#231f20" textLength="57.00" lengthAdjust="spacingAndGlyphs">50uM Capsaicin</text>
<path d="M469.50,611.20 C469.92,612.00 471.28,614.53 472.00,616.00 C472.72,617.47 473.52,618.67 473.80,620.00 C474.08,621.33 473.25,622.43 473.70,624.00 C474.15,625.57 475.87,627.93 476.50,629.40 C477.13,630.87 477.58,631.57 477.50,632.80 C477.42,634.03 476.58,635.35 476.00,636.80 C475.42,638.25 474.67,639.93 474.00,641.50 C473.33,643.07 472.58,644.85 472.00,646.20 C471.42,647.55 470.92,648.25 470.50,649.60 C470.08,650.95 469.67,653.52 469.50,654.30 L469.50,654.30 C469.33,653.52 468.92,650.95 468.50,649.60 C468.08,648.25 467.58,647.55 467.00,646.20 C466.42,644.85 465.67,643.07 465.00,641.50 C464.33,639.93 463.58,638.25 463.00,636.80 C462.42,635.35 461.58,634.03 461.50,632.80 C461.42,631.57 461.87,630.87 462.50,629.40 C463.13,627.93 464.85,625.57 465.30,624.00 C465.75,622.43 464.92,621.33 465.20,620.00 C465.48,618.67 466.28,617.47 467.00,616.00 C467.72,614.53 469.08,612.00 469.50,611.20 Z" fill="#3aa6dd" stroke="#111" stroke-width="0.9" stroke-linejoin="round"/>
<circle cx="463.50" cy="619.00" r="1.6" fill="#111"/>
<circle cx="473.50" cy="621.30" r="1.6" fill="#111"/>
<circle cx="462.00" cy="629.40" r="1.6" fill="#111"/>
<circle cx="469.50" cy="633.50" r="1.6" fill="#111"/>
<circle cx="476.50" cy="632.80" r="1.6" fill="#111"/>
<circle cx="476.50" cy="636.50" r="1.6" fill="#111"/>
<circle cx="469.50" cy="639.50" r="1.6" fill="#111"/>
<circle cx="469.50" cy="645.00" r="1.6" fill="#111"/>
<path d="M496.00,603.80 C496.25,604.82 496.92,608.10 497.50,609.90 C498.08,611.70 498.67,612.92 499.50,614.60 C500.33,616.28 501.70,618.43 502.50,620.00 C503.30,621.57 504.55,622.67 504.30,624.00 C504.05,625.33 501.97,626.65 501.00,628.00 C500.03,629.35 498.88,630.75 498.50,632.10 C498.12,633.45 498.20,634.75 498.70,636.10 C499.20,637.45 500.62,638.85 501.50,640.20 C502.38,641.55 503.75,642.97 504.00,644.20 C504.25,645.43 503.67,646.37 503.00,647.60 C502.33,648.83 500.92,650.37 500.00,651.60 C499.08,652.83 498.08,653.53 497.50,655.00 C496.92,656.47 496.75,658.95 496.50,660.40 C496.25,661.85 496.08,663.15 496.00,663.70 L496.00,663.70 C495.92,663.15 495.75,661.85 495.50,660.40 C495.25,658.95 495.08,656.47 494.50,655.00 C493.92,653.53 492.92,652.83 492.00,651.60 C491.08,650.37 489.67,648.83 489.00,647.60 C488.33,646.37 487.75,645.43 488.00,644.20 C488.25,642.97 489.62,641.55 490.50,640.20 C491.38,638.85 492.80,637.45 493.30,636.10 C493.80,634.75 493.88,633.45 493.50,632.10 C493.12,630.75 491.97,629.35 491.00,628.00 C490.03,626.65 487.95,625.33 487.70,624.00 C487.45,622.67 488.70,621.57 489.50,620.00 C490.30,618.43 491.67,616.28 492.50,614.60 C493.33,612.92 493.92,611.70 494.50,609.90 C495.08,608.10 495.75,604.82 496.00,603.80 Z" fill="#d3173b" stroke="#111" stroke-width="0.9" stroke-linejoin="round"/>
<circle cx="496.00" cy="612.00" r="1.6" fill="#111"/>
<circle cx="496.00" cy="617.00" r="1.6" fill="#111"/>
<circle cx="488.00" cy="624.00" r="1.6" fill="#111"/>
<circle cx="504.00" cy="624.00" r="1.6" fill="#111"/>
<circle cx="496.00" cy="627.50" r="1.6" fill="#111"/>
<circle cx="496.00" cy="633.00" r="1.6" fill="#111"/>
<circle cx="496.00" cy="636.00" r="1.6" fill="#111"/>
<circle cx="488.00" cy="644.00" r="1.6" fill="#111"/>
<circle cx="504.00" cy="644.00" r="1.6" fill="#111"/>
<circle cx="496.00" cy="645.50" r="1.6" fill="#111"/>
<circle cx="496.00" cy="648.00" r="1.6" fill="#111"/>
<path d="M469.50,601.90 L469.50,596.40 L496.00,596.40 L496.00,601.90" fill="none" stroke="#555" stroke-width="0.7"/>
<text x="482.75" y="594.32" font-size="6.2" text-anchor="middle" fill="#2a2a2a" stroke="#2a2a2a" stroke-width="0.12">ns</text>
<text x="433.12" y="618.40" font-size="7.6" text-anchor="middle" fill="#2a2a2a" stroke="#2a2a2a" stroke-width="0.12" transform="rotate(-90 433.12 618.40)" textLength="111.30" lengthAdjust="spacingAndGlyphs">Relative calcium flux (% of PBS control)</text>
<rect x="0.5" y="0.5" width="519" height="697" fill="none" stroke="#5a5a5a" stroke-width="1"/>
</svg>
</body></html>
